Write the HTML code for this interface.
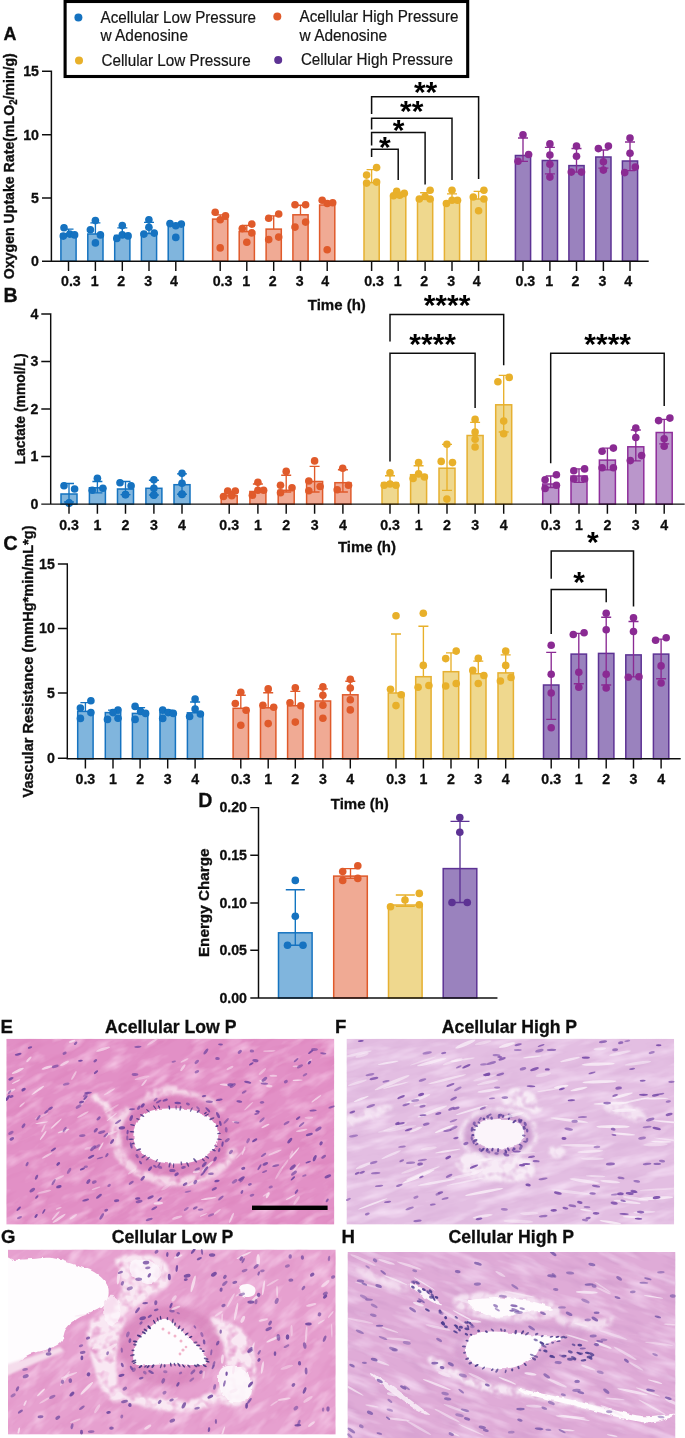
<!DOCTYPE html>
<html lang="en">
<head>
<meta charset="utf-8">
<title>Figure</title>
<style>
html,body{margin:0;padding:0;background:#fff;}
body{width:685px;height:1438px;overflow:hidden;}
svg{display:block;font-family:"Liberation Sans",sans-serif;}
</style>
</head>
<body>
<svg width="685" height="1438" viewBox="0 0 685 1438">
<rect width="685" height="1438" fill="#fff"/>
<defs><filter id="soft" x="0" y="0" width="685" height="1438" filterUnits="userSpaceOnUse"><feGaussianBlur stdDeviation="0.38"/></filter></defs>
<g filter="url(#soft)">
<rect x="65.1" y="1.5" width="402.6" height="75.0" fill="#fff" stroke="#000" stroke-width="3.1"/>
<circle cx="78.4" cy="17.4" r="4" fill="#1272c0"/>
<circle cx="79" cy="60.4" r="4" fill="#e8b02a"/>
<circle cx="277.3" cy="16.4" r="4" fill="#e05a2b"/>
<circle cx="278.2" cy="59.9" r="4" fill="#5d3394"/>
<text x="100.5" y="22.6" font-size="16.1" fill="#151515" stroke="#151515" stroke-width="0.2" textLength="155.5" lengthAdjust="spacingAndGlyphs">Acellular Low Pressure</text>
<text x="100.5" y="40.8" font-size="16.1" fill="#151515" stroke="#151515" stroke-width="0.2" textLength="87.5" lengthAdjust="spacingAndGlyphs">w Adenosine</text>
<text x="101.4" y="65.5" font-size="16.1" fill="#151515" stroke="#151515" stroke-width="0.2" textLength="149.3" lengthAdjust="spacingAndGlyphs">Cellular Low Pressure</text>
<text x="299.6" y="22.4" font-size="16.1" fill="#151515" stroke="#151515" stroke-width="0.2" textLength="159" lengthAdjust="spacingAndGlyphs">Acellular High Pressure</text>
<text x="299.6" y="40.6" font-size="16.1" fill="#151515" stroke="#151515" stroke-width="0.2" textLength="87.5" lengthAdjust="spacingAndGlyphs">w Adenosine</text>
<text x="300.9" y="65.3" font-size="16.1" fill="#151515" stroke="#151515" stroke-width="0.2" textLength="152" lengthAdjust="spacingAndGlyphs">Cellular High Pressure</text>
<text x="3.4" y="40.1" font-size="17.9" font-weight="bold" text-anchor="start" fill="#111" stroke="#111" stroke-width="0.3" >A</text>
<text x="3.4" y="302.0" font-size="19.6" font-weight="bold" text-anchor="start" fill="#111" stroke="#111" stroke-width="0.3" >B</text>
<text x="3.2" y="549.8" font-size="20" font-weight="bold" text-anchor="start" fill="#111" stroke="#111" stroke-width="0.3" >C</text>
<text x="198.2" y="807.2" font-size="19.6" font-weight="bold" text-anchor="start" fill="#111" stroke="#111" stroke-width="0.3" >D</text>
<rect x="60.9" y="234.0" width="15.2" height="27.2" fill="#80b5dd" stroke="#1473c0" stroke-width="1.5"/>
<path d="M68.5 229.1V234.0M63.5 229.1H73.5" stroke="#1272c0" stroke-width="1.35" fill="none"/>
<circle cx="64.0" cy="227.8" r="3.8" fill="#1272c0"/>
<circle cx="63.3" cy="236.1" r="3.8" fill="#1272c0"/>
<circle cx="69.8" cy="234.1" r="3.8" fill="#1272c0"/>
<circle cx="74.6" cy="234.9" r="3.8" fill="#1272c0"/>
<rect x="87.8" y="234.0" width="15.2" height="27.2" fill="#80b5dd" stroke="#1473c0" stroke-width="1.5"/>
<path d="M95.4 222.8V234.0M90.4 222.8H100.4" stroke="#1272c0" stroke-width="1.35" fill="none"/>
<circle cx="95.4" cy="220.6" r="3.8" fill="#1272c0"/>
<circle cx="90.4" cy="229.8" r="3.8" fill="#1272c0"/>
<circle cx="100.4" cy="234.9" r="3.8" fill="#1272c0"/>
<circle cx="95.4" cy="242.9" r="3.8" fill="#1272c0"/>
<rect x="114.7" y="235.5" width="15.2" height="25.7" fill="#80b5dd" stroke="#1473c0" stroke-width="1.5"/>
<path d="M122.3 227.8V235.5M117.3 227.8H127.3" stroke="#1272c0" stroke-width="1.35" fill="none"/>
<circle cx="122.3" cy="225.6" r="3.8" fill="#1272c0"/>
<circle cx="116.8" cy="238.4" r="3.8" fill="#1272c0"/>
<circle cx="122.3" cy="234.9" r="3.8" fill="#1272c0"/>
<circle cx="128.1" cy="235.9" r="3.8" fill="#1272c0"/>
<rect x="141.4" y="233.5" width="15.2" height="27.7" fill="#80b5dd" stroke="#1473c0" stroke-width="1.5"/>
<path d="M149.0 222.3V233.5M144.0 222.3H154.0" stroke="#1272c0" stroke-width="1.35" fill="none"/>
<circle cx="148.9" cy="219.8" r="3.8" fill="#1272c0"/>
<circle cx="148.9" cy="227.3" r="3.8" fill="#1272c0"/>
<circle cx="143.9" cy="234.1" r="3.8" fill="#1272c0"/>
<circle cx="154.2" cy="233.1" r="3.8" fill="#1272c0"/>
<rect x="168.2" y="225.0" width="15.2" height="36.2" fill="#80b5dd" stroke="#1473c0" stroke-width="1.5"/>
<path d="M175.8 224.1V225.0M170.8 224.1H180.8" stroke="#1272c0" stroke-width="1.35" fill="none"/>
<circle cx="170.0" cy="223.6" r="3.8" fill="#1272c0"/>
<circle cx="181.3" cy="224.1" r="3.8" fill="#1272c0"/>
<circle cx="175.8" cy="237.4" r="3.8" fill="#1272c0"/>
<circle cx="175.8" cy="225.8" r="3.8" fill="#1272c0"/>
<rect x="212.6" y="219.1" width="15.2" height="42.1" fill="#f0aa94" stroke="#e05a2b" stroke-width="1.5"/>
<path d="M220.2 214.8V219.1M215.2 214.8H225.2" stroke="#e05a2b" stroke-width="1.35" fill="none"/>
<circle cx="215.2" cy="212.3" r="3.8" fill="#e05a2b"/>
<circle cx="225.5" cy="215.8" r="3.8" fill="#e05a2b"/>
<circle cx="220.2" cy="219.8" r="3.8" fill="#e05a2b"/>
<circle cx="220.2" cy="247.9" r="3.8" fill="#e05a2b"/>
<rect x="239.2" y="231.6" width="15.2" height="29.6" fill="#f0aa94" stroke="#e05a2b" stroke-width="1.5"/>
<path d="M246.8 225.3V231.6M241.8 225.3H251.8" stroke="#e05a2b" stroke-width="1.35" fill="none"/>
<circle cx="251.8" cy="224.1" r="3.8" fill="#e05a2b"/>
<circle cx="242.3" cy="228.6" r="3.8" fill="#e05a2b"/>
<circle cx="251.8" cy="232.9" r="3.8" fill="#e05a2b"/>
<circle cx="246.8" cy="242.2" r="3.8" fill="#e05a2b"/>
<rect x="266.1" y="229.1" width="15.2" height="32.1" fill="#f0aa94" stroke="#e05a2b" stroke-width="1.5"/>
<path d="M273.7 215.8V229.1M268.7 215.8H278.7" stroke="#e05a2b" stroke-width="1.35" fill="none"/>
<circle cx="278.7" cy="214.0" r="3.8" fill="#e05a2b"/>
<circle cx="268.7" cy="218.3" r="3.8" fill="#e05a2b"/>
<circle cx="278.7" cy="237.1" r="3.8" fill="#e05a2b"/>
<circle cx="268.7" cy="239.6" r="3.8" fill="#e05a2b"/>
<rect x="292.9" y="214.8" width="15.2" height="46.4" fill="#f0aa94" stroke="#e05a2b" stroke-width="1.5"/>
<path d="M300.5 205.2V214.8M295.5 205.2H305.5" stroke="#e05a2b" stroke-width="1.35" fill="none"/>
<circle cx="295.0" cy="204.7" r="3.8" fill="#e05a2b"/>
<circle cx="305.6" cy="204.7" r="3.8" fill="#e05a2b"/>
<circle cx="305.6" cy="222.1" r="3.8" fill="#e05a2b"/>
<circle cx="295.0" cy="227.1" r="3.8" fill="#e05a2b"/>
<rect x="319.6" y="205.0" width="15.2" height="56.2" fill="#f0aa94" stroke="#e05a2b" stroke-width="1.5"/>
<path d="M327.2 201.5V205.0M322.2 201.5H332.2" stroke="#e05a2b" stroke-width="1.35" fill="none"/>
<circle cx="322.2" cy="200.2" r="3.8" fill="#e05a2b"/>
<circle cx="327.2" cy="203.5" r="3.8" fill="#e05a2b"/>
<circle cx="332.7" cy="202.7" r="3.8" fill="#e05a2b"/>
<circle cx="327.2" cy="249.7" r="3.8" fill="#e05a2b"/>
<rect x="364.0" y="182.6" width="15.2" height="78.6" fill="#efd88e" stroke="#e6b030" stroke-width="1.5"/>
<path d="M371.6 169.6V182.6M366.6 169.6H376.6" stroke="#e8b02a" stroke-width="1.35" fill="none"/>
<circle cx="376.6" cy="167.6" r="3.8" fill="#e8b02a"/>
<circle cx="366.6" cy="175.1" r="3.8" fill="#e8b02a"/>
<circle cx="366.6" cy="183.1" r="3.8" fill="#e8b02a"/>
<circle cx="376.6" cy="182.1" r="3.8" fill="#e8b02a"/>
<rect x="390.6" y="196.5" width="15.2" height="64.7" fill="#efd88e" stroke="#e6b030" stroke-width="1.5"/>
<path d="M398.2 192.7V196.5M393.2 192.7H403.2" stroke="#e8b02a" stroke-width="1.35" fill="none"/>
<circle cx="396.7" cy="191.4" r="3.8" fill="#e8b02a"/>
<circle cx="393.5" cy="195.7" r="3.8" fill="#e8b02a"/>
<circle cx="399.7" cy="195.2" r="3.8" fill="#e8b02a"/>
<circle cx="404.3" cy="193.2" r="3.8" fill="#e8b02a"/>
<rect x="417.5" y="199.0" width="15.2" height="62.2" fill="#efd88e" stroke="#e6b030" stroke-width="1.5"/>
<path d="M425.1 192.7V199.0M420.1 192.7H430.1" stroke="#e8b02a" stroke-width="1.35" fill="none"/>
<circle cx="430.1" cy="190.2" r="3.8" fill="#e8b02a"/>
<circle cx="425.1" cy="196.5" r="3.8" fill="#e8b02a"/>
<circle cx="419.3" cy="199.0" r="3.8" fill="#e8b02a"/>
<circle cx="430.1" cy="199.0" r="3.8" fill="#e8b02a"/>
<rect x="444.4" y="201.5" width="15.2" height="59.7" fill="#efd88e" stroke="#e6b030" stroke-width="1.5"/>
<path d="M452.0 193.9V201.5M447.0 193.9H457.0" stroke="#e8b02a" stroke-width="1.35" fill="none"/>
<circle cx="452.0" cy="190.2" r="3.8" fill="#e8b02a"/>
<circle cx="446.4" cy="203.5" r="3.8" fill="#e8b02a"/>
<circle cx="452.0" cy="200.2" r="3.8" fill="#e8b02a"/>
<circle cx="457.5" cy="200.2" r="3.8" fill="#e8b02a"/>
<rect x="471.0" y="199.0" width="15.2" height="62.2" fill="#efd88e" stroke="#e6b030" stroke-width="1.5"/>
<path d="M478.6 191.4V199.0M473.6 191.4H483.6" stroke="#e8b02a" stroke-width="1.35" fill="none"/>
<circle cx="483.9" cy="190.2" r="3.8" fill="#e8b02a"/>
<circle cx="473.3" cy="197.0" r="3.8" fill="#e8b02a"/>
<circle cx="483.9" cy="199.0" r="3.8" fill="#e8b02a"/>
<circle cx="478.6" cy="210.8" r="3.8" fill="#e8b02a"/>
<rect x="515.4" y="155.5" width="15.2" height="105.7" fill="#9a82be" stroke="#5d3394" stroke-width="1.5"/>
<path d="M523.0 138.0V161.3M518.0 138.0H528.0M518.0 161.3H528.0" stroke="#8a2b93" stroke-width="1.35" fill="none"/>
<circle cx="523.0" cy="134.8" r="3.8" fill="#8a2b93"/>
<circle cx="528.6" cy="154.5" r="3.8" fill="#8a2b93"/>
<circle cx="518.0" cy="161.3" r="3.8" fill="#8a2b93"/>
<rect x="542.3" y="160.5" width="15.2" height="100.7" fill="#9a82be" stroke="#5d3394" stroke-width="1.5"/>
<path d="M549.9 147.4V173.9M544.9 147.4H554.9M544.9 173.9H554.9" stroke="#8a2b93" stroke-width="1.35" fill="none"/>
<circle cx="549.9" cy="143.9" r="3.8" fill="#8a2b93"/>
<circle cx="549.9" cy="155.0" r="3.8" fill="#8a2b93"/>
<circle cx="549.9" cy="164.3" r="3.8" fill="#8a2b93"/>
<circle cx="549.9" cy="177.1" r="3.8" fill="#8a2b93"/>
<rect x="568.9" y="165.6" width="15.2" height="95.6" fill="#9a82be" stroke="#5d3394" stroke-width="1.5"/>
<path d="M576.5 148.5V172.1M571.5 148.5H581.5M571.5 172.1H581.5" stroke="#8a2b93" stroke-width="1.35" fill="none"/>
<circle cx="576.5" cy="146.1" r="3.8" fill="#8a2b93"/>
<circle cx="576.5" cy="156.3" r="3.8" fill="#8a2b93"/>
<circle cx="571.3" cy="172.1" r="3.8" fill="#8a2b93"/>
<circle cx="581.5" cy="172.1" r="3.8" fill="#8a2b93"/>
<rect x="595.8" y="157.0" width="15.2" height="104.2" fill="#9a82be" stroke="#5d3394" stroke-width="1.5"/>
<path d="M603.4 150.0V168.1M598.4 150.0H608.4M598.4 168.1H608.4" stroke="#8a2b93" stroke-width="1.35" fill="none"/>
<circle cx="598.4" cy="148.6" r="3.8" fill="#8a2b93"/>
<circle cx="608.4" cy="146.1" r="3.8" fill="#8a2b93"/>
<circle cx="603.4" cy="161.8" r="3.8" fill="#8a2b93"/>
<circle cx="603.4" cy="170.1" r="3.8" fill="#8a2b93"/>
<rect x="622.4" y="161.0" width="15.2" height="100.2" fill="#9a82be" stroke="#5d3394" stroke-width="1.5"/>
<path d="M630.0 142.0V170.6M625.0 142.0H635.0M625.0 170.6H635.0" stroke="#8a2b93" stroke-width="1.35" fill="none"/>
<circle cx="630.0" cy="138.1" r="3.8" fill="#8a2b93"/>
<circle cx="630.0" cy="153.3" r="3.8" fill="#8a2b93"/>
<circle cx="635.3" cy="167.1" r="3.8" fill="#8a2b93"/>
<circle cx="624.7" cy="172.6" r="3.8" fill="#8a2b93"/>
<path d="M51.4 71.3V261.2H648.0M42.7 71.3H51.4M42.7 134.8H51.4M42.7 197.9H51.4M42.7 261.2H51.4M68.5 261.2V270.2M95.4 261.2V270.2M122.3 261.2V270.2M149.0 261.2V270.2M175.8 261.2V270.2M220.2 261.2V270.2M246.8 261.2V270.2M273.7 261.2V270.2M300.5 261.2V270.2M327.2 261.2V270.2M371.6 261.2V270.2M398.2 261.2V270.2M425.1 261.2V270.2M452.0 261.2V270.2M478.6 261.2V270.2M523.0 261.2V270.2M549.9 261.2V270.2M576.5 261.2V270.2M603.4 261.2V270.2M630.0 261.2V270.2" stroke="#111" stroke-width="1.45" fill="none" stroke-linecap="square"/>
<text x="39.0" y="76.1" font-size="14.2" font-weight="bold" text-anchor="end" fill="#111" stroke="#111" stroke-width="0.3" >15</text>
<text x="39.0" y="139.6" font-size="14.2" font-weight="bold" text-anchor="end" fill="#111" stroke="#111" stroke-width="0.3" >10</text>
<text x="39.0" y="202.7" font-size="14.2" font-weight="bold" text-anchor="end" fill="#111" stroke="#111" stroke-width="0.3" >5</text>
<text x="39.0" y="266.0" font-size="14.2" font-weight="bold" text-anchor="end" fill="#111" stroke="#111" stroke-width="0.3" >0</text>
<text x="70.9" y="286.2" font-size="14.2" font-weight="bold" text-anchor="middle" fill="#111" stroke="#111" stroke-width="0.3" >0.3</text>
<text x="94.8" y="286.2" font-size="14.2" font-weight="bold" text-anchor="middle" fill="#111" stroke="#111" stroke-width="0.3" >1</text>
<text x="121.3" y="286.2" font-size="14.2" font-weight="bold" text-anchor="middle" fill="#111" stroke="#111" stroke-width="0.3" >2</text>
<text x="148.1" y="286.2" font-size="14.2" font-weight="bold" text-anchor="middle" fill="#111" stroke="#111" stroke-width="0.3" >3</text>
<text x="173.9" y="286.2" font-size="14.2" font-weight="bold" text-anchor="middle" fill="#111" stroke="#111" stroke-width="0.3" >4</text>
<text x="222.6" y="286.2" font-size="14.2" font-weight="bold" text-anchor="middle" fill="#111" stroke="#111" stroke-width="0.3" >0.3</text>
<text x="246.2" y="286.2" font-size="14.2" font-weight="bold" text-anchor="middle" fill="#111" stroke="#111" stroke-width="0.3" >1</text>
<text x="272.7" y="286.2" font-size="14.2" font-weight="bold" text-anchor="middle" fill="#111" stroke="#111" stroke-width="0.3" >2</text>
<text x="299.6" y="286.2" font-size="14.2" font-weight="bold" text-anchor="middle" fill="#111" stroke="#111" stroke-width="0.3" >3</text>
<text x="325.3" y="286.2" font-size="14.2" font-weight="bold" text-anchor="middle" fill="#111" stroke="#111" stroke-width="0.3" >4</text>
<text x="374.0" y="286.2" font-size="14.2" font-weight="bold" text-anchor="middle" fill="#111" stroke="#111" stroke-width="0.3" >0.3</text>
<text x="397.6" y="286.2" font-size="14.2" font-weight="bold" text-anchor="middle" fill="#111" stroke="#111" stroke-width="0.3" >1</text>
<text x="424.1" y="286.2" font-size="14.2" font-weight="bold" text-anchor="middle" fill="#111" stroke="#111" stroke-width="0.3" >2</text>
<text x="451.1" y="286.2" font-size="14.2" font-weight="bold" text-anchor="middle" fill="#111" stroke="#111" stroke-width="0.3" >3</text>
<text x="476.7" y="286.2" font-size="14.2" font-weight="bold" text-anchor="middle" fill="#111" stroke="#111" stroke-width="0.3" >4</text>
<text x="525.4" y="286.2" font-size="14.2" font-weight="bold" text-anchor="middle" fill="#111" stroke="#111" stroke-width="0.3" >0.3</text>
<text x="549.3" y="286.2" font-size="14.2" font-weight="bold" text-anchor="middle" fill="#111" stroke="#111" stroke-width="0.3" >1</text>
<text x="575.5" y="286.2" font-size="14.2" font-weight="bold" text-anchor="middle" fill="#111" stroke="#111" stroke-width="0.3" >2</text>
<text x="602.5" y="286.2" font-size="14.2" font-weight="bold" text-anchor="middle" fill="#111" stroke="#111" stroke-width="0.3" >3</text>
<text x="628.1" y="286.2" font-size="14.2" font-weight="bold" text-anchor="middle" fill="#111" stroke="#111" stroke-width="0.3" >4</text>
<text transform="translate(13.5 166.2) rotate(-90)" font-size="14.8" font-weight="bold" text-anchor="middle" fill="#111" stroke="#111" stroke-width="0.35" textLength="226" lengthAdjust="spacingAndGlyphs">Oxygen Uptake Rate(mLO<tspan font-size="10" dy="3">2</tspan><tspan dy="-3">/min/g)</tspan></text>
<text x="336.8" y="309.6" font-size="15" font-weight="bold" text-anchor="middle" fill="#111" stroke="#111" stroke-width="0.3" >Time (h)</text>
<path d="M371.6 114.0V96.7H478.6V179.0" stroke="#111" stroke-width="1.5" fill="none"/>
<text x="425.6" y="101.9" font-size="30" font-weight="bold" text-anchor="middle" fill="#000" >**</text>
<path d="M371.6 129.5V118.2H452.0V180.0" stroke="#111" stroke-width="1.5" fill="none"/>
<text x="411.8" y="120.7" font-size="30" font-weight="bold" text-anchor="middle" fill="#000" >**</text>
<path d="M371.6 145.5V132.4H425.1V184.5" stroke="#111" stroke-width="1.5" fill="none"/>
<text x="398.7" y="140.3" font-size="30" font-weight="bold" text-anchor="middle" fill="#000" >*</text>
<path d="M371.6 157.0V149.3H398.2V180.0" stroke="#111" stroke-width="1.5" fill="none"/>
<text x="384.9" y="156.6" font-size="30" font-weight="bold" text-anchor="middle" fill="#000" >*</text>
<rect x="61.0" y="494.0" width="16.0" height="10.1" fill="#80b5dd" stroke="#1473c0" stroke-width="1.5"/>
<path d="M69.0 483.5V502.0M64.0 483.5H74.0M64.0 502.0H74.0" stroke="#1272c0" stroke-width="1.35" fill="none"/>
<circle cx="64.0" cy="485.7" r="3.8" fill="#1272c0"/>
<circle cx="74.6" cy="489.0" r="3.8" fill="#1272c0"/>
<circle cx="69.1" cy="502.8" r="3.8" fill="#1272c0"/>
<circle cx="69.1" cy="503.3" r="3.8" fill="#1272c0"/>
<rect x="89.4" y="487.8" width="16.0" height="16.3" fill="#80b5dd" stroke="#1473c0" stroke-width="1.5"/>
<path d="M97.4 481.5V492.8M92.4 481.5H102.4M92.4 492.8H102.4" stroke="#1272c0" stroke-width="1.35" fill="none"/>
<circle cx="97.4" cy="478.2" r="3.8" fill="#1272c0"/>
<circle cx="92.2" cy="490.3" r="3.8" fill="#1272c0"/>
<circle cx="102.9" cy="488.3" r="3.8" fill="#1272c0"/>
<rect x="117.5" y="489.0" width="16.0" height="15.1" fill="#80b5dd" stroke="#1473c0" stroke-width="1.5"/>
<path d="M125.5 481.5V494.6M120.5 481.5H130.5M120.5 494.6H130.5" stroke="#1272c0" stroke-width="1.35" fill="none"/>
<circle cx="120.0" cy="482.7" r="3.8" fill="#1272c0"/>
<circle cx="131.1" cy="485.7" r="3.8" fill="#1272c0"/>
<circle cx="125.5" cy="494.5" r="3.8" fill="#1272c0"/>
<circle cx="125.5" cy="494.8" r="3.8" fill="#1272c0"/>
<rect x="145.9" y="488.3" width="16.0" height="15.8" fill="#80b5dd" stroke="#1473c0" stroke-width="1.5"/>
<path d="M153.9 480.2V495.0M148.9 480.2H158.9M148.9 495.0H158.9" stroke="#1272c0" stroke-width="1.35" fill="none"/>
<circle cx="153.9" cy="479.7" r="3.8" fill="#1272c0"/>
<circle cx="153.9" cy="488.3" r="3.8" fill="#1272c0"/>
<circle cx="153.9" cy="495.3" r="3.8" fill="#1272c0"/>
<circle cx="153.9" cy="494.8" r="3.8" fill="#1272c0"/>
<rect x="174.0" y="484.7" width="16.0" height="19.4" fill="#80b5dd" stroke="#1473c0" stroke-width="1.5"/>
<path d="M182.0 473.9V494.2M177.0 473.9H187.0M177.0 494.2H187.0" stroke="#1272c0" stroke-width="1.35" fill="none"/>
<circle cx="182.0" cy="473.2" r="3.8" fill="#1272c0"/>
<circle cx="182.0" cy="483.2" r="3.8" fill="#1272c0"/>
<circle cx="182.0" cy="494.5" r="3.8" fill="#1272c0"/>
<circle cx="182.0" cy="494.0" r="3.8" fill="#1272c0"/>
<rect x="221.2" y="495.8" width="16.0" height="8.3" fill="#f0aa94" stroke="#e05a2b" stroke-width="1.5"/>
<path d="M229.2 491.5V495.8M224.2 491.5H234.2" stroke="#e05a2b" stroke-width="1.35" fill="none"/>
<circle cx="227.7" cy="491.0" r="3.8" fill="#e05a2b"/>
<circle cx="235.3" cy="491.0" r="3.8" fill="#e05a2b"/>
<circle cx="223.5" cy="496.5" r="3.8" fill="#e05a2b"/>
<circle cx="231.8" cy="495.8" r="3.8" fill="#e05a2b"/>
<rect x="249.9" y="491.5" width="16.0" height="12.6" fill="#f0aa94" stroke="#e05a2b" stroke-width="1.5"/>
<path d="M257.9 484.0V491.5M252.9 484.0H262.9" stroke="#e05a2b" stroke-width="1.35" fill="none"/>
<circle cx="257.9" cy="482.2" r="3.8" fill="#e05a2b"/>
<circle cx="257.9" cy="490.3" r="3.8" fill="#e05a2b"/>
<circle cx="263.6" cy="490.3" r="3.8" fill="#e05a2b"/>
<circle cx="252.4" cy="495.3" r="3.8" fill="#e05a2b"/>
<rect x="278.2" y="490.3" width="16.0" height="13.8" fill="#f0aa94" stroke="#e05a2b" stroke-width="1.5"/>
<path d="M286.2 475.2V492.0M281.2 475.2H291.2M281.2 492.0H291.2" stroke="#e05a2b" stroke-width="1.35" fill="none"/>
<circle cx="286.2" cy="471.4" r="3.8" fill="#e05a2b"/>
<circle cx="280.5" cy="485.2" r="3.8" fill="#e05a2b"/>
<circle cx="292.0" cy="487.8" r="3.8" fill="#e05a2b"/>
<circle cx="280.5" cy="492.8" r="3.8" fill="#e05a2b"/>
<rect x="306.6" y="481.5" width="16.0" height="22.6" fill="#f0aa94" stroke="#e05a2b" stroke-width="1.5"/>
<path d="M314.6 466.4V492.0M309.6 466.4H319.6M309.6 492.0H319.6" stroke="#e05a2b" stroke-width="1.35" fill="none"/>
<circle cx="314.6" cy="460.9" r="3.8" fill="#e05a2b"/>
<circle cx="308.8" cy="481.0" r="3.8" fill="#e05a2b"/>
<circle cx="320.1" cy="486.5" r="3.8" fill="#e05a2b"/>
<circle cx="308.8" cy="490.8" r="3.8" fill="#e05a2b"/>
<rect x="334.9" y="482.7" width="16.0" height="21.4" fill="#f0aa94" stroke="#e05a2b" stroke-width="1.5"/>
<path d="M342.9 469.7V492.0M337.9 469.7H347.9M337.9 492.0H347.9" stroke="#e05a2b" stroke-width="1.35" fill="none"/>
<circle cx="342.7" cy="468.2" r="3.8" fill="#e05a2b"/>
<circle cx="337.2" cy="489.8" r="3.8" fill="#e05a2b"/>
<circle cx="348.5" cy="485.2" r="3.8" fill="#e05a2b"/>
<rect x="382.0" y="482.7" width="16.0" height="21.4" fill="#efd88e" stroke="#e6b030" stroke-width="1.5"/>
<path d="M390.0 475.7V482.7M385.0 475.7H395.0" stroke="#e8b02a" stroke-width="1.35" fill="none"/>
<circle cx="390.0" cy="472.7" r="3.8" fill="#e8b02a"/>
<circle cx="384.2" cy="485.2" r="3.8" fill="#e8b02a"/>
<circle cx="390.0" cy="484.0" r="3.8" fill="#e8b02a"/>
<circle cx="396.0" cy="485.2" r="3.8" fill="#e8b02a"/>
<rect x="410.6" y="474.7" width="16.0" height="29.4" fill="#efd88e" stroke="#e6b030" stroke-width="1.5"/>
<path d="M418.6 465.7V474.7M413.6 465.7H423.6" stroke="#e8b02a" stroke-width="1.35" fill="none"/>
<circle cx="418.6" cy="462.6" r="3.8" fill="#e8b02a"/>
<circle cx="418.6" cy="473.9" r="3.8" fill="#e8b02a"/>
<circle cx="413.1" cy="478.5" r="3.8" fill="#e8b02a"/>
<circle cx="424.4" cy="477.0" r="3.8" fill="#e8b02a"/>
<rect x="439.0" y="468.2" width="16.0" height="35.9" fill="#efd88e" stroke="#e6b030" stroke-width="1.5"/>
<path d="M447.0 444.3V490.3M442.0 444.3H452.0M442.0 490.3H452.0" stroke="#e8b02a" stroke-width="1.35" fill="none"/>
<circle cx="446.9" cy="444.3" r="3.8" fill="#e8b02a"/>
<circle cx="441.2" cy="461.4" r="3.8" fill="#e8b02a"/>
<circle cx="452.5" cy="462.6" r="3.8" fill="#e8b02a"/>
<circle cx="446.9" cy="499.1" r="3.8" fill="#e8b02a"/>
<rect x="467.1" y="435.5" width="16.0" height="68.6" fill="#efd88e" stroke="#e6b030" stroke-width="1.5"/>
<path d="M475.1 422.3V435.5M470.1 422.3H480.1" stroke="#e8b02a" stroke-width="1.35" fill="none"/>
<circle cx="475.1" cy="419.4" r="3.8" fill="#e8b02a"/>
<circle cx="475.1" cy="432.0" r="3.8" fill="#e8b02a"/>
<circle cx="475.1" cy="439.3" r="3.8" fill="#e8b02a"/>
<circle cx="475.1" cy="447.0" r="3.8" fill="#e8b02a"/>
<rect x="495.7" y="404.8" width="16.0" height="99.3" fill="#efd88e" stroke="#e6b030" stroke-width="1.5"/>
<path d="M503.7 375.4V432.0M498.7 375.4H508.7M498.7 432.0H508.7" stroke="#e8b02a" stroke-width="1.35" fill="none"/>
<circle cx="509.2" cy="377.4" r="3.8" fill="#e8b02a"/>
<circle cx="497.9" cy="381.7" r="3.8" fill="#e8b02a"/>
<circle cx="503.7" cy="421.1" r="3.8" fill="#e8b02a"/>
<circle cx="503.7" cy="433.8" r="3.8" fill="#e8b02a"/>
<rect x="542.7" y="484.0" width="16.0" height="20.1" fill="#ba96cb" stroke="#8f2e9b" stroke-width="1.5"/>
<path d="M550.7 476.0V487.5M545.7 476.0H555.7M545.7 487.5H555.7" stroke="#8a2b93" stroke-width="1.35" fill="none"/>
<circle cx="556.4" cy="474.7" r="3.8" fill="#8a2b93"/>
<circle cx="545.1" cy="479.7" r="3.8" fill="#8a2b93"/>
<circle cx="556.4" cy="485.2" r="3.8" fill="#8a2b93"/>
<circle cx="545.1" cy="488.5" r="3.8" fill="#8a2b93"/>
<rect x="571.0" y="476.0" width="16.0" height="28.1" fill="#ba96cb" stroke="#8f2e9b" stroke-width="1.5"/>
<path d="M579.0 468.9V482.3M574.0 468.9H584.0M574.0 482.3H584.0" stroke="#8a2b93" stroke-width="1.35" fill="none"/>
<circle cx="584.6" cy="468.9" r="3.8" fill="#8a2b93"/>
<circle cx="573.8" cy="470.7" r="3.8" fill="#8a2b93"/>
<circle cx="573.8" cy="479.0" r="3.8" fill="#8a2b93"/>
<circle cx="584.6" cy="479.0" r="3.8" fill="#8a2b93"/>
<rect x="599.4" y="460.1" width="16.0" height="44.0" fill="#ba96cb" stroke="#8f2e9b" stroke-width="1.5"/>
<path d="M607.4 448.1V469.9M602.4 448.1H612.4M602.4 469.9H612.4" stroke="#8a2b93" stroke-width="1.35" fill="none"/>
<circle cx="613.4" cy="448.1" r="3.8" fill="#8a2b93"/>
<circle cx="602.1" cy="451.3" r="3.8" fill="#8a2b93"/>
<circle cx="602.1" cy="467.7" r="3.8" fill="#8a2b93"/>
<circle cx="613.4" cy="467.7" r="3.8" fill="#8a2b93"/>
<rect x="627.8" y="446.8" width="16.0" height="57.3" fill="#ba96cb" stroke="#8f2e9b" stroke-width="1.5"/>
<path d="M635.8 430.0V460.8M630.8 430.0H640.8M630.8 460.8H640.8" stroke="#8a2b93" stroke-width="1.35" fill="none"/>
<circle cx="635.8" cy="428.1" r="3.8" fill="#8a2b93"/>
<circle cx="635.8" cy="437.5" r="3.8" fill="#8a2b93"/>
<circle cx="641.6" cy="455.6" r="3.8" fill="#8a2b93"/>
<circle cx="630.3" cy="460.6" r="3.8" fill="#8a2b93"/>
<rect x="656.2" y="432.5" width="16.0" height="71.6" fill="#ba96cb" stroke="#8f2e9b" stroke-width="1.5"/>
<path d="M664.2 419.4V443.8M659.2 419.4H669.2M659.2 443.8H669.2" stroke="#8a2b93" stroke-width="1.35" fill="none"/>
<circle cx="658.6" cy="420.6" r="3.8" fill="#8a2b93"/>
<circle cx="669.9" cy="418.1" r="3.8" fill="#8a2b93"/>
<circle cx="664.2" cy="438.8" r="3.8" fill="#8a2b93"/>
<circle cx="664.2" cy="446.3" r="3.8" fill="#8a2b93"/>
<path d="M50.7 313.9V504.1H684.0M42.0 313.9H50.7M42.0 361.5H50.7M42.0 409.0H50.7M42.0 456.5H50.7M42.0 504.1H50.7M69.0 504.1V513.1M97.4 504.1V513.1M125.5 504.1V513.1M153.9 504.1V513.1M182.0 504.1V513.1M229.2 504.1V513.1M257.9 504.1V513.1M286.2 504.1V513.1M314.6 504.1V513.1M342.9 504.1V513.1M390.0 504.1V513.1M418.6 504.1V513.1M447.0 504.1V513.1M475.1 504.1V513.1M503.7 504.1V513.1M550.7 504.1V513.1M579.0 504.1V513.1M607.4 504.1V513.1M635.8 504.1V513.1M664.2 504.1V513.1" stroke="#111" stroke-width="1.45" fill="none" stroke-linecap="square"/>
<text x="38.3" y="318.7" font-size="14.2" font-weight="bold" text-anchor="end" fill="#111" stroke="#111" stroke-width="0.3" >4</text>
<text x="38.3" y="366.3" font-size="14.2" font-weight="bold" text-anchor="end" fill="#111" stroke="#111" stroke-width="0.3" >3</text>
<text x="38.3" y="413.8" font-size="14.2" font-weight="bold" text-anchor="end" fill="#111" stroke="#111" stroke-width="0.3" >2</text>
<text x="38.3" y="461.3" font-size="14.2" font-weight="bold" text-anchor="end" fill="#111" stroke="#111" stroke-width="0.3" >1</text>
<text x="38.3" y="508.9" font-size="14.2" font-weight="bold" text-anchor="end" fill="#111" stroke="#111" stroke-width="0.3" >0</text>
<text x="69.0" y="529.5" font-size="14.2" font-weight="bold" text-anchor="middle" fill="#111" stroke="#111" stroke-width="0.3" >0.3</text>
<text x="97.4" y="529.5" font-size="14.2" font-weight="bold" text-anchor="middle" fill="#111" stroke="#111" stroke-width="0.3" >1</text>
<text x="125.5" y="529.5" font-size="14.2" font-weight="bold" text-anchor="middle" fill="#111" stroke="#111" stroke-width="0.3" >2</text>
<text x="153.9" y="529.5" font-size="14.2" font-weight="bold" text-anchor="middle" fill="#111" stroke="#111" stroke-width="0.3" >3</text>
<text x="182.0" y="529.5" font-size="14.2" font-weight="bold" text-anchor="middle" fill="#111" stroke="#111" stroke-width="0.3" >4</text>
<text x="229.2" y="529.5" font-size="14.2" font-weight="bold" text-anchor="middle" fill="#111" stroke="#111" stroke-width="0.3" >0.3</text>
<text x="257.9" y="529.5" font-size="14.2" font-weight="bold" text-anchor="middle" fill="#111" stroke="#111" stroke-width="0.3" >1</text>
<text x="286.2" y="529.5" font-size="14.2" font-weight="bold" text-anchor="middle" fill="#111" stroke="#111" stroke-width="0.3" >2</text>
<text x="314.6" y="529.5" font-size="14.2" font-weight="bold" text-anchor="middle" fill="#111" stroke="#111" stroke-width="0.3" >3</text>
<text x="342.9" y="529.5" font-size="14.2" font-weight="bold" text-anchor="middle" fill="#111" stroke="#111" stroke-width="0.3" >4</text>
<text x="390.0" y="529.5" font-size="14.2" font-weight="bold" text-anchor="middle" fill="#111" stroke="#111" stroke-width="0.3" >0.3</text>
<text x="418.6" y="529.5" font-size="14.2" font-weight="bold" text-anchor="middle" fill="#111" stroke="#111" stroke-width="0.3" >1</text>
<text x="447.0" y="529.5" font-size="14.2" font-weight="bold" text-anchor="middle" fill="#111" stroke="#111" stroke-width="0.3" >2</text>
<text x="475.1" y="529.5" font-size="14.2" font-weight="bold" text-anchor="middle" fill="#111" stroke="#111" stroke-width="0.3" >3</text>
<text x="503.7" y="529.5" font-size="14.2" font-weight="bold" text-anchor="middle" fill="#111" stroke="#111" stroke-width="0.3" >4</text>
<text x="550.7" y="529.5" font-size="14.2" font-weight="bold" text-anchor="middle" fill="#111" stroke="#111" stroke-width="0.3" >0.3</text>
<text x="579.0" y="529.5" font-size="14.2" font-weight="bold" text-anchor="middle" fill="#111" stroke="#111" stroke-width="0.3" >1</text>
<text x="607.4" y="529.5" font-size="14.2" font-weight="bold" text-anchor="middle" fill="#111" stroke="#111" stroke-width="0.3" >2</text>
<text x="635.8" y="529.5" font-size="14.2" font-weight="bold" text-anchor="middle" fill="#111" stroke="#111" stroke-width="0.3" >3</text>
<text x="664.2" y="529.5" font-size="14.2" font-weight="bold" text-anchor="middle" fill="#111" stroke="#111" stroke-width="0.3" >4</text>
<text transform="translate(24.6 409.0) rotate(-90)" font-size="14.8" font-weight="bold" text-anchor="middle" fill="#111" stroke="#111" stroke-width="0.35" textLength="111" lengthAdjust="spacingAndGlyphs">Lactate (mmol/L)</text>
<text x="367.0" y="552.3" font-size="15" font-weight="bold" text-anchor="middle" fill="#111" stroke="#111" stroke-width="0.3" >Time (h)</text>
<path d="M390.0 341.5V314.4H503.7V365.3" stroke="#111" stroke-width="1.5" fill="none"/>
<text x="447.0" y="315.4" font-size="30" font-weight="bold" text-anchor="middle" fill="#000" >****</text>
<path d="M390.0 461.4V353.3H475.1V408.0" stroke="#111" stroke-width="1.5" fill="none"/>
<text x="432.7" y="353.7" font-size="30" font-weight="bold" text-anchor="middle" fill="#000" >****</text>
<path d="M550.7 463.2V353.3H664.2V406.0" stroke="#111" stroke-width="1.5" fill="none"/>
<text x="607.7" y="353.7" font-size="30" font-weight="bold" text-anchor="middle" fill="#000" >****</text>
<rect x="77.7" y="711.4" width="15.4" height="47.4" fill="#80b5dd" stroke="#1473c0" stroke-width="1.5"/>
<path d="M85.4 702.6V711.4M80.4 702.6H90.4" stroke="#1272c0" stroke-width="1.35" fill="none"/>
<circle cx="90.9" cy="700.8" r="3.8" fill="#1272c0"/>
<circle cx="80.4" cy="708.1" r="3.8" fill="#1272c0"/>
<circle cx="90.9" cy="712.6" r="3.8" fill="#1272c0"/>
<circle cx="80.4" cy="718.4" r="3.8" fill="#1272c0"/>
<rect x="105.3" y="712.6" width="15.4" height="46.2" fill="#80b5dd" stroke="#1473c0" stroke-width="1.5"/>
<path d="M113.0 710.1V712.6M108.0 710.1H118.0" stroke="#1272c0" stroke-width="1.35" fill="none"/>
<circle cx="118.0" cy="710.1" r="3.8" fill="#1272c0"/>
<circle cx="113.0" cy="712.6" r="3.8" fill="#1272c0"/>
<circle cx="107.5" cy="719.4" r="3.8" fill="#1272c0"/>
<circle cx="118.0" cy="718.2" r="3.8" fill="#1272c0"/>
<rect x="132.4" y="713.4" width="15.4" height="45.4" fill="#80b5dd" stroke="#1473c0" stroke-width="1.5"/>
<path d="M140.1 707.6V713.4M135.1 707.6H145.1" stroke="#1272c0" stroke-width="1.35" fill="none"/>
<circle cx="135.1" cy="706.4" r="3.8" fill="#1272c0"/>
<circle cx="140.6" cy="711.4" r="3.8" fill="#1272c0"/>
<circle cx="145.6" cy="713.4" r="3.8" fill="#1272c0"/>
<circle cx="135.1" cy="719.4" r="3.8" fill="#1272c0"/>
<rect x="160.0" y="712.6" width="15.4" height="46.2" fill="#80b5dd" stroke="#1473c0" stroke-width="1.5"/>
<path d="M167.7 710.1V712.6M162.7 710.1H172.7" stroke="#1272c0" stroke-width="1.35" fill="none"/>
<circle cx="162.7" cy="710.1" r="3.8" fill="#1272c0"/>
<circle cx="168.2" cy="712.6" r="3.8" fill="#1272c0"/>
<circle cx="162.7" cy="718.4" r="3.8" fill="#1272c0"/>
<circle cx="173.3" cy="713.4" r="3.8" fill="#1272c0"/>
<rect x="187.4" y="712.8" width="15.4" height="46.0" fill="#80b5dd" stroke="#1473c0" stroke-width="1.5"/>
<path d="M195.1 702.0V712.8M190.1 702.0H200.1" stroke="#1272c0" stroke-width="1.35" fill="none"/>
<circle cx="195.1" cy="699.0" r="3.8" fill="#1272c0"/>
<circle cx="195.1" cy="709.0" r="3.8" fill="#1272c0"/>
<circle cx="189.6" cy="716.5" r="3.8" fill="#1272c0"/>
<circle cx="200.4" cy="714.0" r="3.8" fill="#1272c0"/>
<rect x="233.1" y="708.3" width="15.4" height="50.5" fill="#f0aa94" stroke="#e05a2b" stroke-width="1.5"/>
<path d="M240.8 695.2V708.3M235.8 695.2H245.8" stroke="#e05a2b" stroke-width="1.35" fill="none"/>
<circle cx="240.8" cy="692.2" r="3.8" fill="#e05a2b"/>
<circle cx="235.3" cy="703.5" r="3.8" fill="#e05a2b"/>
<circle cx="246.1" cy="710.3" r="3.8" fill="#e05a2b"/>
<circle cx="240.8" cy="725.3" r="3.8" fill="#e05a2b"/>
<rect x="260.5" y="707.8" width="15.4" height="51.0" fill="#f0aa94" stroke="#e05a2b" stroke-width="1.5"/>
<path d="M268.2 692.7V707.8M263.2 692.7H273.2" stroke="#e05a2b" stroke-width="1.35" fill="none"/>
<circle cx="268.2" cy="688.9" r="3.8" fill="#e05a2b"/>
<circle cx="262.9" cy="705.2" r="3.8" fill="#e05a2b"/>
<circle cx="273.7" cy="707.2" r="3.8" fill="#e05a2b"/>
<circle cx="268.2" cy="723.6" r="3.8" fill="#e05a2b"/>
<rect x="287.6" y="705.7" width="15.4" height="53.1" fill="#f0aa94" stroke="#e05a2b" stroke-width="1.5"/>
<path d="M295.3 691.4V705.7M290.3 691.4H300.3" stroke="#e05a2b" stroke-width="1.35" fill="none"/>
<circle cx="295.3" cy="687.7" r="3.8" fill="#e05a2b"/>
<circle cx="290.0" cy="702.7" r="3.8" fill="#e05a2b"/>
<circle cx="300.8" cy="705.7" r="3.8" fill="#e05a2b"/>
<circle cx="295.3" cy="722.1" r="3.8" fill="#e05a2b"/>
<rect x="315.2" y="701.0" width="15.4" height="57.8" fill="#f0aa94" stroke="#e05a2b" stroke-width="1.5"/>
<path d="M322.9 688.9V701.0M317.9 688.9H327.9" stroke="#e05a2b" stroke-width="1.35" fill="none"/>
<circle cx="322.9" cy="686.9" r="3.8" fill="#e05a2b"/>
<circle cx="322.9" cy="695.2" r="3.8" fill="#e05a2b"/>
<circle cx="322.9" cy="705.2" r="3.8" fill="#e05a2b"/>
<circle cx="322.9" cy="718.3" r="3.8" fill="#e05a2b"/>
<rect x="342.6" y="694.8" width="15.4" height="64.0" fill="#f0aa94" stroke="#e05a2b" stroke-width="1.5"/>
<path d="M350.3 681.2V694.8M345.3 681.2H355.3" stroke="#e05a2b" stroke-width="1.35" fill="none"/>
<circle cx="350.3" cy="679.2" r="3.8" fill="#e05a2b"/>
<circle cx="350.3" cy="688.0" r="3.8" fill="#e05a2b"/>
<circle cx="350.3" cy="699.8" r="3.8" fill="#e05a2b"/>
<circle cx="350.3" cy="709.9" r="3.8" fill="#e05a2b"/>
<rect x="388.3" y="693.0" width="15.4" height="65.8" fill="#efd88e" stroke="#e6b030" stroke-width="1.5"/>
<path d="M396.0 634.0V693.0M391.0 634.0H401.0" stroke="#e8b02a" stroke-width="1.35" fill="none"/>
<circle cx="396.0" cy="615.7" r="3.8" fill="#e8b02a"/>
<circle cx="390.5" cy="689.3" r="3.8" fill="#e8b02a"/>
<circle cx="401.2" cy="694.8" r="3.8" fill="#e8b02a"/>
<circle cx="396.0" cy="705.6" r="3.8" fill="#e8b02a"/>
<rect x="415.7" y="676.7" width="15.4" height="82.1" fill="#efd88e" stroke="#e6b030" stroke-width="1.5"/>
<path d="M423.4 626.2V676.7M418.4 626.2H428.4" stroke="#e8b02a" stroke-width="1.35" fill="none"/>
<circle cx="423.3" cy="613.2" r="3.8" fill="#e8b02a"/>
<circle cx="423.3" cy="665.4" r="3.8" fill="#e8b02a"/>
<circle cx="418.1" cy="687.3" r="3.8" fill="#e8b02a"/>
<circle cx="428.9" cy="685.5" r="3.8" fill="#e8b02a"/>
<rect x="443.3" y="671.7" width="15.4" height="87.1" fill="#efd88e" stroke="#e6b030" stroke-width="1.5"/>
<path d="M451.0 652.9V671.7M446.0 652.9H456.0" stroke="#e8b02a" stroke-width="1.35" fill="none"/>
<circle cx="456.2" cy="651.1" r="3.8" fill="#e8b02a"/>
<circle cx="445.7" cy="658.6" r="3.8" fill="#e8b02a"/>
<circle cx="456.2" cy="683.5" r="3.8" fill="#e8b02a"/>
<circle cx="445.7" cy="686.0" r="3.8" fill="#e8b02a"/>
<rect x="470.6" y="673.7" width="15.4" height="85.1" fill="#efd88e" stroke="#e6b030" stroke-width="1.5"/>
<path d="M478.3 661.1V673.7M473.3 661.1H483.3" stroke="#e8b02a" stroke-width="1.35" fill="none"/>
<circle cx="478.3" cy="658.4" r="3.8" fill="#e8b02a"/>
<circle cx="472.8" cy="670.4" r="3.8" fill="#e8b02a"/>
<circle cx="483.9" cy="675.5" r="3.8" fill="#e8b02a"/>
<circle cx="478.3" cy="683.5" r="3.8" fill="#e8b02a"/>
<rect x="498.0" y="672.9" width="15.4" height="85.9" fill="#efd88e" stroke="#e6b030" stroke-width="1.5"/>
<path d="M505.7 654.9V672.9M500.7 654.9H510.7" stroke="#e8b02a" stroke-width="1.35" fill="none"/>
<circle cx="505.7" cy="651.1" r="3.8" fill="#e8b02a"/>
<circle cx="505.7" cy="665.4" r="3.8" fill="#e8b02a"/>
<circle cx="511.0" cy="677.5" r="3.8" fill="#e8b02a"/>
<circle cx="500.4" cy="681.0" r="3.8" fill="#e8b02a"/>
<rect x="543.5" y="685.0" width="15.4" height="73.8" fill="#9a82be" stroke="#5d3394" stroke-width="1.5"/>
<path d="M551.2 652.4V719.4M546.2 652.4H556.2M546.2 719.4H556.2" stroke="#8a2b93" stroke-width="1.35" fill="none"/>
<circle cx="551.2" cy="645.3" r="3.8" fill="#8a2b93"/>
<circle cx="551.2" cy="674.2" r="3.8" fill="#8a2b93"/>
<circle cx="551.2" cy="693.0" r="3.8" fill="#8a2b93"/>
<circle cx="551.2" cy="727.7" r="3.8" fill="#8a2b93"/>
<rect x="571.1" y="654.1" width="15.4" height="104.7" fill="#9a82be" stroke="#5d3394" stroke-width="1.5"/>
<path d="M578.8 633.3V683.7M573.8 633.3H583.8M573.8 683.7H583.8" stroke="#8a2b93" stroke-width="1.35" fill="none"/>
<circle cx="573.3" cy="634.5" r="3.8" fill="#8a2b93"/>
<circle cx="584.1" cy="632.8" r="3.8" fill="#8a2b93"/>
<circle cx="578.8" cy="672.2" r="3.8" fill="#8a2b93"/>
<circle cx="578.8" cy="687.3" r="3.8" fill="#8a2b93"/>
<rect x="598.5" y="653.4" width="15.4" height="105.4" fill="#9a82be" stroke="#5d3394" stroke-width="1.5"/>
<path d="M606.2 617.2V685.0M601.2 617.2H611.2M601.2 685.0H611.2" stroke="#8a2b93" stroke-width="1.35" fill="none"/>
<circle cx="606.2" cy="613.2" r="3.8" fill="#8a2b93"/>
<circle cx="606.2" cy="629.8" r="3.8" fill="#8a2b93"/>
<circle cx="606.2" cy="674.2" r="3.8" fill="#8a2b93"/>
<circle cx="606.2" cy="688.0" r="3.8" fill="#8a2b93"/>
<rect x="625.8" y="654.9" width="15.4" height="103.9" fill="#9a82be" stroke="#5d3394" stroke-width="1.5"/>
<path d="M633.5 621.5V676.8M628.5 621.5H638.5M628.5 676.8H638.5" stroke="#8a2b93" stroke-width="1.35" fill="none"/>
<circle cx="633.5" cy="617.7" r="3.8" fill="#8a2b93"/>
<circle cx="633.5" cy="631.5" r="3.8" fill="#8a2b93"/>
<circle cx="628.3" cy="677.2" r="3.8" fill="#8a2b93"/>
<circle cx="639.0" cy="676.7" r="3.8" fill="#8a2b93"/>
<rect x="653.4" y="654.1" width="15.4" height="104.7" fill="#9a82be" stroke="#5d3394" stroke-width="1.5"/>
<path d="M661.1 639.1V678.7M656.1 639.1H666.1M656.1 678.7H666.1" stroke="#8a2b93" stroke-width="1.35" fill="none"/>
<circle cx="655.6" cy="640.3" r="3.8" fill="#8a2b93"/>
<circle cx="666.2" cy="637.8" r="3.8" fill="#8a2b93"/>
<circle cx="661.1" cy="665.9" r="3.8" fill="#8a2b93"/>
<circle cx="661.1" cy="683.0" r="3.8" fill="#8a2b93"/>
<path d="M67.3 563.9V758.8H680.0M58.6 563.9H67.3M58.6 628.4H67.3M58.6 693.0H67.3M58.6 758.3H67.3M85.4 758.8V767.8M113.0 758.8V767.8M140.1 758.8V767.8M167.7 758.8V767.8M195.1 758.8V767.8M240.8 758.8V767.8M268.2 758.8V767.8M295.3 758.8V767.8M322.9 758.8V767.8M350.3 758.8V767.8M396.0 758.8V767.8M423.4 758.8V767.8M451.0 758.8V767.8M478.3 758.8V767.8M505.7 758.8V767.8M551.2 758.8V767.8M578.8 758.8V767.8M606.2 758.8V767.8M633.5 758.8V767.8M661.1 758.8V767.8" stroke="#111" stroke-width="1.45" fill="none" stroke-linecap="square"/>
<text x="54.9" y="568.7" font-size="14.2" font-weight="bold" text-anchor="end" fill="#111" stroke="#111" stroke-width="0.3" >15</text>
<text x="54.9" y="633.2" font-size="14.2" font-weight="bold" text-anchor="end" fill="#111" stroke="#111" stroke-width="0.3" >10</text>
<text x="54.9" y="697.8" font-size="14.2" font-weight="bold" text-anchor="end" fill="#111" stroke="#111" stroke-width="0.3" >5</text>
<text x="54.9" y="763.1" font-size="14.2" font-weight="bold" text-anchor="end" fill="#111" stroke="#111" stroke-width="0.3" >0</text>
<text x="85.4" y="784.0" font-size="14.2" font-weight="bold" text-anchor="middle" fill="#111" stroke="#111" stroke-width="0.3" >0.3</text>
<text x="113.0" y="784.0" font-size="14.2" font-weight="bold" text-anchor="middle" fill="#111" stroke="#111" stroke-width="0.3" >1</text>
<text x="140.1" y="784.0" font-size="14.2" font-weight="bold" text-anchor="middle" fill="#111" stroke="#111" stroke-width="0.3" >2</text>
<text x="167.7" y="784.0" font-size="14.2" font-weight="bold" text-anchor="middle" fill="#111" stroke="#111" stroke-width="0.3" >3</text>
<text x="195.1" y="784.0" font-size="14.2" font-weight="bold" text-anchor="middle" fill="#111" stroke="#111" stroke-width="0.3" >4</text>
<text x="240.8" y="784.0" font-size="14.2" font-weight="bold" text-anchor="middle" fill="#111" stroke="#111" stroke-width="0.3" >0.3</text>
<text x="268.2" y="784.0" font-size="14.2" font-weight="bold" text-anchor="middle" fill="#111" stroke="#111" stroke-width="0.3" >1</text>
<text x="295.3" y="784.0" font-size="14.2" font-weight="bold" text-anchor="middle" fill="#111" stroke="#111" stroke-width="0.3" >2</text>
<text x="322.9" y="784.0" font-size="14.2" font-weight="bold" text-anchor="middle" fill="#111" stroke="#111" stroke-width="0.3" >3</text>
<text x="350.3" y="784.0" font-size="14.2" font-weight="bold" text-anchor="middle" fill="#111" stroke="#111" stroke-width="0.3" >4</text>
<text x="396.0" y="784.0" font-size="14.2" font-weight="bold" text-anchor="middle" fill="#111" stroke="#111" stroke-width="0.3" >0.3</text>
<text x="423.4" y="784.0" font-size="14.2" font-weight="bold" text-anchor="middle" fill="#111" stroke="#111" stroke-width="0.3" >1</text>
<text x="451.0" y="784.0" font-size="14.2" font-weight="bold" text-anchor="middle" fill="#111" stroke="#111" stroke-width="0.3" >2</text>
<text x="478.3" y="784.0" font-size="14.2" font-weight="bold" text-anchor="middle" fill="#111" stroke="#111" stroke-width="0.3" >3</text>
<text x="505.7" y="784.0" font-size="14.2" font-weight="bold" text-anchor="middle" fill="#111" stroke="#111" stroke-width="0.3" >4</text>
<text x="551.2" y="784.0" font-size="14.2" font-weight="bold" text-anchor="middle" fill="#111" stroke="#111" stroke-width="0.3" >0.3</text>
<text x="578.8" y="784.0" font-size="14.2" font-weight="bold" text-anchor="middle" fill="#111" stroke="#111" stroke-width="0.3" >1</text>
<text x="606.2" y="784.0" font-size="14.2" font-weight="bold" text-anchor="middle" fill="#111" stroke="#111" stroke-width="0.3" >2</text>
<text x="633.5" y="784.0" font-size="14.2" font-weight="bold" text-anchor="middle" fill="#111" stroke="#111" stroke-width="0.3" >3</text>
<text x="661.1" y="784.0" font-size="14.2" font-weight="bold" text-anchor="middle" fill="#111" stroke="#111" stroke-width="0.3" >4</text>
<text transform="translate(32.8 661.5) rotate(-90)" font-size="14.8" font-weight="bold" text-anchor="middle" fill="#111" stroke="#111" stroke-width="0.35" textLength="272" lengthAdjust="spacingAndGlyphs">Vascular Resistance (mmHg*min/mL*g)</text>
<text x="359.8" y="808.5" font-size="15" font-weight="bold" text-anchor="middle" fill="#111" stroke="#111" stroke-width="0.3" >Time (h)</text>
<path d="M551.2 578.8V551.0H633.5V606.4" stroke="#111" stroke-width="1.5" fill="none"/>
<text x="592.9" y="552.2" font-size="30" font-weight="bold" text-anchor="middle" fill="#000" >*</text>
<path d="M551.2 634.0V589.6H606.2V602.2" stroke="#111" stroke-width="1.5" fill="none"/>
<text x="579.0" y="591.7" font-size="30" font-weight="bold" text-anchor="middle" fill="#000" >*</text>
<rect x="278.5" y="932.8" width="33.6" height="65.1" fill="#80b5dd" stroke="#1473c0" stroke-width="1.5"/>
<path d="M295.3 889.7V945.2M285.8 889.7H304.8M285.8 945.2H304.8" stroke="#1272c0" stroke-width="1.35" fill="none"/>
<circle cx="295.3" cy="880.4" r="3.8" fill="#1272c0"/>
<circle cx="295.3" cy="916.3" r="3.8" fill="#1272c0"/>
<circle cx="287.5" cy="945.2" r="3.8" fill="#1272c0"/>
<circle cx="303.0" cy="945.2" r="3.8" fill="#1272c0"/>
<rect x="333.7" y="876.1" width="33.6" height="121.8" fill="#f0aa94" stroke="#e05a2b" stroke-width="1.5"/>
<path d="M350.5 868.6V878.3M341.0 868.6H360.0M341.0 878.3H360.0" stroke="#e05a2b" stroke-width="1.35" fill="none"/>
<circle cx="357.8" cy="865.8" r="3.8" fill="#e05a2b"/>
<circle cx="342.7" cy="871.6" r="3.8" fill="#e05a2b"/>
<circle cx="357.8" cy="878.4" r="3.8" fill="#e05a2b"/>
<circle cx="342.7" cy="880.4" r="3.8" fill="#e05a2b"/>
<rect x="388.5" y="905.0" width="33.6" height="92.9" fill="#efd88e" stroke="#e6b030" stroke-width="1.5"/>
<path d="M405.3 895.0V906.3M395.8 895.0H414.8M395.8 906.3H414.8" stroke="#e8b02a" stroke-width="1.35" fill="none"/>
<circle cx="419.3" cy="893.4" r="3.8" fill="#e8b02a"/>
<circle cx="405.0" cy="900.0" r="3.8" fill="#e8b02a"/>
<circle cx="390.5" cy="906.8" r="3.8" fill="#e8b02a"/>
<circle cx="419.3" cy="904.7" r="3.8" fill="#e8b02a"/>
<rect x="443.2" y="868.6" width="33.6" height="129.3" fill="#9a82be" stroke="#5d3394" stroke-width="1.5"/>
<path d="M460.0 821.4V902.5M450.5 821.4H469.5M450.5 902.5H469.5" stroke="#5d3394" stroke-width="1.35" fill="none"/>
<circle cx="459.8" cy="817.6" r="3.8" fill="#5d3394"/>
<circle cx="459.8" cy="832.2" r="3.8" fill="#5d3394"/>
<circle cx="452.0" cy="902.5" r="3.8" fill="#5d3394"/>
<circle cx="467.3" cy="902.5" r="3.8" fill="#5d3394"/>
<path d="M258.5 807.6V997.9H496.7M251.0 807.6H258.5M251.0 855.3H258.5M251.0 903.0H258.5M251.0 950.2H258.5M251.0 997.9H258.5" stroke="#111" stroke-width="1.45" fill="none" stroke-linecap="square"/>
<text x="247.0" y="812.4" font-size="14.2" font-weight="bold" text-anchor="end" fill="#111" stroke="#111" stroke-width="0.3" >0.20</text>
<text x="247.0" y="860.1" font-size="14.2" font-weight="bold" text-anchor="end" fill="#111" stroke="#111" stroke-width="0.3" >0.15</text>
<text x="247.0" y="907.8" font-size="14.2" font-weight="bold" text-anchor="end" fill="#111" stroke="#111" stroke-width="0.3" >0.10</text>
<text x="247.0" y="955.0" font-size="14.2" font-weight="bold" text-anchor="end" fill="#111" stroke="#111" stroke-width="0.3" >0.05</text>
<text x="247.0" y="1002.7" font-size="14.2" font-weight="bold" text-anchor="end" fill="#111" stroke="#111" stroke-width="0.3" >0.00</text>
<text transform="translate(209.2 902.8) rotate(-90)" font-size="14.8" font-weight="bold" text-anchor="middle" fill="#111" stroke="#111" stroke-width="0.35" textLength="108.5" lengthAdjust="spacingAndGlyphs">Energy Charge</text>
<defs>
<filter id="b05" x="-20%" y="-20%" width="140%" height="140%"><feGaussianBlur stdDeviation="0.75"/></filter>
<filter id="b1" x="-20%" y="-20%" width="140%" height="140%"><feGaussianBlur stdDeviation="1"/></filter>
<filter id="b2" x="-30%" y="-30%" width="160%" height="160%"><feGaussianBlur stdDeviation="2"/></filter>
<filter id="b3" x="-30%" y="-30%" width="160%" height="160%"><feGaussianBlur stdDeviation="3.2"/></filter>
<filter id="pale" x="-10%" y="-10%" width="120%" height="120%" color-interpolation-filters="sRGB"><feTurbulence type="fractalNoise" baseFrequency="0.11" numOctaves="2" seed="4" result="n"/><feDisplacementMap in="SourceGraphic" in2="n" scale="6" xChannelSelector="R" yChannelSelector="G" result="d"/><feGaussianBlur in="d" stdDeviation="1.6" result="b"/><feColorMatrix in="n" type="matrix" values="0 0 0 0 1  0 0 0 0 1  0 0 0 0 1  0 2.6 0 0 -0.45" result="m"/><feComposite in="b" in2="m" operator="in"/></filter>
<filter id="rough2" x="-20%" y="-20%" width="140%" height="140%"><feTurbulence type="fractalNoise" baseFrequency="0.14" numOctaves="2" seed="9" result="n"/><feDisplacementMap in="SourceGraphic" in2="n" scale="3.5" xChannelSelector="R" yChannelSelector="G"/><feGaussianBlur stdDeviation="0.7"/></filter>
<filter id="txE" x="0" y="0" width="100%" height="100%" color-interpolation-filters="sRGB"><feTurbulence type="fractalNoise" baseFrequency="0.035 0.1" numOctaves="3" seed="3"/><feColorMatrix type="matrix" values="0 0 0 0 1  0 0 0 0 0.88  0 0 0 0 0.96  1.3 0 0 0 -0.62"/></filter>
<filter id="txEd" x="0" y="0" width="100%" height="100%" color-interpolation-filters="sRGB"><feTurbulence type="fractalNoise" baseFrequency="0.03 0.11" numOctaves="3" seed="11"/><feColorMatrix type="matrix" values="0 0 0 0 0.84  0 0 0 0 0.46  0 0 0 0 0.7  0.9 0 0 0 -0.42"/></filter>
<filter id="txF" x="0" y="0" width="100%" height="100%" color-interpolation-filters="sRGB"><feTurbulence type="fractalNoise" baseFrequency="0.025 0.1" numOctaves="3" seed="5"/><feColorMatrix type="matrix" values="0 0 0 0 0.99  0 0 0 0 0.93  0 0 0 0 0.99  1.5 0 0 0 -0.7"/></filter>
<filter id="txFd" x="0" y="0" width="100%" height="100%" color-interpolation-filters="sRGB"><feTurbulence type="fractalNoise" baseFrequency="0.03 0.12" numOctaves="3" seed="17"/><feColorMatrix type="matrix" values="0 0 0 0 0.82  0 0 0 0 0.64  0 0 0 0 0.82  0.9 0 0 0 -0.42"/></filter>
<filter id="txG" x="0" y="0" width="100%" height="100%" color-interpolation-filters="sRGB"><feTurbulence type="fractalNoise" baseFrequency="0.035 0.09" numOctaves="3" seed="8"/><feColorMatrix type="matrix" values="0 0 0 0 1  0 0 0 0 0.9  0 0 0 0 0.97  1.3 0 0 0 -0.62"/></filter>
<filter id="txGd" x="0" y="0" width="100%" height="100%" color-interpolation-filters="sRGB"><feTurbulence type="fractalNoise" baseFrequency="0.03 0.1" numOctaves="3" seed="21"/><feColorMatrix type="matrix" values="0 0 0 0 0.85  0 0 0 0 0.5  0 0 0 0 0.73  0.9 0 0 0 -0.42"/></filter>
<filter id="txH" x="0" y="0" width="100%" height="100%" color-interpolation-filters="sRGB"><feTurbulence type="fractalNoise" baseFrequency="0.025 0.1" numOctaves="3" seed="13"/><feColorMatrix type="matrix" values="0 0 0 0 0.99  0 0 0 0 0.92  0 0 0 0 0.99  1.5 0 0 0 -0.7"/></filter>
<filter id="txHd" x="0" y="0" width="100%" height="100%" color-interpolation-filters="sRGB"><feTurbulence type="fractalNoise" baseFrequency="0.03 0.12" numOctaves="3" seed="23"/><feColorMatrix type="matrix" values="0 0 0 0 0.78  0 0 0 0 0.56  0 0 0 0 0.77  0.9 0 0 0 -0.42"/></filter>
</defs>
<clipPath id="cpE"><rect x="6.3" y="1038.8" width="328.0" height="185.8"/></clipPath>
<g clip-path="url(#cpE)">
<rect x="6.3" y="1038.8" width="328.0" height="185.8" fill="#e290c6"/>
<g transform="rotate(-28 170.3 1131.7)">
<rect x="-22.2" y="939.2" width="385.0" height="385.0" filter="url(#txEd)"/>
<rect x="-22.2" y="939.2" width="385.0" height="385.0" filter="url(#txE)"/>
</g>
<g fill="none" stroke="#f7e0ed" stroke-linecap="round" filter="url(#pale)">
<path d="M233.3 1152.4C231.4 1154.8 226.6 1162.8 221.6 1166.9C216.6 1171.1 210.1 1174.7 203.4 1177.2C196.7 1179.7 188.8 1181.3 181.3 1181.8C173.8 1182.3 165.7 1181.7 158.5 1180.1C151.3 1178.5 144.1 1175.7 138.2 1172.3C132.3 1168.9 126.9 1164.3 123.2 1159.5C119.4 1154.7 116.7 1149.0 115.6 1143.5C114.6 1138.0 114.9 1132.0 116.6 1126.6C118.4 1121.2 124.5 1113.8 126.0 1111.2" stroke-width="9" opacity="0.85"/>
<path d="M137.4 1103.3C140.1 1102.1 147.8 1097.9 153.5 1096.2C159.3 1094.5 165.6 1093.4 171.8 1093.1C178.0 1092.8 184.5 1093.2 190.5 1094.3C196.5 1095.4 202.6 1097.3 207.8 1099.7C213.0 1102.1 219.6 1107.2 222.0 1108.7" stroke-width="5" opacity="0.7"/>
<path d="M96 1098 L106 1106 L112 1118" stroke-width="7"/>
<path d="M150 1094 L168 1089 L186 1091" stroke-width="6" opacity="0.8"/>
</g>
<path d="M223.5 1136.0C223.5 1140.8 221.8 1146.0 218.7 1150.3C215.7 1154.6 210.9 1158.8 205.4 1161.8C200.0 1164.8 192.9 1167.1 186.2 1168.2C179.4 1169.2 171.6 1169.2 164.8 1168.2C158.1 1167.1 151.0 1164.8 145.6 1161.8C140.1 1158.8 135.3 1154.6 132.3 1150.3C129.2 1146.0 127.5 1140.8 127.5 1136.0C127.5 1131.2 129.2 1126.0 132.3 1121.7C135.3 1117.4 140.1 1113.2 145.6 1110.2C151.0 1107.2 158.1 1104.9 164.8 1103.8C171.6 1102.8 179.4 1102.8 186.2 1103.8C192.9 1104.9 200.0 1107.2 205.4 1110.2C210.9 1113.2 215.7 1117.4 218.7 1121.7C221.8 1126.0 223.5 1131.2 223.5 1136.0Z" fill="none" stroke="#cf74b0" stroke-width="10" opacity="0.55" filter="url(#b2)"/>
<path d="M133.5 1138.0C133.2 1134.3 133.8 1129.6 135.0 1126.0C136.2 1122.4 138.2 1119.1 141.0 1116.5C143.8 1113.9 147.8 1111.8 152.0 1110.5C156.2 1109.2 161.0 1108.8 166.0 1108.5C171.0 1108.2 176.7 1108.0 182.0 1108.5C187.3 1109.0 193.3 1109.8 198.0 1111.5C202.7 1113.2 206.8 1115.8 210.0 1118.5C213.2 1121.2 215.7 1124.6 217.0 1128.0C218.3 1131.4 218.5 1135.5 218.0 1139.0C217.5 1142.5 216.2 1146.0 214.0 1149.0C211.8 1152.0 208.7 1154.8 205.0 1157.0C201.3 1159.2 196.8 1160.9 192.0 1162.0C187.2 1163.1 181.3 1163.5 176.0 1163.5C170.7 1163.5 165.0 1163.2 160.0 1162.0C155.0 1160.8 149.8 1158.3 146.0 1156.0C142.2 1153.7 139.1 1151.0 137.0 1148.0C134.9 1145.0 133.8 1141.7 133.5 1138.0Z" fill="#fefcfe" filter="url(#rough2)"/>
<g fill="#4e3688" filter="url(#b05)"><ellipse cx="131.1" cy="1139.2" rx="2.7" ry="0.8" transform="rotate(177 131.1 1139.2)" opacity="0.90"/><ellipse cx="131.9" cy="1131.8" rx="2.4" ry="0.7" transform="rotate(-176 131.9 1131.8)" opacity="0.99"/><ellipse cx="132.5" cy="1125.0" rx="2.5" ry="0.7" transform="rotate(-168 132.5 1125.0)" opacity="0.84"/><ellipse cx="137.8" cy="1119.1" rx="1.8" ry="0.8" transform="rotate(-157 137.8 1119.1)" opacity="0.79"/><ellipse cx="142.2" cy="1115.5" rx="2.4" ry="1.0" transform="rotate(-149 142.2 1115.5)" opacity="0.82"/><ellipse cx="147.9" cy="1110.7" rx="2.4" ry="0.6" transform="rotate(-138 147.9 1110.7)" opacity="0.84"/><ellipse cx="154.7" cy="1107.3" rx="2.4" ry="0.6" transform="rotate(-127 154.7 1107.3)" opacity="0.87"/><ellipse cx="159.0" cy="1106.9" rx="1.7" ry="0.7" transform="rotate(-119 159.0 1106.9)" opacity="0.91"/><ellipse cx="169.3" cy="1107.5" rx="2.2" ry="0.8" transform="rotate(-101 169.3 1107.5)" opacity="0.96"/><ellipse cx="176.1" cy="1107.6" rx="2.4" ry="0.6" transform="rotate(-91 176.1 1107.6)" opacity="0.73"/><ellipse cx="180.4" cy="1108.4" rx="2.7" ry="0.9" transform="rotate(-79 180.4 1108.4)" opacity="0.74"/><ellipse cx="191.3" cy="1109.6" rx="2.6" ry="0.7" transform="rotate(-61 191.3 1109.6)" opacity="0.75"/><ellipse cx="198.3" cy="1111.3" rx="2.1" ry="1.0" transform="rotate(-49 198.3 1111.3)" opacity="0.74"/><ellipse cx="205.4" cy="1113.1" rx="1.7" ry="0.8" transform="rotate(-37 205.4 1113.1)" opacity="0.91"/><ellipse cx="206.7" cy="1115.1" rx="2.6" ry="0.6" transform="rotate(-31 206.7 1115.1)" opacity="0.98"/><ellipse cx="211.9" cy="1118.7" rx="2.8" ry="1.0" transform="rotate(-23 211.9 1118.7)" opacity="0.80"/><ellipse cx="216.9" cy="1126.1" rx="1.6" ry="0.9" transform="rotate(-14 216.9 1126.1)" opacity="0.96"/><ellipse cx="219.1" cy="1133.5" rx="1.9" ry="0.7" transform="rotate(-4 219.1 1133.5)" opacity="0.90"/><ellipse cx="219.3" cy="1139.3" rx="2.7" ry="0.7" transform="rotate(6 219.3 1139.3)" opacity="0.90"/><ellipse cx="215.9" cy="1146.2" rx="1.9" ry="0.6" transform="rotate(17 215.9 1146.2)" opacity="0.74"/><ellipse cx="213.8" cy="1150.2" rx="2.1" ry="0.9" transform="rotate(21 213.8 1150.2)" opacity="0.90"/><ellipse cx="207.1" cy="1157.2" rx="2.3" ry="0.7" transform="rotate(34 207.1 1157.2)" opacity="0.86"/><ellipse cx="203.4" cy="1160.0" rx="1.9" ry="0.8" transform="rotate(41 203.4 1160.0)" opacity="0.84"/><ellipse cx="195.1" cy="1160.4" rx="2.8" ry="0.9" transform="rotate(51 195.1 1160.4)" opacity="0.83"/><ellipse cx="187.7" cy="1164.4" rx="2.7" ry="0.9" transform="rotate(65 187.7 1164.4)" opacity="0.84"/><ellipse cx="181.4" cy="1163.3" rx="2.1" ry="0.8" transform="rotate(81 181.4 1163.3)" opacity="0.78"/><ellipse cx="173.6" cy="1165.6" rx="2.6" ry="0.6" transform="rotate(91 173.6 1165.6)" opacity="0.91"/><ellipse cx="169.6" cy="1164.9" rx="2.8" ry="0.9" transform="rotate(102 169.6 1164.9)" opacity="0.80"/><ellipse cx="159.3" cy="1164.1" rx="2.1" ry="0.7" transform="rotate(118 159.3 1164.1)" opacity="0.77"/><ellipse cx="156.7" cy="1160.6" rx="1.9" ry="0.7" transform="rotate(127 156.7 1160.6)" opacity="0.75"/><ellipse cx="147.9" cy="1158.6" rx="2.7" ry="0.8" transform="rotate(141 147.9 1158.6)" opacity="0.71"/><ellipse cx="143.7" cy="1156.5" rx="2.7" ry="0.8" transform="rotate(147 143.7 1156.5)" opacity="0.77"/><ellipse cx="138.6" cy="1149.6" rx="2.7" ry="1.0" transform="rotate(159 138.6 1149.6)" opacity="0.87"/><ellipse cx="133.1" cy="1143.5" rx="1.6" ry="0.8" transform="rotate(167 133.1 1143.5)" opacity="0.91"/></g>
<g fill="#6f44a0" filter="url(#b05)"><ellipse cx="127.3" cy="1137.9" rx="2.6" ry="1.1" transform="rotate(270 127.3 1137.9)" opacity="0.62"/><ellipse cx="127.6" cy="1132.1" rx="2.4" ry="1.1" transform="rotate(-83 127.6 1132.1)" opacity="0.85"/><ellipse cx="131.2" cy="1118.0" rx="3.2" ry="1.5" transform="rotate(-71 131.2 1118.0)" opacity="0.86"/><ellipse cx="138.8" cy="1107.7" rx="2.4" ry="1.4" transform="rotate(-55 138.8 1107.7)" opacity="0.76"/><ellipse cx="142.7" cy="1105.4" rx="2.6" ry="1.5" transform="rotate(-47 142.7 1105.4)" opacity="0.91"/><ellipse cx="158.7" cy="1101.6" rx="3.1" ry="1.1" transform="rotate(-29 158.7 1101.6)" opacity="0.78"/><ellipse cx="165.2" cy="1100.1" rx="2.8" ry="1.3" transform="rotate(-20 165.2 1100.1)" opacity="0.83"/><ellipse cx="177.7" cy="1103.0" rx="3.3" ry="1.3" transform="rotate(5 177.7 1103.0)" opacity="0.94"/><ellipse cx="187.9" cy="1104.0" rx="2.1" ry="1.3" transform="rotate(24 187.9 1104.0)" opacity="0.73"/><ellipse cx="198.0" cy="1107.9" rx="2.1" ry="1.0" transform="rotate(40 198.0 1107.9)" opacity="0.60"/><ellipse cx="207.8" cy="1109.8" rx="3.3" ry="1.1" transform="rotate(48 207.8 1109.8)" opacity="0.84"/><ellipse cx="218.0" cy="1115.1" rx="3.4" ry="1.4" transform="rotate(65 218.0 1115.1)" opacity="0.84"/><ellipse cx="220.3" cy="1123.4" rx="2.7" ry="1.2" transform="rotate(74 220.3 1123.4)" opacity="0.92"/><ellipse cx="226.2" cy="1129.7" rx="2.7" ry="1.4" transform="rotate(86 226.2 1129.7)" opacity="0.60"/><ellipse cx="222.5" cy="1144.1" rx="2.9" ry="1.1" transform="rotate(99 222.5 1144.1)" opacity="0.93"/><ellipse cx="219.2" cy="1150.1" rx="2.1" ry="1.1" transform="rotate(108 219.2 1150.1)" opacity="0.87"/><ellipse cx="215.1" cy="1159.0" rx="2.6" ry="1.4" transform="rotate(119 215.1 1159.0)" opacity="0.89"/><ellipse cx="204.3" cy="1164.5" rx="3.2" ry="1.4" transform="rotate(132 204.3 1164.5)" opacity="0.85"/><ellipse cx="197.3" cy="1169.3" rx="3.1" ry="1.5" transform="rotate(149 197.3 1169.3)" opacity="0.62"/><ellipse cx="183.5" cy="1167.4" rx="2.4" ry="1.4" transform="rotate(167 183.5 1167.4)" opacity="0.79"/><ellipse cx="172.4" cy="1170.6" rx="3.2" ry="1.5" transform="rotate(183 172.4 1170.6)" opacity="0.79"/><ellipse cx="159.6" cy="1167.1" rx="2.8" ry="1.4" transform="rotate(202 159.6 1167.1)" opacity="0.64"/><ellipse cx="155.0" cy="1166.4" rx="2.2" ry="1.1" transform="rotate(213 155.0 1166.4)" opacity="0.75"/><ellipse cx="140.5" cy="1162.5" rx="2.1" ry="1.1" transform="rotate(232 140.5 1162.5)" opacity="0.83"/><ellipse cx="137.1" cy="1156.1" rx="2.3" ry="1.4" transform="rotate(239 137.1 1156.1)" opacity="0.66"/><ellipse cx="131.2" cy="1145.5" rx="3.2" ry="1.2" transform="rotate(256 131.2 1145.5)" opacity="0.87"/></g>
<g fill="#f8e2f0" filter="url(#b05)"><ellipse cx="296.2" cy="1167.7" rx="5.9" ry="0.9" transform="rotate(-51 296.2 1167.7)" opacity="0.53"/><ellipse cx="58.8" cy="1208.3" rx="3.1" ry="0.8" transform="rotate(-22 58.8 1208.3)" opacity="0.60"/><ellipse cx="296.6" cy="1200.4" rx="5.2" ry="1.3" transform="rotate(-55 296.6 1200.4)" opacity="0.49"/><ellipse cx="41.4" cy="1116.1" rx="7.4" ry="1.3" transform="rotate(-24 41.4 1116.1)" opacity="0.41"/><ellipse cx="64.5" cy="1063.4" rx="5.0" ry="1.3" transform="rotate(-29 64.5 1063.4)" opacity="0.68"/><ellipse cx="207.7" cy="1166.1" rx="7.5" ry="1.3" transform="rotate(-43 207.7 1166.1)" opacity="0.77"/><ellipse cx="262.4" cy="1071.5" rx="4.8" ry="1.2" transform="rotate(-42 262.4 1071.5)" opacity="0.49"/><ellipse cx="290.6" cy="1197.4" rx="5.4" ry="0.8" transform="rotate(-28 290.6 1197.4)" opacity="0.76"/><ellipse cx="63.6" cy="1131.0" rx="6.2" ry="0.9" transform="rotate(-19 63.6 1131.0)" opacity="0.80"/><ellipse cx="111.8" cy="1117.0" rx="6.5" ry="0.7" transform="rotate(-39 111.8 1117.0)" opacity="0.69"/><ellipse cx="166.3" cy="1187.0" rx="5.9" ry="1.4" transform="rotate(-33 166.3 1187.0)" opacity="0.43"/><ellipse cx="265.5" cy="1125.9" rx="4.4" ry="0.9" transform="rotate(-27 265.5 1125.9)" opacity="0.78"/><ellipse cx="73.3" cy="1216.7" rx="4.4" ry="1.2" transform="rotate(-34 73.3 1216.7)" opacity="0.66"/><ellipse cx="295.6" cy="1066.3" rx="3.1" ry="0.8" transform="rotate(-3 295.6 1066.3)" opacity="0.59"/><ellipse cx="109.4" cy="1091.8" rx="6.7" ry="1.0" transform="rotate(-31 109.4 1091.8)" opacity="0.63"/><ellipse cx="262.2" cy="1081.4" rx="3.1" ry="1.0" transform="rotate(15 262.2 1081.4)" opacity="0.77"/><ellipse cx="84.0" cy="1100.6" rx="7.9" ry="1.3" transform="rotate(-55 84.0 1100.6)" opacity="0.44"/><ellipse cx="182.9" cy="1067.8" rx="4.1" ry="1.2" transform="rotate(-54 182.9 1067.8)" opacity="0.64"/><ellipse cx="101.0" cy="1146.4" rx="4.7" ry="0.8" transform="rotate(-60 101.0 1146.4)" opacity="0.77"/><ellipse cx="132.1" cy="1171.3" rx="5.1" ry="1.1" transform="rotate(-35 132.1 1171.3)" opacity="0.52"/><ellipse cx="185.7" cy="1181.8" rx="4.0" ry="0.7" transform="rotate(-51 185.7 1181.8)" opacity="0.62"/><ellipse cx="43.2" cy="1135.5" rx="5.6" ry="0.9" transform="rotate(-55 43.2 1135.5)" opacity="0.74"/><ellipse cx="158.3" cy="1203.3" rx="4.7" ry="1.4" transform="rotate(-3 158.3 1203.3)" opacity="0.83"/><ellipse cx="58.6" cy="1178.0" rx="6.1" ry="1.2" transform="rotate(-24 58.6 1178.0)" opacity="0.53"/><ellipse cx="279.3" cy="1172.5" rx="7.8" ry="1.2" transform="rotate(-59 279.3 1172.5)" opacity="0.43"/><ellipse cx="17.8" cy="1070.9" rx="6.6" ry="1.4" transform="rotate(-25 17.8 1070.9)" opacity="0.80"/><ellipse cx="73.9" cy="1075.5" rx="5.0" ry="1.0" transform="rotate(-60 73.9 1075.5)" opacity="0.57"/><ellipse cx="274.9" cy="1152.5" rx="7.3" ry="1.2" transform="rotate(-22 274.9 1152.5)" opacity="0.63"/><ellipse cx="285.1" cy="1164.1" rx="5.8" ry="1.0" transform="rotate(-55 285.1 1164.1)" opacity="0.46"/><ellipse cx="41.7" cy="1122.7" rx="6.5" ry="0.7" transform="rotate(-9 41.7 1122.7)" opacity="0.81"/><ellipse cx="243.6" cy="1150.7" rx="4.6" ry="0.9" transform="rotate(-70 243.6 1150.7)" opacity="0.62"/><ellipse cx="47.3" cy="1155.5" rx="6.2" ry="1.0" transform="rotate(-28 47.3 1155.5)" opacity="0.65"/><ellipse cx="44.2" cy="1191.8" rx="7.3" ry="1.2" transform="rotate(-13 44.2 1191.8)" opacity="0.51"/><ellipse cx="103.1" cy="1049.2" rx="7.3" ry="1.4" transform="rotate(-18 103.1 1049.2)" opacity="0.67"/><ellipse cx="267.8" cy="1195.2" rx="3.3" ry="1.3" transform="rotate(-63 267.8 1195.2)" opacity="0.84"/><ellipse cx="240.8" cy="1153.7" rx="7.3" ry="0.9" transform="rotate(-46 240.8 1153.7)" opacity="0.42"/><ellipse cx="269.3" cy="1051.0" rx="6.3" ry="0.8" transform="rotate(-2 269.3 1051.0)" opacity="0.60"/><ellipse cx="96.1" cy="1188.2" rx="4.6" ry="0.8" transform="rotate(-18 96.1 1188.2)" opacity="0.55"/><ellipse cx="316.3" cy="1098.8" rx="6.1" ry="1.0" transform="rotate(-36 316.3 1098.8)" opacity="0.73"/><ellipse cx="273.3" cy="1075.8" rx="3.9" ry="1.0" transform="rotate(2 273.3 1075.8)" opacity="0.65"/><ellipse cx="184.5" cy="1060.4" rx="4.4" ry="0.9" transform="rotate(-27 184.5 1060.4)" opacity="0.59"/><ellipse cx="142.1" cy="1077.8" rx="7.7" ry="1.4" transform="rotate(-14 142.1 1077.8)" opacity="0.48"/><ellipse cx="82.9" cy="1114.6" rx="6.5" ry="1.1" transform="rotate(-29 82.9 1114.6)" opacity="0.62"/><ellipse cx="269.3" cy="1086.1" rx="3.2" ry="1.4" transform="rotate(1 269.3 1086.1)" opacity="0.72"/><ellipse cx="308.9" cy="1117.7" rx="4.3" ry="1.3" transform="rotate(-2 308.9 1117.7)" opacity="0.48"/><ellipse cx="10.2" cy="1091.3" rx="5.7" ry="1.3" transform="rotate(-25 10.2 1091.3)" opacity="0.71"/><ellipse cx="28.9" cy="1059.3" rx="3.7" ry="1.1" transform="rotate(-48 28.9 1059.3)" opacity="0.72"/><ellipse cx="66.5" cy="1131.0" rx="3.1" ry="0.9" transform="rotate(-50 66.5 1131.0)" opacity="0.52"/><ellipse cx="231.5" cy="1217.9" rx="5.5" ry="1.0" transform="rotate(-66 231.5 1217.9)" opacity="0.68"/><ellipse cx="55.7" cy="1215.6" rx="5.9" ry="1.0" transform="rotate(-48 55.7 1215.6)" opacity="0.65"/><ellipse cx="294.3" cy="1153.3" rx="7.8" ry="0.8" transform="rotate(-50 294.3 1153.3)" opacity="0.83"/><ellipse cx="226.9" cy="1084.8" rx="7.3" ry="1.1" transform="rotate(4 226.9 1084.8)" opacity="0.76"/><ellipse cx="37.9" cy="1090.3" rx="7.7" ry="1.0" transform="rotate(-36 37.9 1090.3)" opacity="0.85"/><ellipse cx="196.3" cy="1171.8" rx="3.7" ry="1.3" transform="rotate(-8 196.3 1171.8)" opacity="0.67"/><ellipse cx="47.1" cy="1067.6" rx="5.8" ry="1.3" transform="rotate(-17 47.1 1067.6)" opacity="0.79"/><ellipse cx="107.3" cy="1135.3" rx="3.2" ry="0.7" transform="rotate(-58 107.3 1135.3)" opacity="0.57"/><ellipse cx="208.6" cy="1198.5" rx="7.8" ry="0.9" transform="rotate(-10 208.6 1198.5)" opacity="0.78"/><ellipse cx="111.9" cy="1108.7" rx="8.0" ry="1.0" transform="rotate(-32 111.9 1108.7)" opacity="0.43"/><ellipse cx="230.0" cy="1068.0" rx="3.8" ry="1.1" transform="rotate(-28 230.0 1068.0)" opacity="0.58"/><ellipse cx="111.3" cy="1133.2" rx="6.1" ry="1.2" transform="rotate(-20 111.3 1133.2)" opacity="0.58"/><ellipse cx="309.2" cy="1061.3" rx="3.5" ry="1.0" transform="rotate(-41 309.2 1061.3)" opacity="0.55"/><ellipse cx="72.1" cy="1041.2" rx="3.3" ry="1.1" transform="rotate(-18 72.1 1041.2)" opacity="0.83"/><ellipse cx="89.5" cy="1148.1" rx="5.2" ry="1.3" transform="rotate(-12 89.5 1148.1)" opacity="0.42"/><ellipse cx="193.9" cy="1182.8" rx="7.1" ry="1.4" transform="rotate(-25 193.9 1182.8)" opacity="0.78"/><ellipse cx="291.3" cy="1154.3" rx="4.0" ry="1.1" transform="rotate(-67 291.3 1154.3)" opacity="0.45"/><ellipse cx="59.1" cy="1218.4" rx="7.9" ry="1.3" transform="rotate(-35 59.1 1218.4)" opacity="0.75"/><ellipse cx="144.1" cy="1082.8" rx="4.1" ry="1.0" transform="rotate(-51 144.1 1082.8)" opacity="0.67"/><ellipse cx="56.2" cy="1123.7" rx="7.4" ry="0.9" transform="rotate(-43 56.2 1123.7)" opacity="0.78"/><ellipse cx="217.3" cy="1211.8" rx="4.4" ry="1.0" transform="rotate(-38 217.3 1211.8)" opacity="0.52"/><ellipse cx="203.6" cy="1214.9" rx="4.0" ry="0.7" transform="rotate(-23 203.6 1214.9)" opacity="0.68"/><ellipse cx="152.9" cy="1041.5" rx="7.0" ry="1.1" transform="rotate(-33 152.9 1041.5)" opacity="0.55"/><ellipse cx="16.1" cy="1081.6" rx="4.7" ry="0.8" transform="rotate(-28 16.1 1081.6)" opacity="0.76"/><ellipse cx="301.7" cy="1130.3" rx="5.9" ry="1.1" transform="rotate(-12 301.7 1130.3)" opacity="0.63"/><ellipse cx="266.0" cy="1194.5" rx="3.8" ry="0.8" transform="rotate(-31 266.0 1194.5)" opacity="0.56"/><ellipse cx="22.1" cy="1104.7" rx="3.6" ry="0.8" transform="rotate(-43 22.1 1104.7)" opacity="0.69"/><ellipse cx="297.7" cy="1080.2" rx="5.1" ry="0.7" transform="rotate(-2 297.7 1080.2)" opacity="0.82"/><ellipse cx="43.4" cy="1128.3" rx="4.4" ry="0.9" transform="rotate(-64 43.4 1128.3)" opacity="0.57"/><ellipse cx="177.2" cy="1217.6" rx="5.3" ry="1.3" transform="rotate(-18 177.2 1217.6)" opacity="0.60"/><ellipse cx="235.3" cy="1121.8" rx="3.5" ry="0.8" transform="rotate(-0 235.3 1121.8)" opacity="0.71"/><ellipse cx="248.7" cy="1106.1" rx="6.1" ry="0.8" transform="rotate(-43 248.7 1106.1)" opacity="0.57"/></g>
<g fill="#6f44a0" filter="url(#b05)"><ellipse cx="270.7" cy="1187.0" rx="2.2" ry="1.4" transform="rotate(-21 270.7 1187.0)" opacity="0.56"/><ellipse cx="327.8" cy="1176.4" rx="3.5" ry="1.5" transform="rotate(-24 327.8 1176.4)" opacity="0.85"/><ellipse cx="310.8" cy="1051.8" rx="3.3" ry="1.0" transform="rotate(-40 310.8 1051.8)" opacity="0.87"/><ellipse cx="142.7" cy="1178.3" rx="3.0" ry="1.4" transform="rotate(-49 142.7 1178.3)" opacity="0.85"/><ellipse cx="66.2" cy="1084.1" rx="3.4" ry="1.3" transform="rotate(-14 66.2 1084.1)" opacity="0.56"/><ellipse cx="241.5" cy="1178.6" rx="3.8" ry="1.3" transform="rotate(-31 241.5 1178.6)" opacity="0.88"/><ellipse cx="88.0" cy="1092.8" rx="3.8" ry="1.0" transform="rotate(-6 88.0 1092.8)" opacity="0.80"/><ellipse cx="230.9" cy="1151.9" rx="2.6" ry="1.5" transform="rotate(-47 230.9 1151.9)" opacity="0.61"/><ellipse cx="36.5" cy="1177.2" rx="2.7" ry="1.3" transform="rotate(-64 36.5 1177.2)" opacity="0.82"/><ellipse cx="91.1" cy="1156.8" rx="3.5" ry="1.2" transform="rotate(-26 91.1 1156.8)" opacity="0.92"/><ellipse cx="154.3" cy="1208.2" rx="3.3" ry="1.1" transform="rotate(-31 154.3 1208.2)" opacity="0.80"/><ellipse cx="251.9" cy="1051.1" rx="2.2" ry="1.5" transform="rotate(1 251.9 1051.1)" opacity="0.61"/><ellipse cx="85.5" cy="1097.7" rx="3.1" ry="1.1" transform="rotate(-49 85.5 1097.7)" opacity="0.88"/><ellipse cx="131.2" cy="1182.8" rx="3.0" ry="1.3" transform="rotate(-36 131.2 1182.8)" opacity="0.69"/><ellipse cx="263.6" cy="1154.9" rx="3.2" ry="1.1" transform="rotate(-37 263.6 1154.9)" opacity="0.68"/><ellipse cx="292.7" cy="1167.2" rx="3.8" ry="1.6" transform="rotate(-42 292.7 1167.2)" opacity="0.83"/><ellipse cx="46.5" cy="1111.6" rx="3.0" ry="1.1" transform="rotate(-41 46.5 1111.6)" opacity="0.74"/><ellipse cx="296.1" cy="1060.2" rx="3.0" ry="0.9" transform="rotate(-40 296.1 1060.2)" opacity="0.70"/><ellipse cx="88.4" cy="1181.5" rx="2.9" ry="1.5" transform="rotate(-54 88.4 1181.5)" opacity="0.82"/><ellipse cx="135.0" cy="1074.5" rx="3.4" ry="1.4" transform="rotate(2 135.0 1074.5)" opacity="0.65"/><ellipse cx="85.7" cy="1200.1" rx="3.5" ry="1.1" transform="rotate(-15 85.7 1200.1)" opacity="0.84"/><ellipse cx="239.8" cy="1051.8" rx="2.5" ry="1.5" transform="rotate(-42 239.8 1051.8)" opacity="0.68"/><ellipse cx="23.5" cy="1125.8" rx="2.7" ry="1.4" transform="rotate(-55 23.5 1125.8)" opacity="0.75"/><ellipse cx="173.8" cy="1061.6" rx="2.3" ry="0.9" transform="rotate(-13 173.8 1061.6)" opacity="0.59"/><ellipse cx="150.6" cy="1197.3" rx="3.4" ry="1.3" transform="rotate(-25 150.6 1197.3)" opacity="0.84"/><ellipse cx="176.6" cy="1174.3" rx="2.5" ry="1.5" transform="rotate(-34 176.6 1174.3)" opacity="0.86"/><ellipse cx="265.3" cy="1163.9" rx="3.0" ry="1.4" transform="rotate(-22 265.3 1163.9)" opacity="0.83"/><ellipse cx="137.9" cy="1046.8" rx="3.6" ry="1.1" transform="rotate(-3 137.9 1046.8)" opacity="0.72"/><ellipse cx="43.8" cy="1211.4" rx="2.8" ry="0.9" transform="rotate(-60 43.8 1211.4)" opacity="0.89"/><ellipse cx="234.6" cy="1181.4" rx="3.2" ry="1.5" transform="rotate(-35 234.6 1181.4)" opacity="0.59"/><ellipse cx="95.3" cy="1060.8" rx="2.1" ry="1.3" transform="rotate(-37 95.3 1060.8)" opacity="0.79"/><ellipse cx="241.9" cy="1191.9" rx="2.1" ry="1.2" transform="rotate(-66 241.9 1191.9)" opacity="0.76"/><ellipse cx="239.3" cy="1101.5" rx="3.0" ry="1.2" transform="rotate(11 239.3 1101.5)" opacity="0.82"/><ellipse cx="304.3" cy="1175.6" rx="2.3" ry="1.0" transform="rotate(-17 304.3 1175.6)" opacity="0.56"/><ellipse cx="202.9" cy="1173.4" rx="3.1" ry="1.0" transform="rotate(-43 202.9 1173.4)" opacity="0.79"/><ellipse cx="327.2" cy="1200.4" rx="2.1" ry="1.1" transform="rotate(-53 327.2 1200.4)" opacity="0.76"/><ellipse cx="118.1" cy="1121.8" rx="3.6" ry="1.1" transform="rotate(-34 118.1 1121.8)" opacity="0.71"/><ellipse cx="112.1" cy="1141.5" rx="2.9" ry="1.3" transform="rotate(-55 112.1 1141.5)" opacity="0.87"/><ellipse cx="186.3" cy="1209.0" rx="2.9" ry="1.1" transform="rotate(-35 186.3 1209.0)" opacity="0.55"/><ellipse cx="243.2" cy="1168.4" rx="2.1" ry="1.5" transform="rotate(-12 243.2 1168.4)" opacity="0.86"/><ellipse cx="300.0" cy="1066.3" rx="3.3" ry="1.4" transform="rotate(-29 300.0 1066.3)" opacity="0.59"/><ellipse cx="19.5" cy="1217.6" rx="2.7" ry="1.2" transform="rotate(-22 19.5 1217.6)" opacity="0.62"/><ellipse cx="101.7" cy="1216.4" rx="3.7" ry="1.4" transform="rotate(-59 101.7 1216.4)" opacity="0.70"/><ellipse cx="254.7" cy="1140.3" rx="3.0" ry="1.2" transform="rotate(-32 254.7 1140.3)" opacity="0.93"/><ellipse cx="256.6" cy="1113.8" rx="2.5" ry="1.0" transform="rotate(-13 256.6 1113.8)" opacity="0.66"/><ellipse cx="285.9" cy="1081.7" rx="2.1" ry="1.6" transform="rotate(-29 285.9 1081.7)" opacity="0.65"/><ellipse cx="69.1" cy="1170.9" rx="3.4" ry="1.4" transform="rotate(-59 69.1 1170.9)" opacity="0.57"/><ellipse cx="264.4" cy="1079.4" rx="3.4" ry="1.6" transform="rotate(-39 264.4 1079.4)" opacity="0.69"/><ellipse cx="101.7" cy="1132.1" rx="3.8" ry="1.4" transform="rotate(-18 101.7 1132.1)" opacity="0.70"/><ellipse cx="159.7" cy="1199.3" rx="2.7" ry="1.0" transform="rotate(-39 159.7 1199.3)" opacity="0.94"/><ellipse cx="264.4" cy="1083.6" rx="3.7" ry="1.1" transform="rotate(2 264.4 1083.6)" opacity="0.68"/><ellipse cx="99.0" cy="1196.3" rx="3.5" ry="1.2" transform="rotate(-38 99.0 1196.3)" opacity="0.85"/><ellipse cx="318.4" cy="1129.0" rx="3.6" ry="1.6" transform="rotate(-34 318.4 1129.0)" opacity="0.71"/><ellipse cx="155.6" cy="1099.7" rx="2.5" ry="1.1" transform="rotate(-41 155.6 1099.7)" opacity="0.61"/><ellipse cx="7.7" cy="1098.0" rx="3.4" ry="1.2" transform="rotate(-58 7.7 1098.0)" opacity="0.94"/><ellipse cx="230.4" cy="1084.8" rx="3.1" ry="1.6" transform="rotate(-4 230.4 1084.8)" opacity="0.83"/><ellipse cx="96.0" cy="1072.2" rx="2.6" ry="1.1" transform="rotate(-40 96.0 1072.2)" opacity="0.87"/><ellipse cx="105.8" cy="1135.0" rx="3.1" ry="1.0" transform="rotate(-43 105.8 1135.0)" opacity="0.69"/><ellipse cx="97.1" cy="1146.6" rx="3.6" ry="1.4" transform="rotate(-31 97.1 1146.6)" opacity="0.55"/><ellipse cx="252.0" cy="1195.2" rx="2.4" ry="1.3" transform="rotate(-14 252.0 1195.2)" opacity="0.62"/><ellipse cx="210.9" cy="1173.8" rx="2.9" ry="1.3" transform="rotate(-3 210.9 1173.8)" opacity="0.67"/><ellipse cx="38.5" cy="1117.7" rx="3.2" ry="1.1" transform="rotate(-54 38.5 1117.7)" opacity="0.70"/><ellipse cx="11.4" cy="1096.5" rx="2.2" ry="1.3" transform="rotate(-14 11.4 1096.5)" opacity="0.85"/><ellipse cx="314.7" cy="1158.2" rx="3.4" ry="1.5" transform="rotate(-67 314.7 1158.2)" opacity="0.89"/><ellipse cx="264.6" cy="1171.6" rx="2.8" ry="0.9" transform="rotate(-25 264.6 1171.6)" opacity="0.64"/><ellipse cx="331.6" cy="1107.0" rx="3.4" ry="1.1" transform="rotate(-19 331.6 1107.0)" opacity="0.70"/><ellipse cx="64.7" cy="1129.4" rx="3.1" ry="1.2" transform="rotate(-56 64.7 1129.4)" opacity="0.63"/><ellipse cx="93.1" cy="1148.2" rx="3.8" ry="1.6" transform="rotate(-46 93.1 1148.2)" opacity="0.71"/><ellipse cx="232.8" cy="1085.5" rx="3.4" ry="1.6" transform="rotate(-35 232.8 1085.5)" opacity="0.65"/><ellipse cx="106.9" cy="1155.2" rx="2.4" ry="1.2" transform="rotate(-56 106.9 1155.2)" opacity="0.72"/><ellipse cx="95.8" cy="1130.3" rx="2.7" ry="1.4" transform="rotate(-48 95.8 1130.3)" opacity="0.79"/><ellipse cx="292.9" cy="1178.4" rx="2.9" ry="1.0" transform="rotate(-44 292.9 1178.4)" opacity="0.93"/><ellipse cx="64.6" cy="1053.2" rx="2.2" ry="1.4" transform="rotate(-28 64.6 1053.2)" opacity="0.67"/><ellipse cx="248.1" cy="1140.7" rx="2.9" ry="1.4" transform="rotate(-62 248.1 1140.7)" opacity="0.55"/><ellipse cx="50.5" cy="1108.4" rx="2.7" ry="1.2" transform="rotate(-30 50.5 1108.4)" opacity="0.82"/><ellipse cx="86.1" cy="1094.4" rx="3.7" ry="1.2" transform="rotate(-37 86.1 1094.4)" opacity="0.58"/><ellipse cx="82.3" cy="1135.6" rx="3.2" ry="1.3" transform="rotate(-6 82.3 1135.6)" opacity="0.64"/><ellipse cx="116.6" cy="1200.7" rx="2.7" ry="1.4" transform="rotate(-6 116.6 1200.7)" opacity="0.83"/><ellipse cx="244.2" cy="1092.0" rx="2.7" ry="1.2" transform="rotate(-31 244.2 1092.0)" opacity="0.64"/><ellipse cx="18.7" cy="1208.7" rx="2.9" ry="1.1" transform="rotate(-44 18.7 1208.7)" opacity="0.93"/><ellipse cx="220.9" cy="1197.9" rx="3.4" ry="1.2" transform="rotate(-41 220.9 1197.9)" opacity="0.65"/><ellipse cx="217.5" cy="1058.6" rx="2.3" ry="1.5" transform="rotate(2 217.5 1058.6)" opacity="0.73"/><ellipse cx="53.6" cy="1182.1" rx="3.5" ry="1.1" transform="rotate(-60 53.6 1182.1)" opacity="0.66"/><ellipse cx="18.2" cy="1054.3" rx="3.4" ry="1.2" transform="rotate(-13 18.2 1054.3)" opacity="0.88"/><ellipse cx="98.6" cy="1118.4" rx="2.6" ry="1.3" transform="rotate(-41 98.6 1118.4)" opacity="0.74"/><ellipse cx="241.6" cy="1180.1" rx="2.8" ry="1.3" transform="rotate(-47 241.6 1180.1)" opacity="0.61"/><ellipse cx="30.0" cy="1047.5" rx="2.3" ry="1.0" transform="rotate(-19 30.0 1047.5)" opacity="0.85"/><ellipse cx="226.2" cy="1120.9" rx="3.6" ry="1.1" transform="rotate(-47 226.2 1120.9)" opacity="0.60"/><ellipse cx="247.7" cy="1082.2" rx="3.6" ry="1.2" transform="rotate(13 247.7 1082.2)" opacity="0.86"/><ellipse cx="58.2" cy="1163.9" rx="2.3" ry="1.4" transform="rotate(-46 58.2 1163.9)" opacity="0.93"/><ellipse cx="185.1" cy="1184.1" rx="2.6" ry="1.4" transform="rotate(-32 185.1 1184.1)" opacity="0.82"/><ellipse cx="11.0" cy="1078.6" rx="2.9" ry="1.0" transform="rotate(-24 11.0 1078.6)" opacity="0.69"/><ellipse cx="309.4" cy="1062.6" rx="2.1" ry="1.3" transform="rotate(-45 309.4 1062.6)" opacity="0.93"/><ellipse cx="321.1" cy="1143.3" rx="2.2" ry="1.5" transform="rotate(-61 321.1 1143.3)" opacity="0.86"/><ellipse cx="211.1" cy="1214.9" rx="3.3" ry="1.2" transform="rotate(-22 211.1 1214.9)" opacity="0.55"/><ellipse cx="301.6" cy="1124.6" rx="3.5" ry="1.0" transform="rotate(-42 301.6 1124.6)" opacity="0.66"/><ellipse cx="275.8" cy="1165.6" rx="3.6" ry="1.1" transform="rotate(-14 275.8 1165.6)" opacity="0.70"/><ellipse cx="58.9" cy="1186.7" rx="2.8" ry="1.5" transform="rotate(-14 58.9 1186.7)" opacity="0.95"/><ellipse cx="227.2" cy="1140.2" rx="2.9" ry="1.5" transform="rotate(-33 227.2 1140.2)" opacity="0.66"/><ellipse cx="36.1" cy="1216.0" rx="2.3" ry="1.1" transform="rotate(-55 36.1 1216.0)" opacity="0.94"/><ellipse cx="188.0" cy="1191.6" rx="3.5" ry="0.9" transform="rotate(-12 188.0 1191.6)" opacity="0.59"/><ellipse cx="217.0" cy="1181.0" rx="2.7" ry="1.2" transform="rotate(-8 217.0 1181.0)" opacity="0.91"/><ellipse cx="262.0" cy="1102.4" rx="2.1" ry="1.4" transform="rotate(-2 262.0 1102.4)" opacity="0.66"/><ellipse cx="53.4" cy="1149.6" rx="3.1" ry="1.1" transform="rotate(-33 53.4 1149.6)" opacity="0.89"/><ellipse cx="220.5" cy="1044.4" rx="2.4" ry="1.0" transform="rotate(4 220.5 1044.4)" opacity="0.82"/><ellipse cx="196.8" cy="1061.9" rx="2.7" ry="1.5" transform="rotate(-42 196.8 1061.9)" opacity="0.62"/><ellipse cx="75.6" cy="1043.3" rx="2.1" ry="1.2" transform="rotate(-44 75.6 1043.3)" opacity="0.73"/><ellipse cx="78.6" cy="1106.6" rx="3.3" ry="1.5" transform="rotate(-32 78.6 1106.6)" opacity="0.60"/><ellipse cx="298.2" cy="1118.1" rx="2.6" ry="1.1" transform="rotate(-36 298.2 1118.1)" opacity="0.89"/><ellipse cx="10.7" cy="1078.9" rx="2.4" ry="1.5" transform="rotate(-33 10.7 1078.9)" opacity="0.59"/><ellipse cx="308.2" cy="1162.1" rx="2.9" ry="0.9" transform="rotate(-18 308.2 1162.1)" opacity="0.88"/><ellipse cx="251.3" cy="1063.9" rx="2.6" ry="1.0" transform="rotate(-31 251.3 1063.9)" opacity="0.90"/><ellipse cx="219.2" cy="1099.8" rx="3.4" ry="1.1" transform="rotate(-10 219.2 1099.8)" opacity="0.85"/><ellipse cx="249.9" cy="1184.4" rx="2.0" ry="1.2" transform="rotate(-21 249.9 1184.4)" opacity="0.72"/><ellipse cx="149.2" cy="1219.4" rx="3.6" ry="1.2" transform="rotate(-19 149.2 1219.4)" opacity="0.72"/><ellipse cx="99.9" cy="1158.0" rx="3.3" ry="0.9" transform="rotate(-16 99.9 1158.0)" opacity="0.68"/><ellipse cx="9.6" cy="1092.2" rx="2.4" ry="1.0" transform="rotate(-53 9.6 1092.2)" opacity="0.63"/><ellipse cx="314.5" cy="1049.5" rx="3.5" ry="1.5" transform="rotate(2 314.5 1049.5)" opacity="0.61"/><ellipse cx="109.1" cy="1185.4" rx="2.0" ry="1.3" transform="rotate(-39 109.1 1185.4)" opacity="0.60"/><ellipse cx="294.0" cy="1173.2" rx="3.5" ry="1.5" transform="rotate(-39 294.0 1173.2)" opacity="0.66"/><ellipse cx="195.3" cy="1182.0" rx="2.4" ry="1.6" transform="rotate(-52 195.3 1182.0)" opacity="0.73"/><ellipse cx="309.3" cy="1134.5" rx="3.6" ry="1.4" transform="rotate(-16 309.3 1134.5)" opacity="0.88"/><ellipse cx="289.8" cy="1140.6" rx="3.4" ry="1.5" transform="rotate(-51 289.8 1140.6)" opacity="0.89"/><ellipse cx="204.1" cy="1096.1" rx="2.2" ry="1.0" transform="rotate(-11 204.1 1096.1)" opacity="0.84"/><ellipse cx="94.3" cy="1182.1" rx="2.5" ry="1.6" transform="rotate(-21 94.3 1182.1)" opacity="0.64"/><ellipse cx="150.1" cy="1168.6" rx="2.8" ry="1.3" transform="rotate(-52 150.1 1168.6)" opacity="0.91"/><ellipse cx="305.0" cy="1074.8" rx="2.6" ry="1.1" transform="rotate(-30 305.0 1074.8)" opacity="0.57"/><ellipse cx="205.8" cy="1169.3" rx="3.6" ry="1.3" transform="rotate(-53 205.8 1169.3)" opacity="0.83"/><ellipse cx="137.7" cy="1198.5" rx="2.7" ry="1.3" transform="rotate(-7 137.7 1198.5)" opacity="0.91"/><ellipse cx="205.9" cy="1051.6" rx="3.5" ry="1.4" transform="rotate(-53 205.9 1051.6)" opacity="0.74"/><ellipse cx="27.1" cy="1164.1" rx="2.4" ry="1.2" transform="rotate(-62 27.1 1164.1)" opacity="0.71"/><ellipse cx="214.3" cy="1188.8" rx="2.9" ry="1.3" transform="rotate(-28 214.3 1188.8)" opacity="0.82"/><ellipse cx="81.6" cy="1102.1" rx="2.6" ry="1.3" transform="rotate(-14 81.6 1102.1)" opacity="0.89"/><ellipse cx="195.3" cy="1207.9" rx="2.6" ry="1.2" transform="rotate(-26 195.3 1207.9)" opacity="0.72"/><ellipse cx="200.6" cy="1209.6" rx="2.8" ry="1.1" transform="rotate(-4 200.6 1209.6)" opacity="0.58"/><ellipse cx="32.3" cy="1190.1" rx="3.2" ry="1.6" transform="rotate(-36 32.3 1190.1)" opacity="0.78"/><ellipse cx="286.6" cy="1123.1" rx="3.3" ry="1.2" transform="rotate(-33 286.6 1123.1)" opacity="0.62"/><ellipse cx="82.4" cy="1169.0" rx="2.7" ry="1.2" transform="rotate(-22 82.4 1169.0)" opacity="0.91"/><ellipse cx="23.6" cy="1089.6" rx="2.4" ry="1.5" transform="rotate(-33 23.6 1089.6)" opacity="0.94"/><ellipse cx="323.6" cy="1156.8" rx="2.8" ry="1.3" transform="rotate(-32 323.6 1156.8)" opacity="0.72"/><ellipse cx="255.4" cy="1060.6" rx="3.1" ry="1.6" transform="rotate(9 255.4 1060.6)" opacity="0.75"/><ellipse cx="257.6" cy="1111.4" rx="2.3" ry="1.1" transform="rotate(13 257.6 1111.4)" opacity="0.93"/><ellipse cx="55.3" cy="1066.4" rx="3.5" ry="1.4" transform="rotate(-17 55.3 1066.4)" opacity="0.65"/><ellipse cx="85.8" cy="1166.8" rx="2.2" ry="1.2" transform="rotate(-10 85.8 1166.8)" opacity="0.56"/><ellipse cx="323.2" cy="1053.4" rx="3.2" ry="1.0" transform="rotate(5 323.2 1053.4)" opacity="0.73"/><ellipse cx="262.0" cy="1119.9" rx="3.4" ry="1.2" transform="rotate(-43 262.0 1119.9)" opacity="0.58"/><ellipse cx="11.8" cy="1138.9" rx="2.5" ry="1.5" transform="rotate(-29 11.8 1138.9)" opacity="0.81"/><ellipse cx="209.3" cy="1101.7" rx="3.6" ry="1.3" transform="rotate(2 209.3 1101.7)" opacity="0.66"/><ellipse cx="259.5" cy="1167.2" rx="3.4" ry="1.0" transform="rotate(-59 259.5 1167.2)" opacity="0.79"/><ellipse cx="139.1" cy="1201.5" rx="3.5" ry="1.5" transform="rotate(-14 139.1 1201.5)" opacity="0.71"/><ellipse cx="196.9" cy="1071.7" rx="2.4" ry="1.4" transform="rotate(-23 196.9 1071.7)" opacity="0.60"/><ellipse cx="36.8" cy="1197.0" rx="2.2" ry="1.0" transform="rotate(-48 36.8 1197.0)" opacity="0.84"/><ellipse cx="313.1" cy="1110.5" rx="3.6" ry="1.0" transform="rotate(-3 313.1 1110.5)" opacity="0.78"/><ellipse cx="296.5" cy="1191.7" rx="2.7" ry="1.1" transform="rotate(-56 296.5 1191.7)" opacity="0.79"/><ellipse cx="106.2" cy="1210.2" rx="2.0" ry="1.3" transform="rotate(-21 106.2 1210.2)" opacity="0.80"/><ellipse cx="236.6" cy="1122.4" rx="2.8" ry="1.2" transform="rotate(7 236.6 1122.4)" opacity="0.56"/><ellipse cx="10.9" cy="1132.9" rx="3.0" ry="1.5" transform="rotate(-29 10.9 1132.9)" opacity="0.59"/><ellipse cx="132.1" cy="1109.2" rx="3.0" ry="1.0" transform="rotate(-2 132.1 1109.2)" opacity="0.82"/><ellipse cx="80.4" cy="1060.8" rx="2.4" ry="1.0" transform="rotate(-6 80.4 1060.8)" opacity="0.89"/><ellipse cx="121.9" cy="1127.9" rx="3.3" ry="1.6" transform="rotate(-8 121.9 1127.9)" opacity="0.92"/></g>
<rect x="252" y="1205.6" width="75.6" height="4.4" fill="#000"/>
</g>
<clipPath id="cpF"><rect x="346.5" y="1038.8" width="327.7" height="185.8"/></clipPath>
<g clip-path="url(#cpF)">
<rect x="346.5" y="1038.8" width="327.7" height="185.8" fill="#e3bee2"/>
<g transform="rotate(-12 510.4 1131.7)">
<rect x="318.0" y="939.3" width="384.7" height="384.7" filter="url(#txFd)"/>
<rect x="318.0" y="939.3" width="384.7" height="384.7" filter="url(#txF)"/>
</g>
<g fill="#f7ebf6" filter="url(#pale)">
<path d="M458.0 1158.0C460.3 1155.3 466.7 1153.7 472.0 1153.0C477.3 1152.3 483.3 1153.5 490.0 1154.0C496.7 1154.5 505.3 1155.0 512.0 1156.0C518.7 1157.0 526.0 1157.7 530.0 1160.0C534.0 1162.3 536.3 1166.8 536.0 1170.0C535.7 1173.2 532.0 1177.0 528.0 1179.0C524.0 1181.0 518.3 1181.7 512.0 1182.0C505.7 1182.3 497.0 1181.8 490.0 1181.0C483.0 1180.2 475.3 1179.0 470.0 1177.0C464.7 1175.0 460.0 1172.2 458.0 1169.0C456.0 1165.8 455.7 1160.7 458.0 1158.0Z"/>
<path d="M503.0 1096.0C504.8 1093.5 510.0 1089.8 514.0 1089.0C518.0 1088.2 523.2 1089.2 527.0 1091.0C530.8 1092.8 534.7 1096.7 537.0 1100.0C539.3 1103.3 541.5 1108.5 541.0 1111.0C540.5 1113.5 537.0 1115.3 534.0 1115.0C531.0 1114.7 526.8 1110.5 523.0 1109.0C519.2 1107.5 514.3 1106.8 511.0 1106.0C507.7 1105.2 504.3 1105.7 503.0 1104.0C501.7 1102.3 501.2 1098.5 503.0 1096.0Z"/>
<path d="M346.0 1118.0C348.7 1115.3 356.3 1114.0 362.0 1112.0C367.7 1110.0 375.0 1106.7 380.0 1106.0C385.0 1105.3 392.0 1106.3 392.0 1108.0C392.0 1109.7 385.0 1113.7 380.0 1116.0C375.0 1118.3 367.7 1120.0 362.0 1122.0C356.3 1124.0 348.7 1128.7 346.0 1128.0C343.3 1127.3 343.3 1120.7 346.0 1118.0Z" opacity="0.8"/>
<path d="M604.0 1104.0C606.3 1102.3 614.7 1101.3 620.0 1102.0C625.3 1102.7 631.7 1105.3 636.0 1108.0C640.3 1110.7 646.3 1115.8 646.0 1118.0C645.7 1120.2 638.3 1121.5 634.0 1121.0C629.7 1120.5 624.7 1116.5 620.0 1115.0C615.3 1113.5 608.7 1113.8 606.0 1112.0C603.3 1110.2 601.7 1105.7 604.0 1104.0Z" opacity="0.8"/>
<path d="M548.0 1150.0C548.7 1148.0 553.3 1146.0 556.0 1146.0C558.7 1146.0 563.0 1148.0 564.0 1150.0C565.0 1152.0 564.0 1156.7 562.0 1158.0C560.0 1159.3 554.3 1159.3 552.0 1158.0C549.7 1156.7 547.3 1152.0 548.0 1150.0Z" opacity="0.9"/>
</g>
<path d="M535.5 1134.0C535.5 1137.5 534.2 1141.3 531.8 1144.4C529.5 1147.5 525.8 1150.6 521.6 1152.8C517.4 1154.9 512.0 1156.6 506.7 1157.4C501.5 1158.2 495.5 1158.2 490.3 1157.4C485.0 1156.6 479.6 1154.9 475.4 1152.8C471.2 1150.6 467.5 1147.5 465.2 1144.4C462.8 1141.3 461.5 1137.5 461.5 1134.0C461.5 1130.5 462.8 1126.7 465.2 1123.6C467.5 1120.5 471.2 1117.4 475.4 1115.2C479.6 1113.1 485.0 1111.4 490.3 1110.6C495.5 1109.8 501.5 1109.8 506.7 1110.6C512.0 1111.4 517.4 1113.1 521.6 1115.2C525.8 1117.4 529.5 1120.5 531.8 1123.6C534.2 1126.7 535.5 1130.5 535.5 1134.0Z" fill="none" stroke="#f7ebf6" stroke-width="5" opacity="0.8" filter="url(#pale)"/>
<path d="M528.5 1134.0C528.5 1136.7 527.4 1139.6 525.5 1142.0C523.6 1144.4 520.6 1146.8 517.2 1148.5C513.8 1150.1 509.4 1151.4 505.2 1152.0C500.9 1152.6 496.1 1152.6 491.8 1152.0C487.6 1151.4 483.2 1150.1 479.8 1148.5C476.4 1146.8 473.4 1144.4 471.5 1142.0C469.6 1139.6 468.5 1136.7 468.5 1134.0C468.5 1131.3 469.6 1128.4 471.5 1126.0C473.4 1123.6 476.4 1121.2 479.8 1119.5C483.2 1117.9 487.6 1116.6 491.8 1116.0C496.1 1115.4 500.9 1115.4 505.2 1116.0C509.4 1116.6 513.8 1117.9 517.2 1119.5C520.6 1121.2 523.6 1123.6 525.5 1126.0C527.4 1128.4 528.5 1131.3 528.5 1134.0Z" fill="none" stroke="#c08cc4" stroke-width="7" opacity="0.65" filter="url(#b2)"/>
<path d="M474.5 1136.0C474.2 1133.6 474.4 1130.3 475.5 1128.0C476.6 1125.7 478.6 1123.4 481.0 1122.0C483.4 1120.6 486.7 1120.0 490.0 1119.5C493.3 1119.0 497.3 1118.8 501.0 1119.0C504.7 1119.2 508.8 1119.6 512.0 1120.5C515.2 1121.4 518.5 1122.7 520.5 1124.5C522.5 1126.3 523.7 1129.0 524.0 1131.5C524.3 1134.0 523.7 1137.2 522.5 1139.5C521.3 1141.8 519.5 1143.6 517.0 1145.0C514.5 1146.4 511.2 1147.4 507.5 1148.0C503.8 1148.6 498.9 1148.7 495.0 1148.5C491.1 1148.3 486.9 1148.0 484.0 1147.0C481.1 1146.0 479.1 1144.3 477.5 1142.5C475.9 1140.7 474.8 1138.4 474.5 1136.0Z" fill="#fbf4fa" filter="url(#rough2)"/>
<g fill="#5d4399" filter="url(#b05)"><ellipse cx="472.8" cy="1135.1" rx="1.6" ry="1.2" transform="rotate(176 472.8 1135.1)" opacity="0.99"/><ellipse cx="474.0" cy="1129.7" rx="1.9" ry="1.0" transform="rotate(-174 474.0 1129.7)" opacity="0.85"/><ellipse cx="476.0" cy="1125.7" rx="2.2" ry="1.0" transform="rotate(-161 476.0 1125.7)" opacity="0.74"/><ellipse cx="478.8" cy="1122.5" rx="1.4" ry="1.0" transform="rotate(-150 478.8 1122.5)" opacity="0.78"/><ellipse cx="483.9" cy="1118.9" rx="1.4" ry="1.3" transform="rotate(-138 483.9 1118.9)" opacity="0.96"/><ellipse cx="487.6" cy="1116.9" rx="1.6" ry="1.3" transform="rotate(-121 487.6 1116.9)" opacity="0.74"/><ellipse cx="491.6" cy="1118.2" rx="1.6" ry="1.3" transform="rotate(-111 491.6 1118.2)" opacity="0.79"/><ellipse cx="499.0" cy="1116.2" rx="2.2" ry="1.3" transform="rotate(-86 499.0 1116.2)" opacity="0.77"/><ellipse cx="503.2" cy="1116.4" rx="1.7" ry="1.1" transform="rotate(-70 503.2 1116.4)" opacity="0.87"/><ellipse cx="509.0" cy="1118.4" rx="1.7" ry="1.0" transform="rotate(-54 509.0 1118.4)" opacity="0.99"/><ellipse cx="514.4" cy="1121.5" rx="2.3" ry="1.1" transform="rotate(-38 514.4 1121.5)" opacity="0.99"/><ellipse cx="520.5" cy="1120.9" rx="2.2" ry="1.2" transform="rotate(-30 520.5 1120.9)" opacity="0.99"/><ellipse cx="524.0" cy="1127.0" rx="1.5" ry="1.0" transform="rotate(-18 524.0 1127.0)" opacity="0.87"/><ellipse cx="524.3" cy="1128.6" rx="1.7" ry="1.2" transform="rotate(-8 524.3 1128.6)" opacity="0.84"/><ellipse cx="523.8" cy="1135.6" rx="1.9" ry="1.0" transform="rotate(7 523.8 1135.6)" opacity="0.70"/><ellipse cx="524.8" cy="1141.7" rx="1.8" ry="0.9" transform="rotate(14 524.8 1141.7)" opacity="0.76"/><ellipse cx="520.2" cy="1144.8" rx="1.8" ry="0.9" transform="rotate(30 520.2 1144.8)" opacity="0.86"/><ellipse cx="514.2" cy="1148.7" rx="1.6" ry="1.2" transform="rotate(42 514.2 1148.7)" opacity="0.84"/><ellipse cx="508.3" cy="1149.4" rx="2.0" ry="1.0" transform="rotate(56 508.3 1149.4)" opacity="0.87"/><ellipse cx="505.8" cy="1151.4" rx="2.0" ry="1.1" transform="rotate(66 505.8 1151.4)" opacity="0.96"/><ellipse cx="498.1" cy="1150.2" rx="2.2" ry="1.1" transform="rotate(92 498.1 1150.2)" opacity="0.85"/><ellipse cx="492.4" cy="1149.6" rx="1.9" ry="1.1" transform="rotate(107 492.4 1149.6)" opacity="0.93"/><ellipse cx="487.3" cy="1149.6" rx="1.6" ry="1.3" transform="rotate(125 487.3 1149.6)" opacity="0.89"/><ellipse cx="482.8" cy="1149.6" rx="2.3" ry="1.2" transform="rotate(137 482.8 1149.6)" opacity="0.96"/><ellipse cx="476.7" cy="1144.3" rx="1.8" ry="0.9" transform="rotate(153 476.7 1144.3)" opacity="0.88"/><ellipse cx="475.3" cy="1140.5" rx="2.3" ry="1.2" transform="rotate(163 475.3 1140.5)" opacity="0.87"/></g>
<g fill="#6a4aa2" filter="url(#b05)"><ellipse cx="471.8" cy="1138.3" rx="2.4" ry="1.1" transform="rotate(262 471.8 1138.3)" opacity="0.67"/><ellipse cx="472.0" cy="1129.3" rx="2.5" ry="1.3" transform="rotate(-81 472.0 1129.3)" opacity="0.88"/><ellipse cx="474.2" cy="1123.4" rx="1.9" ry="1.5" transform="rotate(-64 474.2 1123.4)" opacity="0.74"/><ellipse cx="480.2" cy="1119.0" rx="2.2" ry="1.1" transform="rotate(-49 480.2 1119.0)" opacity="0.63"/><ellipse cx="489.4" cy="1115.1" rx="2.5" ry="1.1" transform="rotate(-28 489.4 1115.1)" opacity="0.70"/><ellipse cx="500.7" cy="1115.1" rx="2.1" ry="1.4" transform="rotate(7 500.7 1115.1)" opacity="0.83"/><ellipse cx="510.1" cy="1115.5" rx="2.7" ry="1.4" transform="rotate(31 510.1 1115.5)" opacity="0.70"/><ellipse cx="519.9" cy="1120.9" rx="2.5" ry="1.5" transform="rotate(56 519.9 1120.9)" opacity="0.79"/><ellipse cx="525.2" cy="1123.9" rx="2.3" ry="1.4" transform="rotate(67 525.2 1123.9)" opacity="0.81"/><ellipse cx="527.2" cy="1130.5" rx="2.0" ry="1.2" transform="rotate(83 527.2 1130.5)" opacity="0.87"/><ellipse cx="527.0" cy="1140.1" rx="2.4" ry="1.3" transform="rotate(100 527.0 1140.1)" opacity="0.67"/><ellipse cx="520.9" cy="1147.5" rx="2.8" ry="1.4" transform="rotate(120 520.9 1147.5)" opacity="0.68"/><ellipse cx="513.4" cy="1149.7" rx="1.8" ry="1.1" transform="rotate(140 513.4 1149.7)" opacity="0.80"/><ellipse cx="505.1" cy="1153.6" rx="1.9" ry="1.4" transform="rotate(157 505.1 1153.6)" opacity="0.77"/><ellipse cx="496.5" cy="1153.5" rx="2.2" ry="1.3" transform="rotate(189 496.5 1153.5)" opacity="0.67"/><ellipse cx="488.0" cy="1151.6" rx="2.7" ry="1.4" transform="rotate(207 488.0 1151.6)" opacity="0.62"/><ellipse cx="480.5" cy="1150.1" rx="2.3" ry="1.4" transform="rotate(228 480.5 1150.1)" opacity="0.67"/><ellipse cx="473.5" cy="1142.2" rx="2.0" ry="1.1" transform="rotate(249 473.5 1142.2)" opacity="0.82"/></g>
<g fill="#faf1f9" filter="url(#b05)"><ellipse cx="627.1" cy="1201.9" rx="13.7" ry="1.4" transform="rotate(7 627.1 1201.9)" opacity="0.70"/><ellipse cx="444.7" cy="1128.8" rx="10.6" ry="1.2" transform="rotate(-22 444.7 1128.8)" opacity="0.83"/><ellipse cx="415.7" cy="1129.6" rx="6.9" ry="1.3" transform="rotate(-23 415.7 1129.6)" opacity="0.67"/><ellipse cx="518.3" cy="1221.4" rx="14.8" ry="1.7" transform="rotate(2 518.3 1221.4)" opacity="0.46"/><ellipse cx="598.2" cy="1064.1" rx="16.6" ry="1.6" transform="rotate(-2 598.2 1064.1)" opacity="0.79"/><ellipse cx="362.0" cy="1055.2" rx="6.9" ry="1.7" transform="rotate(-17 362.0 1055.2)" opacity="0.48"/><ellipse cx="423.1" cy="1173.1" rx="18.1" ry="1.2" transform="rotate(-22 423.1 1173.1)" opacity="0.64"/><ellipse cx="620.0" cy="1053.2" rx="11.3" ry="1.5" transform="rotate(-12 620.0 1053.2)" opacity="0.53"/><ellipse cx="484.8" cy="1077.9" rx="11.9" ry="1.4" transform="rotate(-15 484.8 1077.9)" opacity="0.40"/><ellipse cx="529.3" cy="1213.3" rx="9.3" ry="1.6" transform="rotate(-2 529.3 1213.3)" opacity="0.47"/><ellipse cx="513.7" cy="1115.1" rx="10.6" ry="1.6" transform="rotate(-13 513.7 1115.1)" opacity="0.68"/><ellipse cx="428.7" cy="1148.4" rx="8.2" ry="1.5" transform="rotate(-8 428.7 1148.4)" opacity="0.46"/><ellipse cx="431.8" cy="1062.1" rx="15.2" ry="1.5" transform="rotate(-15 431.8 1062.1)" opacity="0.67"/><ellipse cx="543.3" cy="1074.7" rx="7.9" ry="1.8" transform="rotate(-12 543.3 1074.7)" opacity="0.44"/><ellipse cx="623.9" cy="1110.3" rx="12.1" ry="1.7" transform="rotate(-2 623.9 1110.3)" opacity="0.73"/><ellipse cx="599.8" cy="1048.8" rx="6.4" ry="1.4" transform="rotate(-5 599.8 1048.8)" opacity="0.58"/><ellipse cx="395.3" cy="1126.9" rx="12.6" ry="1.4" transform="rotate(-19 395.3 1126.9)" opacity="0.45"/><ellipse cx="644.3" cy="1212.2" rx="11.1" ry="1.3" transform="rotate(-2 644.3 1212.2)" opacity="0.54"/><ellipse cx="655.6" cy="1198.1" rx="17.6" ry="1.6" transform="rotate(-3 655.6 1198.1)" opacity="0.79"/><ellipse cx="483.2" cy="1042.7" rx="8.6" ry="1.5" transform="rotate(-13 483.2 1042.7)" opacity="0.45"/><ellipse cx="532.3" cy="1056.9" rx="9.3" ry="0.9" transform="rotate(-7 532.3 1056.9)" opacity="0.78"/><ellipse cx="592.5" cy="1158.7" rx="11.6" ry="1.4" transform="rotate(-0 592.5 1158.7)" opacity="0.50"/><ellipse cx="570.0" cy="1059.5" rx="10.2" ry="1.3" transform="rotate(-13 570.0 1059.5)" opacity="0.67"/><ellipse cx="578.8" cy="1145.4" rx="18.2" ry="1.3" transform="rotate(1 578.8 1145.4)" opacity="0.62"/><ellipse cx="418.6" cy="1176.5" rx="17.2" ry="1.5" transform="rotate(-23 418.6 1176.5)" opacity="0.85"/><ellipse cx="623.9" cy="1134.1" rx="11.4" ry="1.1" transform="rotate(5 623.9 1134.1)" opacity="0.82"/><ellipse cx="477.1" cy="1171.8" rx="7.3" ry="1.6" transform="rotate(-24 477.1 1171.8)" opacity="0.69"/><ellipse cx="590.3" cy="1151.5" rx="12.9" ry="1.3" transform="rotate(-3 590.3 1151.5)" opacity="0.66"/><ellipse cx="668.0" cy="1121.9" rx="15.2" ry="0.9" transform="rotate(5 668.0 1121.9)" opacity="0.84"/><ellipse cx="482.7" cy="1216.2" rx="10.2" ry="1.4" transform="rotate(-10 482.7 1216.2)" opacity="0.69"/><ellipse cx="579.0" cy="1089.0" rx="8.9" ry="1.2" transform="rotate(-13 579.0 1089.0)" opacity="0.83"/><ellipse cx="484.5" cy="1159.8" rx="8.2" ry="1.2" transform="rotate(-8 484.5 1159.8)" opacity="0.83"/><ellipse cx="465.9" cy="1181.6" rx="19.7" ry="0.9" transform="rotate(-12 465.9 1181.6)" opacity="0.56"/><ellipse cx="633.2" cy="1100.9" rx="16.8" ry="1.0" transform="rotate(-13 633.2 1100.9)" opacity="0.70"/><ellipse cx="610.1" cy="1181.6" rx="10.0" ry="1.4" transform="rotate(5 610.1 1181.6)" opacity="0.67"/><ellipse cx="436.6" cy="1182.2" rx="19.0" ry="1.3" transform="rotate(-10 436.6 1182.2)" opacity="0.72"/><ellipse cx="661.3" cy="1141.8" rx="10.3" ry="0.9" transform="rotate(1 661.3 1141.8)" opacity="0.79"/><ellipse cx="672.3" cy="1140.1" rx="18.6" ry="0.8" transform="rotate(7 672.3 1140.1)" opacity="0.57"/><ellipse cx="523.3" cy="1152.9" rx="12.4" ry="1.1" transform="rotate(-3 523.3 1152.9)" opacity="0.43"/><ellipse cx="584.7" cy="1181.1" rx="15.4" ry="1.6" transform="rotate(9 584.7 1181.1)" opacity="0.70"/><ellipse cx="417.9" cy="1099.0" rx="13.2" ry="1.6" transform="rotate(-21 417.9 1099.0)" opacity="0.65"/><ellipse cx="357.7" cy="1054.0" rx="14.6" ry="1.4" transform="rotate(-13 357.7 1054.0)" opacity="0.52"/><ellipse cx="412.8" cy="1169.3" rx="12.1" ry="1.5" transform="rotate(-20 412.8 1169.3)" opacity="0.44"/><ellipse cx="599.4" cy="1081.8" rx="17.0" ry="1.5" transform="rotate(-2 599.4 1081.8)" opacity="0.81"/><ellipse cx="657.2" cy="1189.5" rx="17.4" ry="0.9" transform="rotate(-3 657.2 1189.5)" opacity="0.49"/><ellipse cx="623.2" cy="1109.7" rx="9.2" ry="0.9" transform="rotate(-4 623.2 1109.7)" opacity="0.42"/><ellipse cx="635.6" cy="1198.7" rx="13.1" ry="1.6" transform="rotate(9 635.6 1198.7)" opacity="0.57"/><ellipse cx="395.8" cy="1085.2" rx="13.3" ry="0.9" transform="rotate(-15 395.8 1085.2)" opacity="0.62"/><ellipse cx="465.4" cy="1044.0" rx="11.0" ry="1.8" transform="rotate(-23 465.4 1044.0)" opacity="0.74"/><ellipse cx="447.9" cy="1151.0" rx="12.8" ry="0.9" transform="rotate(-9 447.9 1151.0)" opacity="0.77"/><ellipse cx="570.5" cy="1192.0" rx="19.5" ry="1.6" transform="rotate(7 570.5 1192.0)" opacity="0.51"/><ellipse cx="357.4" cy="1082.7" rx="10.0" ry="1.3" transform="rotate(-17 357.4 1082.7)" opacity="0.52"/><ellipse cx="561.2" cy="1086.6" rx="7.4" ry="1.4" transform="rotate(-9 561.2 1086.6)" opacity="0.83"/><ellipse cx="611.1" cy="1103.4" rx="17.6" ry="1.2" transform="rotate(-2 611.1 1103.4)" opacity="0.80"/><ellipse cx="388.3" cy="1062.8" rx="10.6" ry="1.0" transform="rotate(-10 388.3 1062.8)" opacity="0.73"/><ellipse cx="452.7" cy="1061.5" rx="10.6" ry="1.4" transform="rotate(-19 452.7 1061.5)" opacity="0.47"/><ellipse cx="655.5" cy="1144.5" rx="12.3" ry="1.7" transform="rotate(-2 655.5 1144.5)" opacity="0.42"/><ellipse cx="447.1" cy="1079.2" rx="19.5" ry="1.3" transform="rotate(-14 447.1 1079.2)" opacity="0.64"/><ellipse cx="363.9" cy="1165.6" rx="8.8" ry="1.4" transform="rotate(-22 363.9 1165.6)" opacity="0.65"/><ellipse cx="392.1" cy="1082.6" rx="18.9" ry="1.8" transform="rotate(-23 392.1 1082.6)" opacity="0.60"/><ellipse cx="586.2" cy="1210.2" rx="6.2" ry="1.0" transform="rotate(9 586.2 1210.2)" opacity="0.75"/><ellipse cx="622.6" cy="1095.6" rx="10.6" ry="1.4" transform="rotate(-15 622.6 1095.6)" opacity="0.81"/><ellipse cx="361.3" cy="1098.9" rx="8.0" ry="1.1" transform="rotate(-21 361.3 1098.9)" opacity="0.75"/><ellipse cx="456.6" cy="1060.6" rx="6.3" ry="1.1" transform="rotate(-9 456.6 1060.6)" opacity="0.83"/><ellipse cx="487.6" cy="1082.4" rx="10.9" ry="1.4" transform="rotate(-13 487.6 1082.4)" opacity="0.53"/><ellipse cx="464.7" cy="1175.5" rx="14.9" ry="1.5" transform="rotate(-12 464.7 1175.5)" opacity="0.54"/><ellipse cx="423.0" cy="1061.0" rx="13.9" ry="0.9" transform="rotate(-19 423.0 1061.0)" opacity="0.42"/><ellipse cx="471.9" cy="1110.0" rx="16.8" ry="1.0" transform="rotate(-17 471.9 1110.0)" opacity="0.72"/><ellipse cx="488.9" cy="1090.6" rx="11.7" ry="1.3" transform="rotate(-8 488.9 1090.6)" opacity="0.72"/><ellipse cx="391.2" cy="1154.7" rx="10.7" ry="1.2" transform="rotate(-24 391.2 1154.7)" opacity="0.58"/><ellipse cx="372.8" cy="1203.9" rx="15.7" ry="0.9" transform="rotate(-21 372.8 1203.9)" opacity="0.77"/><ellipse cx="550.7" cy="1089.6" rx="13.7" ry="0.8" transform="rotate(-9 550.7 1089.6)" opacity="0.61"/><ellipse cx="420.2" cy="1104.9" rx="6.8" ry="1.2" transform="rotate(-9 420.2 1104.9)" opacity="0.44"/><ellipse cx="613.0" cy="1126.7" rx="16.6" ry="1.6" transform="rotate(0 613.0 1126.7)" opacity="0.82"/><ellipse cx="638.0" cy="1063.2" rx="13.4" ry="1.5" transform="rotate(-8 638.0 1063.2)" opacity="0.53"/><ellipse cx="397.0" cy="1128.9" rx="19.7" ry="1.5" transform="rotate(-10 397.0 1128.9)" opacity="0.41"/><ellipse cx="569.1" cy="1120.1" rx="18.9" ry="1.3" transform="rotate(7 569.1 1120.1)" opacity="0.77"/><ellipse cx="610.3" cy="1222.2" rx="11.0" ry="1.2" transform="rotate(9 610.3 1222.2)" opacity="0.80"/><ellipse cx="654.9" cy="1098.5" rx="13.8" ry="0.9" transform="rotate(-1 654.9 1098.5)" opacity="0.77"/><ellipse cx="595.7" cy="1176.2" rx="9.9" ry="1.0" transform="rotate(3 595.7 1176.2)" opacity="0.56"/><ellipse cx="432.3" cy="1111.5" rx="15.8" ry="1.7" transform="rotate(-21 432.3 1111.5)" opacity="0.66"/><ellipse cx="507.0" cy="1045.1" rx="8.5" ry="1.6" transform="rotate(-16 507.0 1045.1)" opacity="0.78"/><ellipse cx="484.2" cy="1191.9" rx="19.5" ry="1.5" transform="rotate(-11 484.2 1191.9)" opacity="0.79"/><ellipse cx="467.5" cy="1058.9" rx="7.4" ry="0.8" transform="rotate(-9 467.5 1058.9)" opacity="0.59"/><ellipse cx="632.3" cy="1216.9" rx="9.4" ry="1.0" transform="rotate(1 632.3 1216.9)" opacity="0.76"/></g>
<g fill="#7a4eaa" filter="url(#b05)"><ellipse cx="487.4" cy="1074.3" rx="3.1" ry="1.4" transform="rotate(-17 487.4 1074.3)" opacity="0.93"/><ellipse cx="662.0" cy="1161.1" rx="3.1" ry="1.3" transform="rotate(7 662.0 1161.1)" opacity="0.65"/><ellipse cx="399.3" cy="1185.4" rx="3.5" ry="1.1" transform="rotate(-19 399.3 1185.4)" opacity="0.70"/><ellipse cx="401.7" cy="1160.7" rx="2.5" ry="1.1" transform="rotate(-22 401.7 1160.7)" opacity="0.71"/><ellipse cx="445.1" cy="1198.5" rx="3.6" ry="1.0" transform="rotate(-14 445.1 1198.5)" opacity="0.67"/><ellipse cx="632.1" cy="1068.9" rx="3.0" ry="1.0" transform="rotate(-6 632.1 1068.9)" opacity="0.76"/><ellipse cx="492.1" cy="1098.4" rx="3.2" ry="0.9" transform="rotate(-5 492.1 1098.4)" opacity="0.67"/><ellipse cx="655.5" cy="1095.3" rx="3.6" ry="1.2" transform="rotate(-11 655.5 1095.3)" opacity="0.88"/><ellipse cx="497.1" cy="1087.6" rx="3.1" ry="1.1" transform="rotate(0 497.1 1087.6)" opacity="0.57"/><ellipse cx="496.5" cy="1055.2" rx="4.0" ry="1.1" transform="rotate(3 496.5 1055.2)" opacity="0.60"/><ellipse cx="352.3" cy="1112.1" rx="3.0" ry="1.1" transform="rotate(-18 352.3 1112.1)" opacity="0.87"/><ellipse cx="592.0" cy="1072.9" rx="3.7" ry="0.9" transform="rotate(-17 592.0 1072.9)" opacity="0.78"/><ellipse cx="506.8" cy="1155.3" rx="2.6" ry="1.2" transform="rotate(2 506.8 1155.3)" opacity="0.79"/><ellipse cx="401.1" cy="1097.1" rx="4.1" ry="1.1" transform="rotate(-24 401.1 1097.1)" opacity="0.89"/><ellipse cx="406.2" cy="1104.6" rx="3.8" ry="1.1" transform="rotate(-16 406.2 1104.6)" opacity="0.72"/><ellipse cx="474.0" cy="1166.6" rx="4.5" ry="1.1" transform="rotate(-24 474.0 1166.6)" opacity="0.92"/><ellipse cx="448.2" cy="1157.5" rx="3.1" ry="1.4" transform="rotate(-23 448.2 1157.5)" opacity="0.95"/><ellipse cx="517.8" cy="1050.0" rx="3.9" ry="1.0" transform="rotate(-1 517.8 1050.0)" opacity="0.57"/><ellipse cx="627.3" cy="1040.9" rx="3.0" ry="1.0" transform="rotate(-11 627.3 1040.9)" opacity="0.56"/><ellipse cx="656.7" cy="1128.5" rx="4.3" ry="1.4" transform="rotate(14 656.7 1128.5)" opacity="0.92"/><ellipse cx="457.8" cy="1088.9" rx="4.2" ry="1.2" transform="rotate(-27 457.8 1088.9)" opacity="0.56"/><ellipse cx="373.9" cy="1078.5" rx="4.5" ry="1.4" transform="rotate(-12 373.9 1078.5)" opacity="0.80"/><ellipse cx="531.5" cy="1156.8" rx="3.5" ry="1.1" transform="rotate(-10 531.5 1156.8)" opacity="0.81"/><ellipse cx="596.1" cy="1213.3" rx="3.3" ry="1.4" transform="rotate(1 596.1 1213.3)" opacity="0.87"/><ellipse cx="565.4" cy="1208.2" rx="3.0" ry="1.2" transform="rotate(10 565.4 1208.2)" opacity="0.83"/><ellipse cx="465.9" cy="1143.5" rx="2.7" ry="1.5" transform="rotate(-17 465.9 1143.5)" opacity="0.76"/><ellipse cx="348.2" cy="1199.4" rx="2.9" ry="1.1" transform="rotate(-22 348.2 1199.4)" opacity="0.58"/><ellipse cx="642.1" cy="1138.1" rx="3.9" ry="1.4" transform="rotate(-9 642.1 1138.1)" opacity="0.62"/><ellipse cx="443.7" cy="1053.0" rx="2.6" ry="1.1" transform="rotate(-10 443.7 1053.0)" opacity="0.74"/><ellipse cx="516.8" cy="1151.5" rx="3.9" ry="1.0" transform="rotate(-0 516.8 1151.5)" opacity="0.82"/><ellipse cx="650.2" cy="1119.5" rx="4.4" ry="1.5" transform="rotate(-18 650.2 1119.5)" opacity="0.69"/><ellipse cx="596.9" cy="1147.0" rx="3.4" ry="1.3" transform="rotate(-4 596.9 1147.0)" opacity="0.55"/><ellipse cx="415.2" cy="1100.5" rx="4.1" ry="1.3" transform="rotate(-6 415.2 1100.5)" opacity="0.58"/><ellipse cx="456.2" cy="1108.3" rx="3.5" ry="1.3" transform="rotate(-17 456.2 1108.3)" opacity="0.76"/><ellipse cx="564.0" cy="1138.4" rx="2.5" ry="1.5" transform="rotate(3 564.0 1138.4)" opacity="0.93"/><ellipse cx="455.9" cy="1138.1" rx="2.7" ry="1.1" transform="rotate(-11 455.9 1138.1)" opacity="0.84"/><ellipse cx="362.2" cy="1172.3" rx="2.9" ry="1.2" transform="rotate(-19 362.2 1172.3)" opacity="0.79"/><ellipse cx="504.3" cy="1209.4" rx="3.5" ry="1.3" transform="rotate(6 504.3 1209.4)" opacity="0.57"/><ellipse cx="634.5" cy="1191.9" rx="3.2" ry="1.1" transform="rotate(7 634.5 1191.9)" opacity="0.83"/><ellipse cx="426.2" cy="1124.2" rx="3.4" ry="1.4" transform="rotate(-15 426.2 1124.2)" opacity="0.73"/><ellipse cx="387.6" cy="1201.9" rx="3.5" ry="1.0" transform="rotate(-8 387.6 1201.9)" opacity="0.74"/><ellipse cx="408.6" cy="1129.7" rx="3.9" ry="1.0" transform="rotate(-19 408.6 1129.7)" opacity="0.91"/><ellipse cx="386.0" cy="1081.3" rx="3.6" ry="1.0" transform="rotate(-13 386.0 1081.3)" opacity="0.65"/><ellipse cx="373.7" cy="1162.5" rx="3.9" ry="1.2" transform="rotate(-15 373.7 1162.5)" opacity="0.64"/><ellipse cx="421.4" cy="1176.9" rx="2.4" ry="1.0" transform="rotate(-24 421.4 1176.9)" opacity="0.83"/><ellipse cx="451.5" cy="1108.7" rx="3.5" ry="1.3" transform="rotate(-25 451.5 1108.7)" opacity="0.76"/><ellipse cx="437.9" cy="1194.0" rx="2.6" ry="1.3" transform="rotate(-24 437.9 1194.0)" opacity="0.56"/><ellipse cx="518.2" cy="1044.7" rx="3.7" ry="1.2" transform="rotate(-13 518.2 1044.7)" opacity="0.77"/><ellipse cx="585.0" cy="1220.1" rx="3.1" ry="1.2" transform="rotate(7 585.0 1220.1)" opacity="0.63"/><ellipse cx="353.6" cy="1136.0" rx="4.5" ry="1.2" transform="rotate(-9 353.6 1136.0)" opacity="0.58"/><ellipse cx="618.6" cy="1088.1" rx="3.3" ry="1.5" transform="rotate(-6 618.6 1088.1)" opacity="0.80"/><ellipse cx="528.1" cy="1184.9" rx="2.7" ry="1.4" transform="rotate(11 528.1 1184.9)" opacity="0.94"/><ellipse cx="547.3" cy="1069.4" rx="2.5" ry="1.2" transform="rotate(0 547.3 1069.4)" opacity="0.94"/><ellipse cx="574.6" cy="1121.3" rx="3.2" ry="1.5" transform="rotate(-2 574.6 1121.3)" opacity="0.63"/><ellipse cx="409.7" cy="1208.4" rx="4.4" ry="1.1" transform="rotate(-20 409.7 1208.4)" opacity="0.63"/><ellipse cx="610.4" cy="1164.0" rx="4.6" ry="1.5" transform="rotate(-4 610.4 1164.0)" opacity="0.78"/><ellipse cx="427.2" cy="1052.9" rx="4.7" ry="1.4" transform="rotate(-10 427.2 1052.9)" opacity="0.57"/><ellipse cx="623.1" cy="1200.8" rx="2.8" ry="1.1" transform="rotate(13 623.1 1200.8)" opacity="0.75"/><ellipse cx="360.8" cy="1041.0" rx="3.0" ry="0.9" transform="rotate(-6 360.8 1041.0)" opacity="0.93"/><ellipse cx="621.0" cy="1177.9" rx="3.5" ry="1.2" transform="rotate(8 621.0 1177.9)" opacity="0.70"/><ellipse cx="671.5" cy="1081.8" rx="3.2" ry="1.1" transform="rotate(-2 671.5 1081.8)" opacity="0.69"/><ellipse cx="482.9" cy="1108.2" rx="3.2" ry="1.2" transform="rotate(-22 482.9 1108.2)" opacity="0.67"/><ellipse cx="647.1" cy="1127.0" rx="4.5" ry="1.1" transform="rotate(-5 647.1 1127.0)" opacity="0.60"/><ellipse cx="588.1" cy="1218.2" rx="2.7" ry="1.3" transform="rotate(-7 588.1 1218.2)" opacity="0.79"/><ellipse cx="603.0" cy="1041.7" rx="4.1" ry="1.3" transform="rotate(-7 603.0 1041.7)" opacity="0.76"/><ellipse cx="620.7" cy="1042.7" rx="2.7" ry="1.4" transform="rotate(-10 620.7 1042.7)" opacity="0.77"/><ellipse cx="531.0" cy="1086.2" rx="4.3" ry="1.0" transform="rotate(4 531.0 1086.2)" opacity="0.89"/><ellipse cx="526.3" cy="1164.0" rx="4.0" ry="1.0" transform="rotate(0 526.3 1164.0)" opacity="0.90"/><ellipse cx="422.5" cy="1106.3" rx="3.2" ry="1.3" transform="rotate(-13 422.5 1106.3)" opacity="0.70"/><ellipse cx="658.7" cy="1045.3" rx="2.8" ry="1.0" transform="rotate(1 658.7 1045.3)" opacity="0.95"/><ellipse cx="422.4" cy="1160.0" rx="4.6" ry="1.1" transform="rotate(-9 422.4 1160.0)" opacity="0.63"/><ellipse cx="450.4" cy="1085.0" rx="4.3" ry="1.1" transform="rotate(-20 450.4 1085.0)" opacity="0.81"/><ellipse cx="620.5" cy="1193.8" rx="3.2" ry="1.5" transform="rotate(-0 620.5 1193.8)" opacity="0.91"/><ellipse cx="438.3" cy="1113.5" rx="3.2" ry="1.3" transform="rotate(-14 438.3 1113.5)" opacity="0.81"/><ellipse cx="379.1" cy="1185.9" rx="4.1" ry="1.0" transform="rotate(-7 379.1 1185.9)" opacity="0.68"/><ellipse cx="615.3" cy="1194.5" rx="4.4" ry="0.9" transform="rotate(-6 615.3 1194.5)" opacity="0.57"/><ellipse cx="453.6" cy="1098.6" rx="3.7" ry="1.2" transform="rotate(-26 453.6 1098.6)" opacity="0.77"/><ellipse cx="582.5" cy="1117.1" rx="4.5" ry="1.0" transform="rotate(-2 582.5 1117.1)" opacity="0.64"/><ellipse cx="357.2" cy="1173.2" rx="2.6" ry="1.1" transform="rotate(-23 357.2 1173.2)" opacity="0.85"/><ellipse cx="499.7" cy="1057.0" rx="2.5" ry="0.9" transform="rotate(-1 499.7 1057.0)" opacity="0.79"/><ellipse cx="596.0" cy="1186.2" rx="4.1" ry="1.1" transform="rotate(10 596.0 1186.2)" opacity="0.77"/><ellipse cx="585.8" cy="1057.7" rx="4.0" ry="1.1" transform="rotate(-0 585.8 1057.7)" opacity="0.92"/><ellipse cx="629.7" cy="1193.5" rx="4.0" ry="1.4" transform="rotate(7 629.7 1193.5)" opacity="0.91"/><ellipse cx="466.4" cy="1066.3" rx="4.5" ry="1.1" transform="rotate(-24 466.4 1066.3)" opacity="0.89"/><ellipse cx="668.3" cy="1101.5" rx="2.7" ry="1.2" transform="rotate(-11 668.3 1101.5)" opacity="0.63"/><ellipse cx="615.1" cy="1049.8" rx="3.0" ry="1.5" transform="rotate(-5 615.1 1049.8)" opacity="0.67"/><ellipse cx="504.8" cy="1097.6" rx="3.3" ry="1.3" transform="rotate(-3 504.8 1097.6)" opacity="0.66"/><ellipse cx="410.6" cy="1162.8" rx="4.6" ry="1.2" transform="rotate(-5 410.6 1162.8)" opacity="0.60"/><ellipse cx="553.7" cy="1210.4" rx="3.2" ry="1.3" transform="rotate(-3 553.7 1210.4)" opacity="0.93"/><ellipse cx="647.1" cy="1163.9" rx="4.3" ry="1.1" transform="rotate(-7 647.1 1163.9)" opacity="0.72"/><ellipse cx="523.0" cy="1068.8" rx="3.3" ry="1.5" transform="rotate(-15 523.0 1068.8)" opacity="0.66"/><ellipse cx="615.1" cy="1095.4" rx="3.0" ry="1.1" transform="rotate(-18 615.1 1095.4)" opacity="0.75"/><ellipse cx="536.1" cy="1161.2" rx="3.5" ry="1.1" transform="rotate(4 536.1 1161.2)" opacity="0.78"/><ellipse cx="423.0" cy="1115.2" rx="3.5" ry="0.9" transform="rotate(-5 423.0 1115.2)" opacity="0.81"/><ellipse cx="421.1" cy="1094.5" rx="3.1" ry="1.5" transform="rotate(-14 421.1 1094.5)" opacity="0.94"/><ellipse cx="651.7" cy="1052.6" rx="3.2" ry="1.3" transform="rotate(-14 651.7 1052.6)" opacity="0.61"/><ellipse cx="669.1" cy="1114.4" rx="3.6" ry="1.4" transform="rotate(-15 669.1 1114.4)" opacity="0.84"/><ellipse cx="571.4" cy="1100.2" rx="3.7" ry="1.0" transform="rotate(-3 571.4 1100.2)" opacity="0.92"/><ellipse cx="447.5" cy="1130.6" rx="4.4" ry="1.2" transform="rotate(-10 447.5 1130.6)" opacity="0.69"/><ellipse cx="486.7" cy="1074.8" rx="3.7" ry="1.3" transform="rotate(-5 486.7 1074.8)" opacity="0.89"/><ellipse cx="568.7" cy="1129.1" rx="4.3" ry="1.4" transform="rotate(10 568.7 1129.1)" opacity="0.65"/><ellipse cx="557.9" cy="1193.1" rx="4.0" ry="1.4" transform="rotate(14 557.9 1193.1)" opacity="0.90"/><ellipse cx="534.5" cy="1069.1" rx="4.5" ry="1.4" transform="rotate(-18 534.5 1069.1)" opacity="0.89"/><ellipse cx="607.1" cy="1103.1" rx="3.9" ry="1.3" transform="rotate(0 607.1 1103.1)" opacity="0.72"/><ellipse cx="417.5" cy="1220.9" rx="4.2" ry="1.2" transform="rotate(-5 417.5 1220.9)" opacity="0.72"/><ellipse cx="400.7" cy="1123.5" rx="4.2" ry="1.1" transform="rotate(-10 400.7 1123.5)" opacity="0.85"/><ellipse cx="633.6" cy="1191.4" rx="3.2" ry="1.5" transform="rotate(11 633.6 1191.4)" opacity="0.78"/><ellipse cx="402.0" cy="1146.7" rx="3.8" ry="1.0" transform="rotate(-8 402.0 1146.7)" opacity="0.62"/><ellipse cx="543.2" cy="1216.1" rx="4.4" ry="1.2" transform="rotate(-6 543.2 1216.1)" opacity="0.69"/><ellipse cx="458.8" cy="1066.8" rx="3.1" ry="1.0" transform="rotate(-24 458.8 1066.8)" opacity="0.64"/><ellipse cx="656.6" cy="1197.6" rx="3.9" ry="1.5" transform="rotate(-8 656.6 1197.6)" opacity="0.92"/><ellipse cx="561.9" cy="1088.9" rx="3.1" ry="1.1" transform="rotate(-17 561.9 1088.9)" opacity="0.92"/><ellipse cx="614.2" cy="1203.2" rx="3.6" ry="1.5" transform="rotate(10 614.2 1203.2)" opacity="0.85"/><ellipse cx="624.1" cy="1214.0" rx="4.7" ry="1.0" transform="rotate(4 624.1 1214.0)" opacity="0.86"/><ellipse cx="543.1" cy="1178.8" rx="4.6" ry="1.1" transform="rotate(-10 543.1 1178.8)" opacity="0.69"/><ellipse cx="636.7" cy="1181.3" rx="3.4" ry="1.2" transform="rotate(10 636.7 1181.3)" opacity="0.65"/><ellipse cx="432.8" cy="1204.6" rx="3.0" ry="1.0" transform="rotate(-9 432.8 1204.6)" opacity="0.72"/><ellipse cx="613.2" cy="1129.2" rx="2.4" ry="1.4" transform="rotate(11 613.2 1129.2)" opacity="0.79"/><ellipse cx="500.3" cy="1074.3" rx="4.0" ry="1.2" transform="rotate(-16 500.3 1074.3)" opacity="0.74"/><ellipse cx="638.5" cy="1218.7" rx="3.7" ry="1.0" transform="rotate(4 638.5 1218.7)" opacity="0.93"/><ellipse cx="522.0" cy="1165.3" rx="3.1" ry="1.2" transform="rotate(-1 522.0 1165.3)" opacity="0.94"/><ellipse cx="539.4" cy="1050.7" rx="4.3" ry="1.5" transform="rotate(-13 539.4 1050.7)" opacity="0.62"/><ellipse cx="502.1" cy="1058.8" rx="3.8" ry="1.4" transform="rotate(-19 502.1 1058.8)" opacity="0.80"/><ellipse cx="541.1" cy="1045.5" rx="3.6" ry="0.9" transform="rotate(-20 541.1 1045.5)" opacity="0.81"/><ellipse cx="551.5" cy="1049.9" rx="4.7" ry="1.2" transform="rotate(-2 551.5 1049.9)" opacity="0.73"/><ellipse cx="440.4" cy="1192.7" rx="2.9" ry="1.3" transform="rotate(-14 440.4 1192.7)" opacity="0.82"/><ellipse cx="375.7" cy="1173.1" rx="4.7" ry="1.1" transform="rotate(-4 375.7 1173.1)" opacity="0.67"/><ellipse cx="422.5" cy="1080.0" rx="3.9" ry="1.3" transform="rotate(-17 422.5 1080.0)" opacity="0.65"/><ellipse cx="420.1" cy="1164.1" rx="2.9" ry="1.5" transform="rotate(-6 420.1 1164.1)" opacity="0.82"/><ellipse cx="579.8" cy="1202.4" rx="2.8" ry="1.4" transform="rotate(13 579.8 1202.4)" opacity="0.88"/><ellipse cx="483.7" cy="1064.4" rx="3.6" ry="1.1" transform="rotate(-5 483.7 1064.4)" opacity="0.58"/><ellipse cx="367.3" cy="1214.0" rx="2.5" ry="1.2" transform="rotate(-18 367.3 1214.0)" opacity="0.67"/><ellipse cx="592.6" cy="1193.5" rx="3.2" ry="1.2" transform="rotate(4 592.6 1193.5)" opacity="0.73"/><ellipse cx="453.6" cy="1128.2" rx="4.4" ry="1.3" transform="rotate(-27 453.6 1128.2)" opacity="0.61"/><ellipse cx="572.3" cy="1205.8" rx="3.9" ry="1.3" transform="rotate(9 572.3 1205.8)" opacity="0.73"/><ellipse cx="643.5" cy="1094.8" rx="4.4" ry="1.1" transform="rotate(0 643.5 1094.8)" opacity="0.92"/><ellipse cx="491.4" cy="1063.1" rx="4.8" ry="1.3" transform="rotate(-17 491.4 1063.1)" opacity="0.68"/><ellipse cx="370.8" cy="1106.0" rx="4.5" ry="1.3" transform="rotate(-19 370.8 1106.0)" opacity="0.68"/><ellipse cx="642.7" cy="1080.7" rx="3.0" ry="1.0" transform="rotate(-3 642.7 1080.7)" opacity="0.83"/><ellipse cx="449.1" cy="1175.9" rx="3.6" ry="1.2" transform="rotate(-27 449.1 1175.9)" opacity="0.72"/><ellipse cx="613.9" cy="1135.0" rx="2.5" ry="1.0" transform="rotate(10 613.9 1135.0)" opacity="0.73"/><ellipse cx="370.0" cy="1074.6" rx="4.5" ry="1.2" transform="rotate(-12 370.0 1074.6)" opacity="0.61"/><ellipse cx="453.5" cy="1120.7" rx="4.0" ry="1.1" transform="rotate(-20 453.5 1120.7)" opacity="0.61"/><ellipse cx="397.4" cy="1123.5" rx="2.4" ry="1.3" transform="rotate(-26 397.4 1123.5)" opacity="0.90"/><ellipse cx="659.9" cy="1094.2" rx="4.5" ry="0.9" transform="rotate(-13 659.9 1094.2)" opacity="0.73"/><ellipse cx="479.0" cy="1218.9" rx="3.4" ry="1.2" transform="rotate(-9 479.0 1218.9)" opacity="0.88"/><ellipse cx="415.9" cy="1197.2" rx="2.7" ry="1.4" transform="rotate(-20 415.9 1197.2)" opacity="0.57"/><ellipse cx="657.2" cy="1163.9" rx="3.7" ry="1.1" transform="rotate(-0 657.2 1163.9)" opacity="0.78"/><ellipse cx="587.0" cy="1207.1" rx="3.4" ry="1.1" transform="rotate(7 587.0 1207.1)" opacity="0.61"/><ellipse cx="640.6" cy="1212.1" rx="3.7" ry="1.3" transform="rotate(4 640.6 1212.1)" opacity="0.81"/></g>
</g>
<clipPath id="cpG"><rect x="8.0" y="1249.6" width="327.7" height="185.0"/></clipPath>
<g clip-path="url(#cpG)">
<rect x="8.0" y="1249.6" width="327.7" height="185.0" fill="#e6a0cf"/>
<g transform="rotate(-40 171.8 1342.1)">
<rect x="-20.3" y="1149.9" width="384.3" height="384.3" filter="url(#txGd)"/>
<rect x="-20.3" y="1149.9" width="384.3" height="384.3" filter="url(#txG)"/>
</g>
<g fill="#f9e8f3" filter="url(#pale)">
<path d="M116.0 1260.0C117.7 1257.5 124.3 1255.7 130.0 1255.0C135.7 1254.3 144.3 1254.8 150.0 1256.0C155.7 1257.2 160.7 1259.0 164.0 1262.0C167.3 1265.0 170.0 1269.7 170.0 1274.0C170.0 1278.3 167.3 1284.2 164.0 1288.0C160.7 1291.8 154.3 1294.0 150.0 1297.0C145.7 1300.0 141.7 1303.5 138.0 1306.0C134.3 1308.5 131.0 1310.0 128.0 1312.0C125.0 1314.0 122.7 1318.0 120.0 1318.0C117.3 1318.0 112.3 1315.3 112.0 1312.0C111.7 1308.7 116.3 1302.7 118.0 1298.0C119.7 1293.3 121.7 1288.7 122.0 1284.0C122.3 1279.3 121.0 1274.0 120.0 1270.0C119.0 1266.0 114.3 1262.5 116.0 1260.0Z"/>
<path d="M90.0 1322.0C92.7 1317.3 98.7 1317.7 104.0 1316.0C109.3 1314.3 118.7 1310.3 122.0 1312.0C125.3 1313.7 124.7 1320.7 124.0 1326.0C123.3 1331.3 119.3 1337.7 118.0 1344.0C116.7 1350.3 116.0 1357.3 116.0 1364.0C116.0 1370.7 116.7 1378.3 118.0 1384.0C119.3 1389.7 124.7 1395.0 124.0 1398.0C123.3 1401.0 117.7 1403.3 114.0 1402.0C110.3 1400.7 105.3 1395.7 102.0 1390.0C98.7 1384.3 96.3 1375.7 94.0 1368.0C91.7 1360.3 88.7 1351.7 88.0 1344.0C87.3 1336.3 87.3 1326.7 90.0 1322.0Z"/>
<path d="M124.0 1392.0C128.0 1391.0 141.3 1394.7 150.0 1396.0C158.7 1397.3 167.7 1399.7 176.0 1400.0C184.3 1400.3 193.7 1399.3 200.0 1398.0C206.3 1396.7 211.3 1391.3 214.0 1392.0C216.7 1392.7 218.3 1399.0 216.0 1402.0C213.7 1405.0 207.0 1408.3 200.0 1410.0C193.0 1411.7 182.7 1412.3 174.0 1412.0C165.3 1411.7 156.0 1409.7 148.0 1408.0C140.0 1406.3 130.0 1404.7 126.0 1402.0C122.0 1399.3 120.0 1393.0 124.0 1392.0Z"/>
<path d="M212.0 1318.0C214.3 1316.7 223.0 1320.0 228.0 1322.0C233.0 1324.0 238.0 1326.3 242.0 1330.0C246.0 1333.7 249.7 1338.7 252.0 1344.0C254.3 1349.3 255.5 1355.7 256.0 1362.0C256.5 1368.3 256.0 1376.0 255.0 1382.0C254.0 1388.0 252.8 1394.0 250.0 1398.0C247.2 1402.0 242.3 1405.0 238.0 1406.0C233.7 1407.0 227.7 1406.0 224.0 1404.0C220.3 1402.0 216.3 1398.0 216.0 1394.0C215.7 1390.0 220.3 1385.3 222.0 1380.0C223.7 1374.7 226.0 1368.0 226.0 1362.0C226.0 1356.0 224.0 1349.3 222.0 1344.0C220.0 1338.7 215.7 1334.3 214.0 1330.0C212.3 1325.7 209.7 1319.3 212.0 1318.0Z"/>
</g>
<g fill="#fdf8fc" filter="url(#rough2)">
<path d="M222.0 1368.0C224.7 1366.0 230.0 1365.3 234.0 1366.0C238.0 1366.7 243.0 1369.0 246.0 1372.0C249.0 1375.0 251.3 1380.0 252.0 1384.0C252.7 1388.0 252.0 1393.0 250.0 1396.0C248.0 1399.0 243.7 1401.3 240.0 1402.0C236.3 1402.7 231.3 1402.0 228.0 1400.0C224.7 1398.0 221.7 1393.7 220.0 1390.0C218.3 1386.3 217.7 1381.7 218.0 1378.0C218.3 1374.3 219.3 1370.0 222.0 1368.0Z" opacity="0.9"/>
<path d="M240.0 1286.0C241.3 1284.5 245.5 1283.7 248.0 1284.0C250.5 1284.3 254.0 1286.2 255.0 1288.0C256.0 1289.8 255.5 1293.5 254.0 1295.0C252.5 1296.5 248.3 1297.3 246.0 1297.0C243.7 1296.7 241.0 1294.8 240.0 1293.0C239.0 1291.2 238.7 1287.5 240.0 1286.0Z"/>
<path d="M132.0 1262.0C134.7 1260.0 141.7 1259.3 146.0 1260.0C150.3 1260.7 155.7 1263.3 158.0 1266.0C160.3 1268.7 161.3 1273.0 160.0 1276.0C158.7 1279.0 153.7 1283.3 150.0 1284.0C146.3 1284.7 141.3 1282.0 138.0 1280.0C134.7 1278.0 131.0 1275.0 130.0 1272.0C129.0 1269.0 129.3 1264.0 132.0 1262.0Z" opacity="0.8"/>
<path d="M110.0 1296.0C112.3 1295.3 116.3 1296.7 118.0 1300.0C119.7 1303.3 121.0 1311.7 120.0 1316.0C119.0 1320.3 114.7 1325.7 112.0 1326.0C109.3 1326.3 105.3 1321.7 104.0 1318.0C102.7 1314.3 103.0 1307.7 104.0 1304.0C105.0 1300.3 107.7 1296.7 110.0 1296.0Z" opacity="0.7"/>
</g>
<path d="M-6.0 1260.5C-2.7 1242.8 7.7 1260.2 14.0 1260.0C20.3 1259.8 25.7 1259.3 32.0 1259.0C38.3 1258.7 45.0 1257.1 52.0 1258.0C59.0 1258.9 67.0 1262.2 74.0 1264.5C81.0 1266.8 88.7 1268.9 94.0 1272.0C99.3 1275.1 103.6 1279.2 106.0 1283.0C108.4 1286.8 109.0 1291.3 108.5 1295.0C108.0 1298.7 105.9 1302.2 103.0 1305.0C100.1 1307.8 95.3 1309.7 91.0 1312.0C86.7 1314.3 81.2 1316.2 77.0 1319.0C72.8 1321.8 68.7 1325.2 66.0 1329.0C63.3 1332.8 64.0 1338.7 61.0 1342.0C58.0 1345.3 53.2 1347.0 48.0 1349.0C42.8 1351.0 39.0 1351.2 30.0 1354.0C21.0 1356.8 0.0 1381.6 -6.0 1366.0C-12.0 1350.4 -9.3 1278.2 -6.0 1260.5Z" fill="#fefcfe" filter="url(#rough2)"/>
<path d="M2 1366 L30 1357 L60 1347 L64 1351 L36 1363 L2 1378Z" fill="#f5ddec" filter="url(#b1)"/>
<path d="M214.0 1346.0C214.0 1350.8 212.4 1356.0 209.6 1360.3C206.9 1364.6 202.4 1368.8 197.4 1371.8C192.5 1374.8 186.0 1377.1 179.8 1378.2C173.6 1379.2 166.4 1379.2 160.2 1378.2C154.0 1377.1 147.5 1374.8 142.6 1371.8C137.6 1368.8 133.1 1364.6 130.4 1360.3C127.6 1356.0 126.0 1350.8 126.0 1346.0C126.0 1341.2 127.6 1336.0 130.4 1331.7C133.1 1327.4 137.6 1323.2 142.6 1320.2C147.5 1317.2 154.0 1314.9 160.2 1313.8C166.4 1312.8 173.6 1312.8 179.8 1313.8C186.0 1314.9 192.5 1317.2 197.4 1320.2C202.4 1323.2 206.9 1327.4 209.6 1331.7C212.4 1336.0 214.0 1341.2 214.0 1346.0Z" fill="none" stroke="#d27ab4" stroke-width="14" opacity="0.55" filter="url(#b2)"/>
<path d="M133.5 1360.0C133.0 1357.2 133.2 1351.5 134.0 1348.0C134.8 1344.5 136.0 1341.8 138.0 1339.0C140.0 1336.2 143.3 1333.5 146.0 1331.0C148.7 1328.5 151.5 1325.9 154.0 1324.0C156.5 1322.1 158.7 1320.2 161.0 1319.5C163.3 1318.8 165.5 1318.4 168.0 1319.5C170.5 1320.6 173.0 1323.4 176.0 1326.0C179.0 1328.6 182.7 1332.0 186.0 1335.0C189.3 1338.0 193.0 1341.0 196.0 1344.0C199.0 1347.0 202.2 1350.2 204.0 1353.0C205.8 1355.8 207.2 1358.9 207.0 1361.0C206.8 1363.1 205.8 1364.8 203.0 1365.5C200.2 1366.2 194.8 1365.2 190.0 1365.0C185.2 1364.8 179.0 1364.1 174.0 1364.0C169.0 1363.9 164.7 1364.2 160.0 1364.5C155.3 1364.8 149.8 1365.4 146.0 1365.5C142.2 1365.6 139.1 1365.9 137.0 1365.0C134.9 1364.1 134.0 1362.8 133.5 1360.0Z" fill="#fefcfe" filter="url(#rough2)"/>
<g fill="#f0a8c2" opacity="0.85" filter="url(#b05)"><circle cx="163" cy="1329" r="1.5"/><circle cx="169" cy="1333" r="1.4"/><circle cx="175" cy="1336" r="1.5"/><circle cx="181" cy="1341" r="1.5"/><circle cx="183" cy="1350" r="1.6"/><circle cx="180" cy="1354" r="1.4"/><circle cx="186" cy="1347" r="1.3"/></g>
<g fill="#3f2f7c" filter="url(#b05)"><ellipse cx="133.9" cy="1361.1" rx="2.6" ry="1.1" transform="rotate(157 133.9 1361.1)" opacity="0.78"/><ellipse cx="132.4" cy="1355.2" rx="2.4" ry="1.0" transform="rotate(167 132.4 1355.2)" opacity="0.78"/><ellipse cx="133.0" cy="1350.4" rx="1.6" ry="0.9" transform="rotate(175 133.0 1350.4)" opacity="0.85"/><ellipse cx="134.9" cy="1344.6" rx="1.8" ry="1.1" transform="rotate(-175 134.9 1344.6)" opacity="0.77"/><ellipse cx="135.1" cy="1341.5" rx="2.4" ry="1.0" transform="rotate(-170 135.1 1341.5)" opacity="0.95"/><ellipse cx="139.3" cy="1336.0" rx="2.6" ry="1.1" transform="rotate(-159 139.3 1336.0)" opacity="0.92"/><ellipse cx="143.9" cy="1332.7" rx="2.3" ry="1.0" transform="rotate(-148 143.9 1332.7)" opacity="0.91"/><ellipse cx="145.5" cy="1330.1" rx="2.2" ry="1.1" transform="rotate(-143 145.5 1330.1)" opacity="0.85"/><ellipse cx="149.2" cy="1327.3" rx="2.4" ry="1.1" transform="rotate(-132 149.2 1327.3)" opacity="0.97"/><ellipse cx="154.3" cy="1321.9" rx="2.5" ry="0.7" transform="rotate(-118 154.3 1321.9)" opacity="0.98"/><ellipse cx="157.7" cy="1319.4" rx="2.3" ry="0.7" transform="rotate(-109 157.7 1319.4)" opacity="0.83"/><ellipse cx="160.6" cy="1317.9" rx="2.2" ry="0.7" transform="rotate(-102 160.6 1317.9)" opacity="0.96"/><ellipse cx="167.4" cy="1318.6" rx="1.6" ry="0.8" transform="rotate(-89 167.4 1318.6)" opacity="0.85"/><ellipse cx="172.7" cy="1321.0" rx="2.6" ry="0.8" transform="rotate(-79 172.7 1321.0)" opacity="0.76"/><ellipse cx="175.0" cy="1324.2" rx="1.7" ry="0.9" transform="rotate(-70 175.0 1324.2)" opacity="0.80"/><ellipse cx="179.0" cy="1327.3" rx="2.2" ry="0.9" transform="rotate(-59 179.0 1327.3)" opacity="0.86"/><ellipse cx="182.6" cy="1329.8" rx="2.0" ry="0.9" transform="rotate(-47 182.6 1329.8)" opacity="0.75"/><ellipse cx="186.7" cy="1334.0" rx="2.2" ry="0.8" transform="rotate(-34 186.7 1334.0)" opacity="0.95"/><ellipse cx="190.7" cy="1336.9" rx="1.8" ry="0.8" transform="rotate(-24 190.7 1336.9)" opacity="0.98"/><ellipse cx="195.6" cy="1342.5" rx="2.0" ry="1.0" transform="rotate(-11 195.6 1342.5)" opacity="0.71"/><ellipse cx="198.2" cy="1345.3" rx="2.2" ry="0.9" transform="rotate(-3 198.2 1345.3)" opacity="0.87"/><ellipse cx="200.7" cy="1348.9" rx="1.5" ry="0.7" transform="rotate(2 200.7 1348.9)" opacity="0.89"/><ellipse cx="203.3" cy="1351.1" rx="1.5" ry="0.9" transform="rotate(7 203.3 1351.1)" opacity="0.99"/><ellipse cx="206.1" cy="1358.7" rx="2.5" ry="1.0" transform="rotate(15 206.1 1358.7)" opacity="0.75"/><ellipse cx="207.5" cy="1361.4" rx="2.3" ry="0.8" transform="rotate(19 207.5 1361.4)" opacity="0.99"/><ellipse cx="204.6" cy="1365.7" rx="2.4" ry="0.9" transform="rotate(27 204.6 1365.7)" opacity="0.93"/><ellipse cx="198.2" cy="1365.2" rx="1.8" ry="1.1" transform="rotate(31 198.2 1365.2)" opacity="0.80"/><ellipse cx="195.7" cy="1365.9" rx="2.0" ry="1.0" transform="rotate(33 195.7 1365.9)" opacity="0.84"/><ellipse cx="188.9" cy="1366.1" rx="2.0" ry="0.9" transform="rotate(40 188.9 1366.1)" opacity="0.74"/><ellipse cx="183.6" cy="1365.9" rx="2.1" ry="0.7" transform="rotate(47 183.6 1365.9)" opacity="0.99"/><ellipse cx="178.9" cy="1364.8" rx="2.5" ry="0.9" transform="rotate(56 178.9 1364.8)" opacity="0.87"/><ellipse cx="174.7" cy="1364.5" rx="1.8" ry="0.8" transform="rotate(66 174.7 1364.5)" opacity="0.82"/><ellipse cx="170.8" cy="1364.6" rx="2.2" ry="0.8" transform="rotate(81 170.8 1364.6)" opacity="0.89"/><ellipse cx="164.6" cy="1365.9" rx="1.6" ry="1.0" transform="rotate(97 164.6 1365.9)" opacity="0.80"/><ellipse cx="161.0" cy="1365.9" rx="2.6" ry="0.8" transform="rotate(110 161.0 1365.9)" opacity="0.73"/><ellipse cx="152.9" cy="1366.1" rx="2.1" ry="1.1" transform="rotate(127 152.9 1366.1)" opacity="0.88"/><ellipse cx="148.1" cy="1366.6" rx="2.0" ry="1.0" transform="rotate(135 148.1 1366.6)" opacity="0.89"/><ellipse cx="145.5" cy="1366.4" rx="1.7" ry="0.8" transform="rotate(139 145.5 1366.4)" opacity="0.79"/><ellipse cx="140.4" cy="1366.6" rx="2.2" ry="1.0" transform="rotate(146 140.4 1366.6)" opacity="0.98"/><ellipse cx="134.7" cy="1362.9" rx="1.9" ry="0.8" transform="rotate(153 134.7 1362.9)" opacity="0.88"/></g>
<g fill="#70499f" filter="url(#b05)"><ellipse cx="122.3" cy="1365.0" rx="2.4" ry="1.3" transform="rotate(248 122.3 1365.0)" opacity="0.85"/><ellipse cx="121.8" cy="1350.2" rx="2.8" ry="1.1" transform="rotate(266 121.8 1350.2)" opacity="0.63"/><ellipse cx="129.9" cy="1340.7" rx="2.4" ry="1.4" transform="rotate(-79 129.9 1340.7)" opacity="0.86"/><ellipse cx="127.8" cy="1334.4" rx="3.1" ry="1.6" transform="rotate(-70 127.8 1334.4)" opacity="0.59"/><ellipse cx="141.0" cy="1323.0" rx="2.0" ry="1.3" transform="rotate(-50 141.0 1323.0)" opacity="0.74"/><ellipse cx="149.8" cy="1316.3" rx="2.4" ry="1.2" transform="rotate(-31 149.8 1316.3)" opacity="0.89"/><ellipse cx="156.2" cy="1309.8" rx="2.4" ry="1.2" transform="rotate(-15 156.2 1309.8)" opacity="0.86"/><ellipse cx="172.0" cy="1311.0" rx="2.8" ry="1.5" transform="rotate(4 172.0 1311.0)" opacity="0.67"/><ellipse cx="178.2" cy="1313.1" rx="1.8" ry="1.0" transform="rotate(20 178.2 1313.1)" opacity="0.55"/><ellipse cx="194.9" cy="1327.0" rx="1.9" ry="1.0" transform="rotate(54 194.9 1327.0)" opacity="0.67"/><ellipse cx="201.9" cy="1334.5" rx="2.6" ry="1.4" transform="rotate(70 201.9 1334.5)" opacity="0.58"/><ellipse cx="204.1" cy="1341.9" rx="2.7" ry="1.3" transform="rotate(83 204.1 1341.9)" opacity="0.85"/><ellipse cx="211.3" cy="1352.3" rx="3.1" ry="1.0" transform="rotate(98 211.3 1352.3)" opacity="0.66"/><ellipse cx="213.9" cy="1363.9" rx="3.1" ry="1.2" transform="rotate(107 213.9 1363.9)" opacity="0.65"/><ellipse cx="213.1" cy="1367.0" rx="2.5" ry="1.1" transform="rotate(117 213.1 1367.0)" opacity="0.78"/><ellipse cx="200.9" cy="1372.1" rx="2.0" ry="1.6" transform="rotate(126 200.9 1372.1)" opacity="0.85"/><ellipse cx="192.9" cy="1371.9" rx="3.1" ry="1.4" transform="rotate(134 192.9 1371.9)" opacity="0.70"/><ellipse cx="180.5" cy="1373.0" rx="1.8" ry="1.2" transform="rotate(151 180.5 1373.0)" opacity="0.64"/><ellipse cx="165.3" cy="1371.8" rx="2.2" ry="1.5" transform="rotate(186 165.3 1371.8)" opacity="0.52"/><ellipse cx="151.1" cy="1372.1" rx="3.2" ry="1.3" transform="rotate(208 151.1 1372.1)" opacity="0.86"/><ellipse cx="144.8" cy="1372.7" rx="2.1" ry="1.5" transform="rotate(223 144.8 1372.7)" opacity="0.56"/><ellipse cx="131.5" cy="1368.0" rx="2.6" ry="1.2" transform="rotate(238 131.5 1368.0)" opacity="0.87"/></g>
<g fill="#f9e6f2" filter="url(#b05)"><ellipse cx="311.2" cy="1304.9" rx="5.3" ry="1.3" transform="rotate(-12 311.2 1304.9)" opacity="0.65"/><ellipse cx="235.5" cy="1361.3" rx="4.9" ry="1.7" transform="rotate(-8 235.5 1361.3)" opacity="0.44"/><ellipse cx="160.6" cy="1269.8" rx="8.6" ry="1.0" transform="rotate(-78 160.6 1269.8)" opacity="0.80"/><ellipse cx="226.3" cy="1328.0" rx="6.3" ry="1.1" transform="rotate(-49 226.3 1328.0)" opacity="0.56"/><ellipse cx="233.6" cy="1369.3" rx="5.0" ry="1.3" transform="rotate(-83 233.6 1369.3)" opacity="0.78"/><ellipse cx="44.7" cy="1400.4" rx="6.3" ry="0.9" transform="rotate(-30 44.7 1400.4)" opacity="0.51"/><ellipse cx="262.4" cy="1367.5" rx="6.4" ry="1.2" transform="rotate(-81 262.4 1367.5)" opacity="0.76"/><ellipse cx="69.0" cy="1375.4" rx="8.8" ry="1.2" transform="rotate(-21 69.0 1375.4)" opacity="0.64"/><ellipse cx="311.5" cy="1424.1" rx="4.2" ry="1.3" transform="rotate(-39 311.5 1424.1)" opacity="0.68"/><ellipse cx="272.5" cy="1282.6" rx="7.1" ry="1.1" transform="rotate(-30 272.5 1282.6)" opacity="0.50"/><ellipse cx="330.7" cy="1314.6" rx="4.4" ry="0.8" transform="rotate(-52 330.7 1314.6)" opacity="0.63"/><ellipse cx="230.8" cy="1300.2" rx="7.8" ry="1.2" transform="rotate(-61 230.8 1300.2)" opacity="0.57"/><ellipse cx="106.2" cy="1353.6" rx="4.4" ry="1.3" transform="rotate(-6 106.2 1353.6)" opacity="0.50"/><ellipse cx="203.7" cy="1374.8" rx="4.0" ry="1.0" transform="rotate(-81 203.7 1374.8)" opacity="0.45"/><ellipse cx="273.3" cy="1339.1" rx="7.6" ry="1.3" transform="rotate(-24 273.3 1339.1)" opacity="0.83"/><ellipse cx="175.8" cy="1307.9" rx="4.8" ry="1.2" transform="rotate(-22 175.8 1307.9)" opacity="0.70"/><ellipse cx="193.2" cy="1283.8" rx="8.7" ry="1.5" transform="rotate(-75 193.2 1283.8)" opacity="0.81"/><ellipse cx="233.5" cy="1390.9" rx="4.3" ry="1.7" transform="rotate(-21 233.5 1390.9)" opacity="0.47"/><ellipse cx="100.9" cy="1339.7" rx="5.8" ry="1.0" transform="rotate(-58 100.9 1339.7)" opacity="0.57"/><ellipse cx="222.9" cy="1432.1" rx="6.3" ry="0.9" transform="rotate(-71 222.9 1432.1)" opacity="0.74"/><ellipse cx="263.4" cy="1319.9" rx="4.8" ry="1.2" transform="rotate(-14 263.4 1319.9)" opacity="0.70"/><ellipse cx="306.2" cy="1334.7" rx="8.8" ry="1.1" transform="rotate(-86 306.2 1334.7)" opacity="0.57"/><ellipse cx="218.6" cy="1313.8" rx="4.8" ry="1.1" transform="rotate(-33 218.6 1313.8)" opacity="0.59"/><ellipse cx="240.1" cy="1293.6" rx="5.3" ry="1.0" transform="rotate(-32 240.1 1293.6)" opacity="0.50"/><ellipse cx="147.7" cy="1427.2" rx="4.1" ry="1.4" transform="rotate(-32 147.7 1427.2)" opacity="0.69"/><ellipse cx="64.9" cy="1378.5" rx="8.9" ry="1.5" transform="rotate(-57 64.9 1378.5)" opacity="0.50"/><ellipse cx="41.0" cy="1392.4" rx="5.4" ry="0.9" transform="rotate(-44 41.0 1392.4)" opacity="0.85"/><ellipse cx="325.4" cy="1283.7" rx="5.2" ry="1.6" transform="rotate(-40 325.4 1283.7)" opacity="0.69"/><ellipse cx="284.3" cy="1399.1" rx="6.6" ry="1.2" transform="rotate(-9 284.3 1399.1)" opacity="0.66"/><ellipse cx="25.1" cy="1403.1" rx="3.2" ry="1.0" transform="rotate(-65 25.1 1403.1)" opacity="0.78"/><ellipse cx="95.2" cy="1346.7" rx="3.8" ry="1.2" transform="rotate(-40 95.2 1346.7)" opacity="0.74"/><ellipse cx="232.3" cy="1362.0" rx="5.5" ry="1.3" transform="rotate(-30 232.3 1362.0)" opacity="0.84"/><ellipse cx="171.1" cy="1400.2" rx="7.5" ry="1.2" transform="rotate(-19 171.1 1400.2)" opacity="0.61"/><ellipse cx="255.2" cy="1298.3" rx="6.1" ry="1.4" transform="rotate(-42 255.2 1298.3)" opacity="0.81"/><ellipse cx="219.3" cy="1397.2" rx="4.2" ry="0.9" transform="rotate(-16 219.3 1397.2)" opacity="0.64"/><ellipse cx="286.7" cy="1367.3" rx="6.7" ry="1.5" transform="rotate(-18 286.7 1367.3)" opacity="0.43"/><ellipse cx="258.2" cy="1260.1" rx="6.0" ry="1.8" transform="rotate(-91 258.2 1260.1)" opacity="0.84"/><ellipse cx="18.8" cy="1430.7" rx="3.2" ry="1.0" transform="rotate(-76 18.8 1430.7)" opacity="0.85"/><ellipse cx="75.4" cy="1420.7" rx="5.6" ry="1.0" transform="rotate(-21 75.4 1420.7)" opacity="0.51"/><ellipse cx="321.3" cy="1321.8" rx="4.1" ry="0.9" transform="rotate(-33 321.3 1321.8)" opacity="0.61"/><ellipse cx="174.1" cy="1298.4" rx="3.6" ry="1.7" transform="rotate(-54 174.1 1298.4)" opacity="0.59"/><ellipse cx="86.8" cy="1388.3" rx="8.9" ry="1.5" transform="rotate(-45 86.8 1388.3)" opacity="0.84"/><ellipse cx="222.1" cy="1318.1" rx="4.6" ry="0.9" transform="rotate(-87 222.1 1318.1)" opacity="0.55"/><ellipse cx="236.1" cy="1311.5" rx="8.9" ry="1.3" transform="rotate(-79 236.1 1311.5)" opacity="0.76"/><ellipse cx="80.8" cy="1315.3" rx="6.2" ry="0.9" transform="rotate(-9 80.8 1315.3)" opacity="0.71"/><ellipse cx="263.5" cy="1287.9" rx="7.4" ry="1.1" transform="rotate(-82 263.5 1287.9)" opacity="0.79"/><ellipse cx="277.1" cy="1291.6" rx="6.0" ry="0.9" transform="rotate(-91 277.1 1291.6)" opacity="0.66"/><ellipse cx="242.8" cy="1319.4" rx="3.8" ry="1.7" transform="rotate(-64 242.8 1319.4)" opacity="0.78"/><ellipse cx="243.6" cy="1361.3" rx="3.2" ry="1.0" transform="rotate(-17 243.6 1361.3)" opacity="0.67"/><ellipse cx="110.3" cy="1348.0" rx="8.0" ry="1.7" transform="rotate(-32 110.3 1348.0)" opacity="0.84"/><ellipse cx="244.1" cy="1255.2" rx="8.4" ry="1.0" transform="rotate(-26 244.1 1255.2)" opacity="0.80"/><ellipse cx="291.6" cy="1330.6" rx="5.8" ry="1.2" transform="rotate(-92 291.6 1330.6)" opacity="0.46"/><ellipse cx="308.0" cy="1399.4" rx="5.5" ry="1.6" transform="rotate(-34 308.0 1399.4)" opacity="0.51"/><ellipse cx="178.2" cy="1256.5" rx="4.6" ry="1.1" transform="rotate(-22 178.2 1256.5)" opacity="0.78"/><ellipse cx="252.6" cy="1348.2" rx="6.2" ry="1.0" transform="rotate(-73 252.6 1348.2)" opacity="0.80"/><ellipse cx="97.2" cy="1408.8" rx="5.1" ry="1.5" transform="rotate(-58 97.2 1408.8)" opacity="0.47"/><ellipse cx="331.7" cy="1330.6" rx="7.2" ry="0.8" transform="rotate(-92 331.7 1330.6)" opacity="0.49"/><ellipse cx="274.3" cy="1403.2" rx="4.7" ry="0.8" transform="rotate(-35 274.3 1403.2)" opacity="0.50"/><ellipse cx="222.4" cy="1359.2" rx="4.6" ry="1.4" transform="rotate(-85 222.4 1359.2)" opacity="0.76"/><ellipse cx="118.5" cy="1277.3" rx="7.2" ry="1.5" transform="rotate(-83 118.5 1277.3)" opacity="0.81"/></g>
<g fill="#70499f" filter="url(#b05)"><ellipse cx="287.5" cy="1337.0" rx="2.7" ry="1.8" transform="rotate(-88 287.5 1337.0)" opacity="0.94"/><ellipse cx="145.2" cy="1303.1" rx="2.9" ry="1.1" transform="rotate(-4 145.2 1303.1)" opacity="0.87"/><ellipse cx="52.3" cy="1396.9" rx="3.4" ry="1.5" transform="rotate(-27 52.3 1396.9)" opacity="0.60"/><ellipse cx="133.8" cy="1369.8" rx="2.3" ry="1.8" transform="rotate(-47 133.8 1369.8)" opacity="0.57"/><ellipse cx="159.7" cy="1401.9" rx="2.4" ry="1.5" transform="rotate(-53 159.7 1401.9)" opacity="0.79"/><ellipse cx="214.6" cy="1386.9" rx="2.9" ry="1.4" transform="rotate(-77 214.6 1386.9)" opacity="0.64"/><ellipse cx="40.5" cy="1416.8" rx="3.0" ry="1.5" transform="rotate(-4 40.5 1416.8)" opacity="0.73"/><ellipse cx="223.5" cy="1305.5" rx="2.2" ry="1.6" transform="rotate(-21 223.5 1305.5)" opacity="0.74"/><ellipse cx="224.9" cy="1276.9" rx="2.3" ry="1.6" transform="rotate(-56 224.9 1276.9)" opacity="0.76"/><ellipse cx="299.5" cy="1363.3" rx="2.2" ry="1.6" transform="rotate(-96 299.5 1363.3)" opacity="0.87"/><ellipse cx="241.2" cy="1258.6" rx="2.5" ry="1.6" transform="rotate(-65 241.2 1258.6)" opacity="0.75"/><ellipse cx="306.1" cy="1371.0" rx="3.4" ry="1.4" transform="rotate(-92 306.1 1371.0)" opacity="0.74"/><ellipse cx="20.4" cy="1411.6" rx="3.0" ry="1.2" transform="rotate(-35 20.4 1411.6)" opacity="0.75"/><ellipse cx="108.5" cy="1412.4" rx="2.3" ry="1.4" transform="rotate(-11 108.5 1412.4)" opacity="0.92"/><ellipse cx="287.4" cy="1266.0" rx="2.6" ry="1.6" transform="rotate(-18 287.4 1266.0)" opacity="0.57"/><ellipse cx="328.0" cy="1409.0" rx="2.7" ry="1.7" transform="rotate(-89 328.0 1409.0)" opacity="0.73"/><ellipse cx="304.6" cy="1390.4" rx="3.5" ry="1.4" transform="rotate(-68 304.6 1390.4)" opacity="0.89"/><ellipse cx="297.8" cy="1425.2" rx="3.4" ry="1.3" transform="rotate(-2 297.8 1425.2)" opacity="0.90"/><ellipse cx="183.8" cy="1405.4" rx="3.4" ry="1.7" transform="rotate(-63 183.8 1405.4)" opacity="0.82"/><ellipse cx="215.9" cy="1421.6" rx="2.5" ry="1.1" transform="rotate(-91 215.9 1421.6)" opacity="0.75"/><ellipse cx="82.7" cy="1352.4" rx="2.9" ry="1.5" transform="rotate(-6 82.7 1352.4)" opacity="0.75"/><ellipse cx="298.9" cy="1422.7" rx="3.1" ry="1.3" transform="rotate(-68 298.9 1422.7)" opacity="0.62"/><ellipse cx="111.5" cy="1428.1" rx="2.3" ry="1.7" transform="rotate(-1 111.5 1428.1)" opacity="0.78"/><ellipse cx="81.0" cy="1345.7" rx="2.3" ry="1.3" transform="rotate(-20 81.0 1345.7)" opacity="0.62"/><ellipse cx="25.7" cy="1376.2" rx="3.1" ry="1.9" transform="rotate(-18 25.7 1376.2)" opacity="0.69"/><ellipse cx="57.8" cy="1417.7" rx="2.8" ry="1.7" transform="rotate(-35 57.8 1417.7)" opacity="0.76"/><ellipse cx="224.8" cy="1283.4" rx="3.4" ry="1.5" transform="rotate(-44 224.8 1283.4)" opacity="0.65"/><ellipse cx="293.4" cy="1384.9" rx="2.1" ry="1.6" transform="rotate(-49 293.4 1384.9)" opacity="0.79"/><ellipse cx="202.0" cy="1252.0" rx="3.0" ry="1.1" transform="rotate(-96 202.0 1252.0)" opacity="0.76"/><ellipse cx="278.4" cy="1337.4" rx="3.5" ry="1.8" transform="rotate(-96 278.4 1337.4)" opacity="0.67"/><ellipse cx="164.5" cy="1392.6" rx="2.2" ry="1.6" transform="rotate(-37 164.5 1392.6)" opacity="0.58"/><ellipse cx="259.2" cy="1352.3" rx="2.6" ry="1.1" transform="rotate(-58 259.2 1352.3)" opacity="0.68"/><ellipse cx="88.5" cy="1374.3" rx="2.1" ry="1.8" transform="rotate(-60 88.5 1374.3)" opacity="0.93"/><ellipse cx="329.0" cy="1258.5" rx="2.8" ry="1.2" transform="rotate(-82 329.0 1258.5)" opacity="0.60"/><ellipse cx="185.8" cy="1279.6" rx="2.0" ry="1.4" transform="rotate(-8 185.8 1279.6)" opacity="0.85"/><ellipse cx="220.7" cy="1331.7" rx="2.1" ry="1.2" transform="rotate(-87 220.7 1331.7)" opacity="0.75"/><ellipse cx="212.1" cy="1255.0" rx="3.2" ry="1.8" transform="rotate(-1 212.1 1255.0)" opacity="0.86"/><ellipse cx="244.6" cy="1270.6" rx="3.1" ry="1.5" transform="rotate(-19 244.6 1270.6)" opacity="0.59"/><ellipse cx="249.9" cy="1349.8" rx="3.5" ry="1.5" transform="rotate(-47 249.9 1349.8)" opacity="0.79"/><ellipse cx="221.1" cy="1289.6" rx="2.2" ry="1.5" transform="rotate(-78 221.1 1289.6)" opacity="0.84"/><ellipse cx="129.8" cy="1288.4" rx="3.2" ry="1.7" transform="rotate(-22 129.8 1288.4)" opacity="0.63"/><ellipse cx="25.1" cy="1369.4" rx="2.9" ry="1.4" transform="rotate(-10 25.1 1369.4)" opacity="0.56"/><ellipse cx="323.1" cy="1409.7" rx="2.1" ry="1.2" transform="rotate(-86 323.1 1409.7)" opacity="0.56"/><ellipse cx="256.0" cy="1301.6" rx="2.7" ry="1.5" transform="rotate(-83 256.0 1301.6)" opacity="0.56"/><ellipse cx="167.3" cy="1254.5" rx="2.4" ry="1.2" transform="rotate(-84 167.3 1254.5)" opacity="0.90"/><ellipse cx="210.3" cy="1396.6" rx="3.2" ry="1.6" transform="rotate(-27 210.3 1396.6)" opacity="0.89"/><ellipse cx="276.7" cy="1301.0" rx="3.1" ry="1.8" transform="rotate(-69 276.7 1301.0)" opacity="0.63"/><ellipse cx="197.1" cy="1408.2" rx="2.8" ry="1.3" transform="rotate(-9 197.1 1408.2)" opacity="0.71"/><ellipse cx="241.8" cy="1294.3" rx="3.3" ry="1.4" transform="rotate(-16 241.8 1294.3)" opacity="0.57"/><ellipse cx="156.5" cy="1251.7" rx="2.2" ry="1.6" transform="rotate(-41 156.5 1251.7)" opacity="0.71"/><ellipse cx="290.2" cy="1256.5" rx="2.3" ry="1.7" transform="rotate(-88 290.2 1256.5)" opacity="0.67"/><ellipse cx="163.2" cy="1380.9" rx="2.9" ry="1.7" transform="rotate(-66 163.2 1380.9)" opacity="0.69"/><ellipse cx="187.2" cy="1275.8" rx="3.5" ry="1.8" transform="rotate(-11 187.2 1275.8)" opacity="0.89"/><ellipse cx="169.3" cy="1277.0" rx="3.2" ry="1.5" transform="rotate(-92 169.3 1277.0)" opacity="0.92"/><ellipse cx="256.2" cy="1266.4" rx="3.2" ry="1.4" transform="rotate(-42 256.2 1266.4)" opacity="0.70"/><ellipse cx="48.6" cy="1353.9" rx="2.9" ry="1.7" transform="rotate(-5 48.6 1353.9)" opacity="0.74"/><ellipse cx="224.4" cy="1383.4" rx="3.3" ry="1.1" transform="rotate(-77 224.4 1383.4)" opacity="0.74"/><ellipse cx="121.8" cy="1416.5" rx="2.0" ry="1.4" transform="rotate(-78 121.8 1416.5)" opacity="0.59"/><ellipse cx="176.8" cy="1268.4" rx="3.5" ry="1.2" transform="rotate(-84 176.8 1268.4)" opacity="0.91"/><ellipse cx="275.0" cy="1353.6" rx="2.3" ry="1.3" transform="rotate(-87 275.0 1353.6)" opacity="0.88"/><ellipse cx="142.7" cy="1318.3" rx="3.4" ry="1.8" transform="rotate(-16 142.7 1318.3)" opacity="0.92"/><ellipse cx="124.5" cy="1401.5" rx="3.5" ry="1.5" transform="rotate(-14 124.5 1401.5)" opacity="0.76"/><ellipse cx="258.7" cy="1273.4" rx="2.3" ry="1.1" transform="rotate(-71 258.7 1273.4)" opacity="0.72"/><ellipse cx="146.0" cy="1262.6" rx="3.3" ry="1.8" transform="rotate(-8 146.0 1262.6)" opacity="0.80"/><ellipse cx="250.5" cy="1384.4" rx="3.5" ry="1.5" transform="rotate(-53 250.5 1384.4)" opacity="0.92"/><ellipse cx="304.7" cy="1345.6" rx="3.3" ry="1.7" transform="rotate(-99 304.7 1345.6)" opacity="0.68"/><ellipse cx="71.9" cy="1394.1" rx="3.0" ry="1.6" transform="rotate(-45 71.9 1394.1)" opacity="0.93"/><ellipse cx="91.2" cy="1431.6" rx="3.3" ry="1.3" transform="rotate(-2 91.2 1431.6)" opacity="0.63"/><ellipse cx="249.4" cy="1400.9" rx="3.5" ry="1.2" transform="rotate(-54 249.4 1400.9)" opacity="0.81"/><ellipse cx="81.5" cy="1432.2" rx="2.4" ry="1.5" transform="rotate(-90 81.5 1432.2)" opacity="0.86"/><ellipse cx="243.2" cy="1260.6" rx="2.9" ry="1.1" transform="rotate(-62 243.2 1260.6)" opacity="0.73"/><ellipse cx="122.4" cy="1283.3" rx="2.4" ry="1.5" transform="rotate(-70 122.4 1283.3)" opacity="0.69"/><ellipse cx="81.9" cy="1357.9" rx="2.4" ry="1.4" transform="rotate(-85 81.9 1357.9)" opacity="0.93"/><ellipse cx="250.8" cy="1302.1" rx="3.5" ry="1.6" transform="rotate(-3 250.8 1302.1)" opacity="0.87"/><ellipse cx="325.3" cy="1293.7" rx="2.7" ry="1.8" transform="rotate(-25 325.3 1293.7)" opacity="0.68"/><ellipse cx="303.4" cy="1288.0" rx="2.5" ry="1.4" transform="rotate(-53 303.4 1288.0)" opacity="0.67"/><ellipse cx="155.8" cy="1302.7" rx="2.5" ry="1.6" transform="rotate(-84 155.8 1302.7)" opacity="0.80"/><ellipse cx="319.5" cy="1314.4" rx="2.1" ry="1.8" transform="rotate(-67 319.5 1314.4)" opacity="0.71"/><ellipse cx="172.3" cy="1420.7" rx="3.0" ry="1.8" transform="rotate(-23 172.3 1420.7)" opacity="0.75"/><ellipse cx="312.2" cy="1274.7" rx="2.5" ry="1.7" transform="rotate(-38 312.2 1274.7)" opacity="0.85"/><ellipse cx="270.1" cy="1323.0" rx="2.6" ry="1.5" transform="rotate(-58 270.1 1323.0)" opacity="0.75"/><ellipse cx="121.5" cy="1375.3" rx="3.1" ry="1.4" transform="rotate(-13 121.5 1375.3)" opacity="0.95"/><ellipse cx="250.3" cy="1351.1" rx="3.0" ry="1.4" transform="rotate(-30 250.3 1351.1)" opacity="0.73"/><ellipse cx="302.4" cy="1257.5" rx="2.3" ry="1.6" transform="rotate(-97 302.4 1257.5)" opacity="0.73"/><ellipse cx="17.4" cy="1388.8" rx="2.8" ry="1.4" transform="rotate(-64 17.4 1388.8)" opacity="0.74"/><ellipse cx="171.0" cy="1305.5" rx="2.9" ry="1.2" transform="rotate(-66 171.0 1305.5)" opacity="0.93"/><ellipse cx="193.3" cy="1251.0" rx="3.4" ry="1.3" transform="rotate(-53 193.3 1251.0)" opacity="0.93"/><ellipse cx="178.1" cy="1254.2" rx="2.7" ry="1.6" transform="rotate(-57 178.1 1254.2)" opacity="0.93"/><ellipse cx="209.0" cy="1429.6" rx="2.5" ry="1.2" transform="rotate(-81 209.0 1429.6)" opacity="0.89"/><ellipse cx="49.5" cy="1349.9" rx="2.5" ry="1.5" transform="rotate(-73 49.5 1349.9)" opacity="0.74"/><ellipse cx="171.5" cy="1400.0" rx="2.3" ry="1.4" transform="rotate(-19 171.5 1400.0)" opacity="0.76"/><ellipse cx="81.9" cy="1407.7" rx="3.3" ry="1.2" transform="rotate(-37 81.9 1407.7)" opacity="0.69"/><ellipse cx="141.2" cy="1378.1" rx="2.4" ry="1.1" transform="rotate(-16 141.2 1378.1)" opacity="0.80"/><ellipse cx="13.1" cy="1395.4" rx="2.9" ry="1.5" transform="rotate(-30 13.1 1395.4)" opacity="0.57"/><ellipse cx="246.6" cy="1405.8" rx="3.0" ry="1.4" transform="rotate(-86 246.6 1405.8)" opacity="0.95"/><ellipse cx="234.8" cy="1282.4" rx="2.5" ry="1.4" transform="rotate(-13 234.8 1282.4)" opacity="0.76"/><ellipse cx="199.3" cy="1258.6" rx="2.8" ry="1.2" transform="rotate(-25 199.3 1258.6)" opacity="0.88"/><ellipse cx="177.9" cy="1384.3" rx="2.6" ry="1.3" transform="rotate(-62 177.9 1384.3)" opacity="0.90"/><ellipse cx="88.0" cy="1338.1" rx="2.2" ry="1.4" transform="rotate(-25 88.0 1338.1)" opacity="0.78"/><ellipse cx="137.5" cy="1310.2" rx="3.5" ry="1.3" transform="rotate(-53 137.5 1310.2)" opacity="0.83"/><ellipse cx="191.8" cy="1379.6" rx="3.0" ry="1.2" transform="rotate(-38 191.8 1379.6)" opacity="0.56"/><ellipse cx="217.7" cy="1343.1" rx="2.6" ry="1.4" transform="rotate(-63 217.7 1343.1)" opacity="0.83"/><ellipse cx="324.6" cy="1338.7" rx="3.4" ry="1.4" transform="rotate(-69 324.6 1338.7)" opacity="0.73"/><ellipse cx="259.0" cy="1359.9" rx="2.0" ry="1.4" transform="rotate(-60 259.0 1359.9)" opacity="0.89"/><ellipse cx="213.9" cy="1274.3" rx="3.2" ry="1.9" transform="rotate(-32 213.9 1274.3)" opacity="0.91"/><ellipse cx="295.9" cy="1408.2" rx="2.7" ry="1.8" transform="rotate(-39 295.9 1408.2)" opacity="0.59"/><ellipse cx="72.0" cy="1426.2" rx="3.1" ry="1.4" transform="rotate(-77 72.0 1426.2)" opacity="0.69"/><ellipse cx="62.5" cy="1381.9" rx="2.1" ry="1.7" transform="rotate(-83 62.5 1381.9)" opacity="0.62"/><ellipse cx="308.4" cy="1324.0" rx="3.4" ry="1.4" transform="rotate(-2 308.4 1324.0)" opacity="0.91"/><ellipse cx="70.3" cy="1380.7" rx="2.4" ry="1.8" transform="rotate(-95 70.3 1380.7)" opacity="0.74"/><ellipse cx="290.9" cy="1280.1" rx="2.5" ry="1.7" transform="rotate(-5 290.9 1280.1)" opacity="0.69"/><ellipse cx="268.7" cy="1328.9" rx="3.5" ry="1.6" transform="rotate(-27 268.7 1328.9)" opacity="0.81"/><ellipse cx="120.4" cy="1272.4" rx="2.7" ry="1.3" transform="rotate(-22 120.4 1272.4)" opacity="0.74"/><ellipse cx="226.6" cy="1373.7" rx="2.2" ry="1.2" transform="rotate(-88 226.6 1373.7)" opacity="0.93"/><ellipse cx="149.3" cy="1275.3" rx="2.5" ry="1.4" transform="rotate(-59 149.3 1275.3)" opacity="0.83"/><ellipse cx="129.9" cy="1405.1" rx="2.0" ry="1.7" transform="rotate(-97 129.9 1405.1)" opacity="0.92"/><ellipse cx="147.8" cy="1267.9" rx="2.7" ry="1.4" transform="rotate(-7 147.8 1267.9)" opacity="0.70"/><ellipse cx="107.6" cy="1353.2" rx="2.1" ry="1.3" transform="rotate(-73 107.6 1353.2)" opacity="0.67"/><ellipse cx="124.8" cy="1388.6" rx="2.5" ry="1.7" transform="rotate(-33 124.8 1388.6)" opacity="0.65"/><ellipse cx="333.1" cy="1277.0" rx="2.2" ry="1.6" transform="rotate(-27 333.1 1277.0)" opacity="0.67"/><ellipse cx="258.6" cy="1294.9" rx="2.0" ry="1.8" transform="rotate(-66 258.6 1294.9)" opacity="0.83"/><ellipse cx="262.4" cy="1270.9" rx="2.3" ry="1.3" transform="rotate(-8 262.4 1270.9)" opacity="0.58"/><ellipse cx="138.7" cy="1279.2" rx="3.4" ry="1.8" transform="rotate(-2 138.7 1279.2)" opacity="0.67"/><ellipse cx="286.5" cy="1346.2" rx="3.2" ry="1.2" transform="rotate(-27 286.5 1346.2)" opacity="0.57"/><ellipse cx="325.1" cy="1296.7" rx="2.5" ry="1.5" transform="rotate(-41 325.1 1296.7)" opacity="0.95"/></g>
</g>
<clipPath id="cpH"><rect x="347.5" y="1252.0" width="328.0" height="186.0"/></clipPath>
<g clip-path="url(#cpH)">
<rect x="347.5" y="1252.0" width="328.0" height="186.0" fill="#dfabd7"/>
<g transform="rotate(18 511.5 1345.0)">
<rect x="319.0" y="1152.5" width="385.1" height="385.1" filter="url(#txHd)"/>
<rect x="319.0" y="1152.5" width="385.1" height="385.1" filter="url(#txH)"/>
</g>
<g fill="#f6e7f4" filter="url(#pale)">
<path d="M432.0 1356.0C435.3 1356.3 443.7 1362.7 450.0 1366.0C456.3 1369.3 463.0 1373.0 470.0 1376.0C477.0 1379.0 484.3 1382.0 492.0 1384.0C499.7 1386.0 508.0 1386.7 516.0 1388.0C524.0 1389.3 531.7 1390.3 540.0 1392.0C548.3 1393.7 557.3 1396.0 566.0 1398.0C574.7 1400.0 588.0 1402.0 592.0 1404.0C596.0 1406.0 595.0 1409.8 590.0 1410.0C585.0 1410.2 571.0 1406.8 562.0 1405.0C553.0 1403.2 544.7 1400.7 536.0 1399.0C527.3 1397.3 518.3 1396.2 510.0 1395.0C501.7 1393.8 493.7 1393.8 486.0 1392.0C478.3 1390.2 470.7 1387.0 464.0 1384.0C457.3 1381.0 451.7 1377.3 446.0 1374.0C440.3 1370.7 432.3 1367.0 430.0 1364.0C427.7 1361.0 428.7 1355.7 432.0 1356.0Z"/>
<path d="M556.0 1316.0C558.3 1314.7 569.0 1317.3 576.0 1318.0C583.0 1318.7 591.7 1320.0 598.0 1320.0C604.3 1320.0 612.7 1316.7 614.0 1318.0C615.3 1319.3 611.0 1326.0 606.0 1328.0C601.0 1330.0 591.3 1330.3 584.0 1330.0C576.7 1329.7 566.7 1328.3 562.0 1326.0C557.3 1323.7 553.7 1317.3 556.0 1316.0Z" opacity="0.8"/>
<path d="M452.0 1300.0C453.7 1297.3 462.0 1295.3 470.0 1294.0C478.0 1292.7 490.0 1291.7 500.0 1292.0C510.0 1292.3 520.7 1294.0 530.0 1296.0C539.3 1298.0 551.0 1301.0 556.0 1304.0C561.0 1307.0 562.7 1311.3 560.0 1314.0C557.3 1316.7 548.3 1318.7 540.0 1320.0C531.7 1321.3 520.0 1322.3 510.0 1322.0C500.0 1321.7 488.3 1320.0 480.0 1318.0C471.7 1316.0 464.7 1313.0 460.0 1310.0C455.3 1307.0 450.3 1302.7 452.0 1300.0Z" opacity="0.9"/>
<path d="M356.0 1268.0C357.7 1267.0 368.0 1270.0 374.0 1272.0C380.0 1274.0 386.3 1277.3 392.0 1280.0C397.7 1282.7 406.7 1286.0 408.0 1288.0C409.3 1290.0 404.3 1292.3 400.0 1292.0C395.7 1291.7 388.0 1288.3 382.0 1286.0C376.0 1283.7 368.3 1281.0 364.0 1278.0C359.7 1275.0 354.3 1269.0 356.0 1268.0Z" opacity="0.7"/>
</g>
<g fill="#fefbfd" filter="url(#rough2)">
<path d="M468.0 1301.0C469.7 1299.4 478.0 1299.0 484.0 1298.5C490.0 1298.0 497.3 1297.8 504.0 1298.0C510.7 1298.2 517.7 1299.0 524.0 1300.0C530.3 1301.0 537.2 1302.5 542.0 1304.0C546.8 1305.5 553.3 1307.8 553.0 1309.0C552.7 1310.2 544.8 1310.5 540.0 1311.0C535.2 1311.5 529.0 1311.2 524.0 1312.0C519.0 1312.8 514.7 1315.1 510.0 1316.0C505.3 1316.9 500.3 1317.8 496.0 1317.5C491.7 1317.2 487.7 1315.6 484.0 1314.0C480.3 1312.4 476.7 1310.2 474.0 1308.0C471.3 1305.8 466.3 1302.6 468.0 1301.0Z"/>
<path d="M520.0 1389.0C523.3 1389.1 536.0 1392.3 544.0 1394.0C552.0 1395.7 560.0 1397.2 568.0 1399.0C576.0 1400.8 583.7 1403.0 592.0 1405.0C600.3 1407.0 609.7 1409.2 618.0 1411.0C626.3 1412.8 634.7 1415.3 642.0 1416.0C649.3 1416.7 656.5 1415.3 662.0 1415.0C667.5 1414.7 674.7 1413.2 675.0 1414.0C675.3 1414.8 668.8 1418.6 664.0 1420.0C659.2 1421.4 653.0 1422.8 646.0 1422.5C639.0 1422.2 630.0 1419.8 622.0 1418.0C614.0 1416.2 606.3 1414.2 598.0 1412.0C589.7 1409.8 580.7 1407.2 572.0 1405.0C563.3 1402.8 554.0 1400.9 546.0 1399.0C538.0 1397.1 528.3 1395.2 524.0 1393.5C519.7 1391.8 516.7 1388.9 520.0 1389.0Z"/>
<path d="M370.0 1372.0C371.0 1371.7 379.3 1377.0 384.0 1380.0C388.7 1383.0 393.3 1386.5 398.0 1390.0C402.7 1393.5 407.7 1397.7 412.0 1401.0C416.3 1404.3 421.0 1407.7 424.0 1410.0C427.0 1412.3 430.7 1414.7 430.0 1415.0C429.3 1415.3 424.0 1414.0 420.0 1412.0C416.0 1410.0 410.7 1406.2 406.0 1403.0C401.3 1399.8 396.7 1396.5 392.0 1393.0C387.3 1389.5 381.7 1385.5 378.0 1382.0C374.3 1378.5 369.0 1372.3 370.0 1372.0Z" opacity="0.75"/>
<path d="M410.0 1283.0C411.7 1283.2 416.3 1285.8 420.0 1288.0C423.7 1290.2 428.3 1293.2 432.0 1296.0C435.7 1298.8 442.0 1304.0 442.0 1305.0C442.0 1306.0 435.7 1303.8 432.0 1302.0C428.3 1300.2 423.7 1296.5 420.0 1294.0C416.3 1291.5 411.7 1288.8 410.0 1287.0C408.3 1285.2 408.3 1282.8 410.0 1283.0Z" opacity="0.9"/>
</g>
<path d="M458.0 1350.0C457.7 1345.7 459.3 1341.7 462.0 1338.0C464.7 1334.3 469.0 1330.3 474.0 1328.0C479.0 1325.7 485.3 1324.5 492.0 1324.0C498.7 1323.5 506.7 1324.3 514.0 1325.0C521.3 1325.7 528.3 1327.3 536.0 1328.0C543.7 1328.7 552.3 1328.5 560.0 1329.0C567.7 1329.5 580.0 1328.8 582.0 1331.0C584.0 1333.2 577.0 1338.5 572.0 1342.0C567.0 1345.5 558.0 1348.3 552.0 1352.0C546.0 1355.7 541.7 1360.3 536.0 1364.0C530.3 1367.7 524.7 1371.7 518.0 1374.0C511.3 1376.3 503.0 1378.0 496.0 1378.0C489.0 1378.0 481.3 1376.3 476.0 1374.0C470.7 1371.7 467.0 1368.0 464.0 1364.0C461.0 1360.0 458.3 1354.3 458.0 1350.0Z" fill="none" stroke="#cf96cb" stroke-width="7" opacity="0.55" filter="url(#b2)"/>
<path d="M465.8 1352.0C465.4 1349.2 465.8 1345.7 466.8 1343.0C467.8 1340.3 469.6 1337.8 472.0 1336.0C474.4 1334.2 477.7 1333.2 481.0 1332.5C484.3 1331.8 488.2 1331.6 492.0 1331.5C495.8 1331.4 500.0 1331.7 504.0 1332.0C508.0 1332.3 512.0 1333.0 516.0 1333.5C520.0 1334.0 524.0 1334.6 528.0 1335.0C532.0 1335.4 536.0 1335.8 540.0 1336.0C544.0 1336.2 547.7 1336.2 552.0 1336.5C556.3 1336.8 565.3 1337.2 566.0 1338.0C566.7 1338.8 559.3 1340.0 556.0 1341.0C552.7 1342.0 548.8 1342.7 546.0 1344.0C543.2 1345.3 540.8 1347.2 539.0 1349.0C537.2 1350.8 536.8 1353.0 535.0 1355.0C533.2 1357.0 530.8 1359.2 528.0 1361.0C525.2 1362.8 522.0 1364.7 518.0 1366.0C514.0 1367.3 508.7 1368.5 504.0 1369.0C499.3 1369.5 494.5 1369.6 490.0 1369.0C485.5 1368.4 480.5 1367.0 477.0 1365.5C473.5 1364.0 470.9 1362.2 469.0 1360.0C467.1 1357.8 466.2 1354.8 465.8 1352.0Z" fill="#fefcfe" filter="url(#rough2)"/>
<g fill="#4f3d8c" filter="url(#b05)"><ellipse cx="464.5" cy="1352.8" rx="1.5" ry="1.0" transform="rotate(172 464.5 1352.8)" opacity="0.80"/><ellipse cx="463.9" cy="1346.4" rx="2.1" ry="1.0" transform="rotate(-178 463.9 1346.4)" opacity="0.86"/><ellipse cx="467.1" cy="1340.7" rx="1.6" ry="0.9" transform="rotate(-171 467.1 1340.7)" opacity="0.85"/><ellipse cx="471.0" cy="1334.7" rx="1.4" ry="0.9" transform="rotate(-164 471.0 1334.7)" opacity="0.94"/><ellipse cx="478.6" cy="1330.9" rx="1.5" ry="1.2" transform="rotate(-155 478.6 1330.9)" opacity="0.93"/><ellipse cx="486.4" cy="1331.6" rx="1.5" ry="1.1" transform="rotate(-148 486.4 1331.6)" opacity="0.95"/><ellipse cx="492.4" cy="1330.0" rx="2.1" ry="0.9" transform="rotate(-140 492.4 1330.0)" opacity="0.76"/><ellipse cx="501.3" cy="1329.9" rx="1.7" ry="1.0" transform="rotate(-121 501.3 1329.9)" opacity="0.76"/><ellipse cx="504.8" cy="1330.5" rx="1.4" ry="1.2" transform="rotate(-112 504.8 1330.5)" opacity="0.73"/><ellipse cx="515.7" cy="1332.1" rx="2.3" ry="1.2" transform="rotate(-79 515.7 1332.1)" opacity="0.90"/><ellipse cx="522.5" cy="1332.3" rx="2.3" ry="1.0" transform="rotate(-53 522.5 1332.3)" opacity="0.91"/><ellipse cx="527.0" cy="1333.8" rx="2.4" ry="1.0" transform="rotate(-39 527.0 1333.8)" opacity="0.78"/><ellipse cx="536.7" cy="1334.1" rx="1.8" ry="1.1" transform="rotate(-27 536.7 1334.1)" opacity="0.78"/><ellipse cx="542.2" cy="1336.1" rx="1.5" ry="0.9" transform="rotate(-20 542.2 1336.1)" opacity="0.82"/><ellipse cx="551.4" cy="1336.7" rx="1.8" ry="0.8" transform="rotate(-16 551.4 1336.7)" opacity="0.85"/><ellipse cx="557.4" cy="1336.9" rx="1.9" ry="1.0" transform="rotate(-13 557.4 1336.9)" opacity="0.97"/><ellipse cx="562.8" cy="1337.1" rx="2.4" ry="1.2" transform="rotate(-11 562.8 1337.1)" opacity="0.81"/><ellipse cx="565.6" cy="1337.5" rx="1.8" ry="1.0" transform="rotate(-9 565.6 1337.5)" opacity="0.81"/><ellipse cx="558.5" cy="1341.2" rx="2.1" ry="0.8" transform="rotate(-8 558.5 1341.2)" opacity="0.79"/><ellipse cx="552.7" cy="1342.7" rx="1.5" ry="1.0" transform="rotate(-6 552.7 1342.7)" opacity="0.71"/><ellipse cx="547.2" cy="1344.2" rx="1.7" ry="0.8" transform="rotate(-5 547.2 1344.2)" opacity="0.85"/><ellipse cx="539.9" cy="1350.3" rx="1.4" ry="1.0" transform="rotate(6 539.9 1350.3)" opacity="0.70"/><ellipse cx="536.0" cy="1356.5" rx="2.2" ry="1.0" transform="rotate(19 536.0 1356.5)" opacity="0.71"/><ellipse cx="534.0" cy="1358.9" rx="2.3" ry="1.2" transform="rotate(29 534.0 1358.9)" opacity="0.78"/><ellipse cx="525.3" cy="1364.5" rx="1.8" ry="1.0" transform="rotate(52 525.3 1364.5)" opacity="0.99"/><ellipse cx="518.5" cy="1367.5" rx="1.8" ry="1.0" transform="rotate(72 518.5 1367.5)" opacity="0.90"/><ellipse cx="512.2" cy="1369.8" rx="1.6" ry="1.1" transform="rotate(90 512.2 1369.8)" opacity="0.88"/><ellipse cx="505.7" cy="1371.3" rx="2.0" ry="0.9" transform="rotate(106 505.7 1371.3)" opacity="0.73"/><ellipse cx="496.9" cy="1370.6" rx="2.4" ry="1.1" transform="rotate(121 496.9 1370.6)" opacity="0.75"/><ellipse cx="492.3" cy="1369.7" rx="1.6" ry="0.9" transform="rotate(130 492.3 1369.7)" opacity="0.85"/><ellipse cx="483.5" cy="1368.1" rx="2.0" ry="0.9" transform="rotate(142 483.5 1368.1)" opacity="0.78"/><ellipse cx="476.6" cy="1365.4" rx="2.2" ry="1.1" transform="rotate(152 476.6 1365.4)" opacity="0.99"/><ellipse cx="470.3" cy="1363.1" rx="1.9" ry="1.1" transform="rotate(159 470.3 1363.1)" opacity="0.85"/><ellipse cx="467.1" cy="1358.8" rx="2.0" ry="1.1" transform="rotate(166 467.1 1358.8)" opacity="0.83"/></g>
<g fill="#4f3f90" filter="url(#b05)"><ellipse cx="428.0" cy="1292.2" rx="2.3" ry="1.2" transform="rotate(48 428.0 1292.2)" opacity="0.84"/><ellipse cx="419.5" cy="1291.3" rx="2.4" ry="1.4" transform="rotate(41 419.5 1291.3)" opacity="0.73"/><ellipse cx="456.7" cy="1326.7" rx="2.5" ry="1.3" transform="rotate(57 456.7 1326.7)" opacity="0.87"/><ellipse cx="442.7" cy="1323.6" rx="2.3" ry="1.4" transform="rotate(43 442.7 1323.6)" opacity="0.97"/><ellipse cx="456.2" cy="1317.6" rx="1.9" ry="1.1" transform="rotate(39 456.2 1317.6)" opacity="0.93"/><ellipse cx="466.9" cy="1328.9" rx="2.6" ry="1.3" transform="rotate(7 466.9 1328.9)" opacity="0.91"/><ellipse cx="471.5" cy="1324.6" rx="2.5" ry="1.2" transform="rotate(38 471.5 1324.6)" opacity="0.72"/><ellipse cx="459.4" cy="1329.8" rx="1.8" ry="1.2" transform="rotate(52 459.4 1329.8)" opacity="0.88"/><ellipse cx="433.8" cy="1298.5" rx="2.8" ry="1.0" transform="rotate(59 433.8 1298.5)" opacity="0.90"/><ellipse cx="431.2" cy="1297.3" rx="2.2" ry="1.4" transform="rotate(15 431.2 1297.3)" opacity="0.75"/><ellipse cx="468.9" cy="1322.3" rx="2.3" ry="1.4" transform="rotate(20 468.9 1322.3)" opacity="0.88"/><ellipse cx="417.5" cy="1282.8" rx="2.6" ry="1.3" transform="rotate(29 417.5 1282.8)" opacity="0.79"/><ellipse cx="460.9" cy="1327.2" rx="2.1" ry="1.4" transform="rotate(15 460.9 1327.2)" opacity="0.89"/><ellipse cx="427.4" cy="1310.0" rx="2.7" ry="1.1" transform="rotate(28 427.4 1310.0)" opacity="0.88"/><ellipse cx="413.7" cy="1282.4" rx="1.7" ry="1.1" transform="rotate(45 413.7 1282.4)" opacity="0.85"/><ellipse cx="445.9" cy="1326.8" rx="2.0" ry="1.4" transform="rotate(21 445.9 1326.8)" opacity="0.85"/><ellipse cx="423.9" cy="1289.6" rx="2.1" ry="1.2" transform="rotate(26 423.9 1289.6)" opacity="0.95"/><ellipse cx="436.5" cy="1297.4" rx="1.9" ry="1.2" transform="rotate(25 436.5 1297.4)" opacity="1.00"/><ellipse cx="430.5" cy="1291.3" rx="2.3" ry="1.4" transform="rotate(43 430.5 1291.3)" opacity="0.91"/><ellipse cx="445.7" cy="1317.7" rx="1.6" ry="1.4" transform="rotate(57 445.7 1317.7)" opacity="0.99"/><ellipse cx="412.9" cy="1287.2" rx="2.0" ry="1.3" transform="rotate(29 412.9 1287.2)" opacity="0.86"/><ellipse cx="466.2" cy="1322.6" rx="2.0" ry="1.1" transform="rotate(16 466.2 1322.6)" opacity="0.84"/><ellipse cx="432.4" cy="1295.5" rx="2.5" ry="1.3" transform="rotate(59 432.4 1295.5)" opacity="0.75"/><ellipse cx="443.4" cy="1323.3" rx="2.4" ry="1.3" transform="rotate(58 443.4 1323.3)" opacity="0.92"/><ellipse cx="466.4" cy="1334.3" rx="1.8" ry="1.2" transform="rotate(29 466.4 1334.3)" opacity="0.91"/><ellipse cx="455.6" cy="1325.7" rx="2.0" ry="1.0" transform="rotate(18 455.6 1325.7)" opacity="0.89"/><ellipse cx="440.2" cy="1311.6" rx="2.2" ry="1.4" transform="rotate(59 440.2 1311.6)" opacity="0.88"/><ellipse cx="467.9" cy="1326.4" rx="1.9" ry="1.0" transform="rotate(57 467.9 1326.4)" opacity="0.80"/><ellipse cx="455.5" cy="1331.9" rx="2.6" ry="1.1" transform="rotate(29 455.5 1331.9)" opacity="0.91"/><ellipse cx="419.2" cy="1301.4" rx="2.5" ry="1.0" transform="rotate(10 419.2 1301.4)" opacity="0.78"/><ellipse cx="579.8" cy="1345.2" rx="2.4" ry="1.4" transform="rotate(4 579.8 1345.2)" opacity="0.96"/><ellipse cx="545.5" cy="1351.2" rx="2.2" ry="1.2" transform="rotate(20 545.5 1351.2)" opacity="0.61"/><ellipse cx="573.6" cy="1344.8" rx="2.0" ry="1.1" transform="rotate(24 573.6 1344.8)" opacity="0.75"/><ellipse cx="591.8" cy="1354.3" rx="2.8" ry="1.5" transform="rotate(26 591.8 1354.3)" opacity="0.81"/><ellipse cx="541.9" cy="1343.1" rx="2.7" ry="1.3" transform="rotate(27 541.9 1343.1)" opacity="0.95"/><ellipse cx="545.3" cy="1350.8" rx="2.1" ry="1.4" transform="rotate(5 545.3 1350.8)" opacity="0.76"/><ellipse cx="590.6" cy="1358.2" rx="2.1" ry="1.2" transform="rotate(29 590.6 1358.2)" opacity="0.88"/><ellipse cx="532.0" cy="1355.0" rx="2.3" ry="1.0" transform="rotate(23 532.0 1355.0)" opacity="0.61"/><ellipse cx="543.8" cy="1346.0" rx="3.1" ry="1.2" transform="rotate(27 543.8 1346.0)" opacity="0.68"/><ellipse cx="587.6" cy="1352.9" rx="2.7" ry="1.1" transform="rotate(11 587.6 1352.9)" opacity="0.98"/><ellipse cx="535.7" cy="1339.9" rx="2.2" ry="1.3" transform="rotate(14 535.7 1339.9)" opacity="0.67"/><ellipse cx="551.4" cy="1356.5" rx="2.1" ry="1.3" transform="rotate(5 551.4 1356.5)" opacity="0.87"/><ellipse cx="552.4" cy="1356.4" rx="2.9" ry="1.2" transform="rotate(26 552.4 1356.4)" opacity="0.87"/><ellipse cx="589.6" cy="1357.0" rx="3.0" ry="1.5" transform="rotate(-3 589.6 1357.0)" opacity="0.85"/><ellipse cx="570.0" cy="1359.3" rx="3.0" ry="1.5" transform="rotate(4 570.0 1359.3)" opacity="0.77"/><ellipse cx="564.0" cy="1356.0" rx="2.7" ry="1.2" transform="rotate(1 564.0 1356.0)" opacity="0.91"/><ellipse cx="580.7" cy="1353.7" rx="2.4" ry="1.2" transform="rotate(-3 580.7 1353.7)" opacity="0.71"/><ellipse cx="583.5" cy="1360.3" rx="2.9" ry="1.1" transform="rotate(-8 583.5 1360.3)" opacity="0.85"/><ellipse cx="574.3" cy="1359.0" rx="1.9" ry="1.4" transform="rotate(21 574.3 1359.0)" opacity="0.78"/><ellipse cx="579.0" cy="1353.2" rx="2.8" ry="1.1" transform="rotate(19 579.0 1353.2)" opacity="0.96"/><ellipse cx="570.3" cy="1351.9" rx="2.6" ry="1.4" transform="rotate(20 570.3 1351.9)" opacity="0.79"/><ellipse cx="573.7" cy="1357.9" rx="3.0" ry="1.4" transform="rotate(26 573.7 1357.9)" opacity="0.71"/></g>
<g fill="#f8ecf7" filter="url(#b05)"><ellipse cx="363.1" cy="1260.0" rx="13.8" ry="1.5" transform="rotate(24 363.1 1260.0)" opacity="0.48"/><ellipse cx="471.2" cy="1429.8" rx="14.0" ry="0.8" transform="rotate(24 471.2 1429.8)" opacity="0.62"/><ellipse cx="613.3" cy="1335.0" rx="14.9" ry="1.3" transform="rotate(18 613.3 1335.0)" opacity="0.50"/><ellipse cx="574.4" cy="1417.8" rx="15.6" ry="0.9" transform="rotate(11 574.4 1417.8)" opacity="0.79"/><ellipse cx="418.8" cy="1427.8" rx="14.3" ry="1.3" transform="rotate(30 418.8 1427.8)" opacity="0.52"/><ellipse cx="409.1" cy="1265.6" rx="13.0" ry="1.3" transform="rotate(18 409.1 1265.6)" opacity="0.58"/><ellipse cx="648.1" cy="1392.0" rx="13.0" ry="1.1" transform="rotate(20 648.1 1392.0)" opacity="0.70"/><ellipse cx="625.2" cy="1353.4" rx="13.2" ry="1.4" transform="rotate(30 625.2 1353.4)" opacity="0.56"/><ellipse cx="392.0" cy="1394.3" rx="5.2" ry="1.5" transform="rotate(13 392.0 1394.3)" opacity="0.67"/><ellipse cx="389.9" cy="1329.9" rx="8.9" ry="1.0" transform="rotate(19 389.9 1329.9)" opacity="0.58"/><ellipse cx="602.7" cy="1287.2" rx="9.8" ry="0.8" transform="rotate(34 602.7 1287.2)" opacity="0.50"/><ellipse cx="359.2" cy="1320.7" rx="14.2" ry="1.1" transform="rotate(11 359.2 1320.7)" opacity="0.45"/><ellipse cx="368.0" cy="1285.2" rx="13.6" ry="0.9" transform="rotate(14 368.0 1285.2)" opacity="0.50"/><ellipse cx="424.7" cy="1284.0" rx="12.5" ry="0.7" transform="rotate(32 424.7 1284.0)" opacity="0.81"/><ellipse cx="567.3" cy="1430.1" rx="7.5" ry="0.9" transform="rotate(5 567.3 1430.1)" opacity="0.76"/><ellipse cx="438.0" cy="1327.5" rx="12.9" ry="1.4" transform="rotate(13 438.0 1327.5)" opacity="0.52"/><ellipse cx="636.4" cy="1366.4" rx="8.2" ry="1.2" transform="rotate(31 636.4 1366.4)" opacity="0.53"/><ellipse cx="454.1" cy="1317.9" rx="15.7" ry="1.4" transform="rotate(33 454.1 1317.9)" opacity="0.46"/><ellipse cx="672.4" cy="1402.2" rx="8.3" ry="1.5" transform="rotate(25 672.4 1402.2)" opacity="0.66"/><ellipse cx="603.5" cy="1345.4" rx="8.8" ry="1.3" transform="rotate(21 603.5 1345.4)" opacity="0.82"/><ellipse cx="655.1" cy="1381.7" rx="7.4" ry="0.9" transform="rotate(16 655.1 1381.7)" opacity="0.77"/><ellipse cx="444.5" cy="1374.8" rx="6.9" ry="1.3" transform="rotate(19 444.5 1374.8)" opacity="0.72"/><ellipse cx="652.4" cy="1407.3" rx="15.9" ry="1.0" transform="rotate(29 652.4 1407.3)" opacity="0.62"/><ellipse cx="588.3" cy="1367.6" rx="7.8" ry="1.2" transform="rotate(21 588.3 1367.6)" opacity="0.65"/><ellipse cx="576.9" cy="1337.9" rx="12.2" ry="0.9" transform="rotate(17 576.9 1337.9)" opacity="0.70"/><ellipse cx="557.2" cy="1383.1" rx="10.5" ry="1.4" transform="rotate(23 557.2 1383.1)" opacity="0.63"/><ellipse cx="454.4" cy="1434.0" rx="5.7" ry="0.9" transform="rotate(25 454.4 1434.0)" opacity="0.73"/><ellipse cx="474.4" cy="1321.3" rx="7.0" ry="1.2" transform="rotate(5 474.4 1321.3)" opacity="0.79"/><ellipse cx="455.1" cy="1408.4" rx="12.3" ry="1.3" transform="rotate(20 455.1 1408.4)" opacity="0.50"/><ellipse cx="653.5" cy="1296.9" rx="9.9" ry="0.7" transform="rotate(9 653.5 1296.9)" opacity="0.85"/><ellipse cx="586.8" cy="1292.3" rx="11.0" ry="1.4" transform="rotate(2 586.8 1292.3)" opacity="0.82"/><ellipse cx="507.4" cy="1380.7" rx="9.6" ry="1.0" transform="rotate(23 507.4 1380.7)" opacity="0.82"/><ellipse cx="462.0" cy="1315.2" rx="10.4" ry="0.9" transform="rotate(28 462.0 1315.2)" opacity="0.80"/><ellipse cx="670.5" cy="1324.5" rx="7.1" ry="0.8" transform="rotate(5 670.5 1324.5)" opacity="0.63"/><ellipse cx="447.1" cy="1415.6" rx="14.3" ry="1.2" transform="rotate(28 447.1 1415.6)" opacity="0.54"/><ellipse cx="477.0" cy="1377.2" rx="9.9" ry="1.2" transform="rotate(26 477.0 1377.2)" opacity="0.57"/><ellipse cx="395.7" cy="1280.2" rx="12.5" ry="0.9" transform="rotate(22 395.7 1280.2)" opacity="0.71"/><ellipse cx="500.4" cy="1274.0" rx="5.7" ry="1.3" transform="rotate(30 500.4 1274.0)" opacity="0.54"/><ellipse cx="418.4" cy="1304.2" rx="5.8" ry="1.4" transform="rotate(19 418.4 1304.2)" opacity="0.76"/><ellipse cx="530.4" cy="1373.9" rx="6.2" ry="1.4" transform="rotate(9 530.4 1373.9)" opacity="0.81"/><ellipse cx="580.9" cy="1324.7" rx="7.1" ry="1.1" transform="rotate(14 580.9 1324.7)" opacity="0.74"/><ellipse cx="632.5" cy="1391.7" rx="15.6" ry="1.4" transform="rotate(12 632.5 1391.7)" opacity="0.78"/><ellipse cx="463.9" cy="1300.9" rx="6.5" ry="1.4" transform="rotate(18 463.9 1300.9)" opacity="0.50"/><ellipse cx="533.7" cy="1406.2" rx="7.8" ry="1.4" transform="rotate(4 533.7 1406.2)" opacity="0.53"/><ellipse cx="398.1" cy="1419.4" rx="11.9" ry="1.2" transform="rotate(7 398.1 1419.4)" opacity="0.60"/><ellipse cx="386.5" cy="1261.9" rx="8.7" ry="1.3" transform="rotate(17 386.5 1261.9)" opacity="0.63"/><ellipse cx="350.3" cy="1388.1" rx="15.2" ry="1.0" transform="rotate(30 350.3 1388.1)" opacity="0.70"/><ellipse cx="615.0" cy="1399.0" rx="9.8" ry="0.9" transform="rotate(6 615.0 1399.0)" opacity="0.56"/><ellipse cx="380.4" cy="1362.2" rx="9.5" ry="1.2" transform="rotate(20 380.4 1362.2)" opacity="0.65"/><ellipse cx="398.1" cy="1339.3" rx="12.8" ry="1.2" transform="rotate(6 398.1 1339.3)" opacity="0.49"/><ellipse cx="371.9" cy="1406.0" rx="6.8" ry="0.8" transform="rotate(10 371.9 1406.0)" opacity="0.58"/><ellipse cx="570.7" cy="1417.0" rx="15.1" ry="1.2" transform="rotate(5 570.7 1417.0)" opacity="0.77"/><ellipse cx="519.7" cy="1294.3" rx="15.2" ry="0.9" transform="rotate(11 519.7 1294.3)" opacity="0.72"/><ellipse cx="612.1" cy="1410.9" rx="12.8" ry="1.4" transform="rotate(26 612.1 1410.9)" opacity="0.76"/><ellipse cx="437.0" cy="1384.6" rx="15.1" ry="1.1" transform="rotate(21 437.0 1384.6)" opacity="0.76"/><ellipse cx="603.7" cy="1290.8" rx="8.0" ry="1.1" transform="rotate(25 603.7 1290.8)" opacity="0.48"/><ellipse cx="658.9" cy="1343.8" rx="14.5" ry="1.1" transform="rotate(7 658.9 1343.8)" opacity="0.46"/><ellipse cx="443.5" cy="1372.7" rx="7.6" ry="0.7" transform="rotate(19 443.5 1372.7)" opacity="0.54"/><ellipse cx="612.1" cy="1435.5" rx="5.4" ry="0.7" transform="rotate(11 612.1 1435.5)" opacity="0.80"/><ellipse cx="604.9" cy="1408.8" rx="13.1" ry="1.1" transform="rotate(18 604.9 1408.8)" opacity="0.57"/></g>
<g fill="#7b5aaa" filter="url(#b05)"><ellipse cx="553.2" cy="1253.5" rx="3.9" ry="1.4" transform="rotate(36 553.2 1253.5)" opacity="0.87"/><ellipse cx="373.3" cy="1315.2" rx="3.4" ry="1.5" transform="rotate(15 373.3 1315.2)" opacity="0.64"/><ellipse cx="383.0" cy="1338.0" rx="4.6" ry="1.0" transform="rotate(23 383.0 1338.0)" opacity="0.57"/><ellipse cx="451.3" cy="1434.1" rx="2.9" ry="1.6" transform="rotate(24 451.3 1434.1)" opacity="0.67"/><ellipse cx="558.2" cy="1362.6" rx="3.6" ry="1.5" transform="rotate(4 558.2 1362.6)" opacity="0.71"/><ellipse cx="375.1" cy="1260.4" rx="2.5" ry="1.7" transform="rotate(35 375.1 1260.4)" opacity="0.71"/><ellipse cx="511.3" cy="1432.2" rx="3.4" ry="1.4" transform="rotate(-3 511.3 1432.2)" opacity="0.52"/><ellipse cx="600.2" cy="1372.3" rx="3.6" ry="1.5" transform="rotate(18 600.2 1372.3)" opacity="0.53"/><ellipse cx="462.9" cy="1375.5" rx="4.1" ry="1.7" transform="rotate(16 462.9 1375.5)" opacity="0.58"/><ellipse cx="544.3" cy="1408.2" rx="2.9" ry="1.3" transform="rotate(20 544.3 1408.2)" opacity="0.68"/><ellipse cx="413.7" cy="1281.7" rx="2.9" ry="1.5" transform="rotate(0 413.7 1281.7)" opacity="0.60"/><ellipse cx="518.4" cy="1312.3" rx="4.4" ry="1.6" transform="rotate(3 518.4 1312.3)" opacity="0.58"/><ellipse cx="412.6" cy="1309.7" rx="4.0" ry="1.4" transform="rotate(35 412.6 1309.7)" opacity="0.75"/><ellipse cx="514.0" cy="1305.8" rx="3.7" ry="1.3" transform="rotate(8 514.0 1305.8)" opacity="0.86"/><ellipse cx="367.6" cy="1266.9" rx="2.6" ry="1.0" transform="rotate(33 367.6 1266.9)" opacity="0.53"/><ellipse cx="388.1" cy="1418.2" rx="2.5" ry="1.0" transform="rotate(36 388.1 1418.2)" opacity="0.80"/><ellipse cx="394.7" cy="1349.8" rx="3.2" ry="1.6" transform="rotate(7 394.7 1349.8)" opacity="0.65"/><ellipse cx="551.4" cy="1275.9" rx="4.2" ry="1.5" transform="rotate(5 551.4 1275.9)" opacity="0.81"/><ellipse cx="406.8" cy="1342.9" rx="4.1" ry="1.6" transform="rotate(13 406.8 1342.9)" opacity="0.52"/><ellipse cx="477.4" cy="1284.1" rx="3.6" ry="1.6" transform="rotate(-4 477.4 1284.1)" opacity="0.70"/><ellipse cx="554.0" cy="1275.4" rx="3.0" ry="1.4" transform="rotate(40 554.0 1275.4)" opacity="0.67"/><ellipse cx="531.6" cy="1328.1" rx="3.9" ry="1.3" transform="rotate(33 531.6 1328.1)" opacity="0.77"/><ellipse cx="546.7" cy="1375.9" rx="3.9" ry="1.5" transform="rotate(34 546.7 1375.9)" opacity="0.73"/><ellipse cx="465.0" cy="1410.2" rx="4.4" ry="1.3" transform="rotate(15 465.0 1410.2)" opacity="0.65"/><ellipse cx="551.3" cy="1402.9" rx="3.7" ry="1.6" transform="rotate(24 551.3 1402.9)" opacity="0.63"/><ellipse cx="459.5" cy="1415.2" rx="4.4" ry="1.6" transform="rotate(14 459.5 1415.2)" opacity="0.52"/><ellipse cx="563.3" cy="1394.8" rx="2.6" ry="1.3" transform="rotate(14 563.3 1394.8)" opacity="0.65"/><ellipse cx="379.3" cy="1433.5" rx="2.9" ry="1.0" transform="rotate(16 379.3 1433.5)" opacity="0.76"/><ellipse cx="655.0" cy="1354.6" rx="3.0" ry="1.2" transform="rotate(22 655.0 1354.6)" opacity="0.56"/><ellipse cx="548.4" cy="1429.9" rx="3.1" ry="1.1" transform="rotate(7 548.4 1429.9)" opacity="0.59"/><ellipse cx="421.5" cy="1300.7" rx="3.9" ry="1.1" transform="rotate(34 421.5 1300.7)" opacity="0.78"/><ellipse cx="562.1" cy="1431.1" rx="4.0" ry="1.0" transform="rotate(29 562.1 1431.1)" opacity="0.68"/><ellipse cx="457.7" cy="1271.6" rx="2.9" ry="1.6" transform="rotate(8 457.7 1271.6)" opacity="0.81"/><ellipse cx="672.7" cy="1296.0" rx="3.0" ry="1.7" transform="rotate(3 672.7 1296.0)" opacity="0.68"/><ellipse cx="515.4" cy="1310.3" rx="4.4" ry="1.4" transform="rotate(23 515.4 1310.3)" opacity="0.73"/><ellipse cx="450.8" cy="1364.2" rx="3.3" ry="1.6" transform="rotate(31 450.8 1364.2)" opacity="0.83"/><ellipse cx="393.0" cy="1348.9" rx="4.1" ry="1.6" transform="rotate(19 393.0 1348.9)" opacity="0.62"/><ellipse cx="352.0" cy="1365.6" rx="3.0" ry="1.4" transform="rotate(26 352.0 1365.6)" opacity="0.80"/><ellipse cx="580.7" cy="1392.6" rx="3.6" ry="1.3" transform="rotate(16 580.7 1392.6)" opacity="0.80"/><ellipse cx="632.8" cy="1291.9" rx="2.9" ry="1.4" transform="rotate(-3 632.8 1291.9)" opacity="0.63"/><ellipse cx="609.2" cy="1411.7" rx="3.2" ry="1.4" transform="rotate(5 609.2 1411.7)" opacity="0.56"/><ellipse cx="406.8" cy="1387.8" rx="3.7" ry="1.1" transform="rotate(34 406.8 1387.8)" opacity="0.63"/><ellipse cx="522.2" cy="1308.7" rx="2.8" ry="1.2" transform="rotate(12 522.2 1308.7)" opacity="0.66"/><ellipse cx="487.3" cy="1385.0" rx="2.6" ry="1.3" transform="rotate(20 487.3 1385.0)" opacity="0.86"/><ellipse cx="619.1" cy="1278.4" rx="3.3" ry="1.6" transform="rotate(35 619.1 1278.4)" opacity="0.74"/><ellipse cx="482.3" cy="1427.3" rx="3.7" ry="1.6" transform="rotate(10 482.3 1427.3)" opacity="0.76"/><ellipse cx="379.7" cy="1381.0" rx="3.4" ry="1.5" transform="rotate(30 379.7 1381.0)" opacity="0.79"/><ellipse cx="539.1" cy="1428.8" rx="4.4" ry="1.2" transform="rotate(7 539.1 1428.8)" opacity="0.87"/><ellipse cx="495.6" cy="1305.8" rx="2.7" ry="1.5" transform="rotate(26 495.6 1305.8)" opacity="0.70"/><ellipse cx="562.0" cy="1307.4" rx="3.9" ry="1.2" transform="rotate(-0 562.0 1307.4)" opacity="0.58"/><ellipse cx="502.9" cy="1296.3" rx="4.0" ry="1.4" transform="rotate(5 502.9 1296.3)" opacity="0.56"/><ellipse cx="511.7" cy="1310.7" rx="2.5" ry="1.0" transform="rotate(5 511.7 1310.7)" opacity="0.86"/><ellipse cx="650.6" cy="1390.2" rx="4.5" ry="1.3" transform="rotate(10 650.6 1390.2)" opacity="0.85"/><ellipse cx="472.4" cy="1326.8" rx="2.4" ry="1.4" transform="rotate(-0 472.4 1326.8)" opacity="0.56"/><ellipse cx="369.0" cy="1299.6" rx="3.9" ry="1.2" transform="rotate(3 369.0 1299.6)" opacity="0.69"/><ellipse cx="442.1" cy="1367.6" rx="2.4" ry="1.6" transform="rotate(12 442.1 1367.6)" opacity="0.89"/><ellipse cx="351.4" cy="1430.5" rx="4.4" ry="1.4" transform="rotate(35 351.4 1430.5)" opacity="0.71"/><ellipse cx="349.8" cy="1435.7" rx="3.2" ry="1.3" transform="rotate(39 349.8 1435.7)" opacity="0.54"/><ellipse cx="585.4" cy="1300.9" rx="4.5" ry="1.6" transform="rotate(24 585.4 1300.9)" opacity="0.52"/><ellipse cx="617.5" cy="1297.6" rx="3.1" ry="1.1" transform="rotate(18 617.5 1297.6)" opacity="0.78"/><ellipse cx="594.1" cy="1286.0" rx="2.5" ry="1.7" transform="rotate(12 594.1 1286.0)" opacity="0.69"/><ellipse cx="360.5" cy="1281.0" rx="3.7" ry="1.4" transform="rotate(8 360.5 1281.0)" opacity="0.73"/><ellipse cx="389.8" cy="1410.1" rx="3.4" ry="1.3" transform="rotate(18 389.8 1410.1)" opacity="0.51"/><ellipse cx="414.7" cy="1270.8" rx="2.5" ry="1.3" transform="rotate(15 414.7 1270.8)" opacity="0.60"/><ellipse cx="439.1" cy="1339.9" rx="3.3" ry="1.4" transform="rotate(32 439.1 1339.9)" opacity="0.70"/><ellipse cx="562.2" cy="1356.1" rx="3.5" ry="1.1" transform="rotate(19 562.2 1356.1)" opacity="0.60"/><ellipse cx="467.1" cy="1418.9" rx="3.2" ry="1.5" transform="rotate(17 467.1 1418.9)" opacity="0.81"/><ellipse cx="660.9" cy="1272.2" rx="3.8" ry="1.3" transform="rotate(-2 660.9 1272.2)" opacity="0.59"/><ellipse cx="497.3" cy="1309.7" rx="2.9" ry="1.0" transform="rotate(29 497.3 1309.7)" opacity="0.63"/><ellipse cx="570.1" cy="1273.0" rx="4.1" ry="1.5" transform="rotate(7 570.1 1273.0)" opacity="0.65"/><ellipse cx="657.8" cy="1316.9" rx="3.4" ry="1.1" transform="rotate(15 657.8 1316.9)" opacity="0.86"/><ellipse cx="596.6" cy="1312.8" rx="3.0" ry="1.2" transform="rotate(-0 596.6 1312.8)" opacity="0.85"/><ellipse cx="626.4" cy="1360.7" rx="2.9" ry="1.4" transform="rotate(37 626.4 1360.7)" opacity="0.86"/><ellipse cx="593.2" cy="1336.0" rx="3.6" ry="1.6" transform="rotate(-3 593.2 1336.0)" opacity="0.70"/><ellipse cx="582.8" cy="1348.4" rx="3.2" ry="1.0" transform="rotate(-1 582.8 1348.4)" opacity="0.83"/><ellipse cx="364.3" cy="1284.0" rx="3.1" ry="1.2" transform="rotate(23 364.3 1284.0)" opacity="0.76"/><ellipse cx="647.8" cy="1278.7" rx="3.8" ry="1.1" transform="rotate(15 647.8 1278.7)" opacity="0.77"/><ellipse cx="477.9" cy="1263.7" rx="4.0" ry="1.5" transform="rotate(19 477.9 1263.7)" opacity="0.82"/><ellipse cx="587.7" cy="1319.9" rx="3.3" ry="1.4" transform="rotate(-2 587.7 1319.9)" opacity="0.59"/><ellipse cx="378.6" cy="1286.0" rx="3.4" ry="1.7" transform="rotate(20 378.6 1286.0)" opacity="0.81"/><ellipse cx="445.1" cy="1393.6" rx="3.8" ry="1.6" transform="rotate(13 445.1 1393.6)" opacity="0.61"/><ellipse cx="591.9" cy="1264.5" rx="3.6" ry="1.6" transform="rotate(13 591.9 1264.5)" opacity="0.78"/><ellipse cx="389.9" cy="1400.9" rx="3.0" ry="1.2" transform="rotate(38 389.9 1400.9)" opacity="0.59"/><ellipse cx="661.0" cy="1417.0" rx="3.5" ry="1.2" transform="rotate(8 661.0 1417.0)" opacity="0.53"/><ellipse cx="359.8" cy="1331.8" rx="4.4" ry="1.3" transform="rotate(25 359.8 1331.8)" opacity="0.64"/><ellipse cx="569.1" cy="1313.8" rx="3.6" ry="1.5" transform="rotate(26 569.1 1313.8)" opacity="0.79"/><ellipse cx="461.2" cy="1391.1" rx="3.4" ry="1.0" transform="rotate(38 461.2 1391.1)" opacity="0.69"/><ellipse cx="519.9" cy="1420.1" rx="2.8" ry="1.5" transform="rotate(16 519.9 1420.1)" opacity="0.79"/><ellipse cx="403.2" cy="1387.5" rx="3.5" ry="1.4" transform="rotate(29 403.2 1387.5)" opacity="0.86"/><ellipse cx="441.0" cy="1313.1" rx="2.7" ry="1.6" transform="rotate(18 441.0 1313.1)" opacity="0.54"/><ellipse cx="514.8" cy="1286.8" rx="4.2" ry="1.2" transform="rotate(35 514.8 1286.8)" opacity="0.65"/><ellipse cx="589.2" cy="1284.5" rx="4.5" ry="1.2" transform="rotate(-2 589.2 1284.5)" opacity="0.83"/><ellipse cx="383.2" cy="1272.4" rx="3.4" ry="1.1" transform="rotate(39 383.2 1272.4)" opacity="0.76"/><ellipse cx="555.7" cy="1289.5" rx="2.7" ry="1.4" transform="rotate(3 555.7 1289.5)" opacity="0.69"/><ellipse cx="363.7" cy="1296.9" rx="4.2" ry="1.5" transform="rotate(28 363.7 1296.9)" opacity="0.51"/><ellipse cx="434.8" cy="1363.1" rx="3.5" ry="1.3" transform="rotate(-1 434.8 1363.1)" opacity="0.85"/><ellipse cx="576.5" cy="1390.3" rx="4.2" ry="1.6" transform="rotate(-2 576.5 1390.3)" opacity="0.65"/><ellipse cx="668.3" cy="1398.2" rx="3.6" ry="1.3" transform="rotate(18 668.3 1398.2)" opacity="0.84"/><ellipse cx="643.8" cy="1282.8" rx="4.4" ry="1.0" transform="rotate(2 643.8 1282.8)" opacity="0.66"/><ellipse cx="599.7" cy="1341.3" rx="3.5" ry="1.1" transform="rotate(13 599.7 1341.3)" opacity="0.81"/><ellipse cx="577.1" cy="1381.4" rx="2.8" ry="1.7" transform="rotate(-0 577.1 1381.4)" opacity="0.80"/><ellipse cx="447.7" cy="1398.9" rx="3.7" ry="1.5" transform="rotate(6 447.7 1398.9)" opacity="0.80"/><ellipse cx="374.2" cy="1359.6" rx="3.5" ry="1.6" transform="rotate(18 374.2 1359.6)" opacity="0.87"/><ellipse cx="361.3" cy="1426.3" rx="2.5" ry="1.7" transform="rotate(27 361.3 1426.3)" opacity="0.63"/><ellipse cx="485.8" cy="1430.3" rx="3.1" ry="1.4" transform="rotate(15 485.8 1430.3)" opacity="0.76"/><ellipse cx="596.5" cy="1344.6" rx="2.5" ry="1.6" transform="rotate(7 596.5 1344.6)" opacity="0.88"/><ellipse cx="364.4" cy="1362.9" rx="2.5" ry="1.1" transform="rotate(3 364.4 1362.9)" opacity="0.73"/><ellipse cx="379.5" cy="1325.7" rx="3.7" ry="1.0" transform="rotate(1 379.5 1325.7)" opacity="0.88"/><ellipse cx="543.0" cy="1313.3" rx="3.1" ry="1.4" transform="rotate(21 543.0 1313.3)" opacity="0.79"/><ellipse cx="370.0" cy="1412.8" rx="3.3" ry="1.7" transform="rotate(24 370.0 1412.8)" opacity="0.81"/><ellipse cx="374.2" cy="1305.8" rx="3.8" ry="1.4" transform="rotate(30 374.2 1305.8)" opacity="0.56"/><ellipse cx="606.3" cy="1391.2" rx="3.7" ry="1.7" transform="rotate(39 606.3 1391.2)" opacity="0.79"/><ellipse cx="520.5" cy="1409.1" rx="4.3" ry="1.4" transform="rotate(-0 520.5 1409.1)" opacity="0.83"/><ellipse cx="594.8" cy="1319.0" rx="3.7" ry="1.6" transform="rotate(33 594.8 1319.0)" opacity="0.88"/><ellipse cx="604.0" cy="1339.8" rx="3.4" ry="1.4" transform="rotate(1 604.0 1339.8)" opacity="0.54"/></g>
</g>
<text x="0.4" y="1033.3" font-size="18.6" font-weight="bold" text-anchor="start" fill="#111" stroke="#111" stroke-width="0.3" >E</text>
<text x="335.0" y="1033.3" font-size="18.6" font-weight="bold" text-anchor="start" fill="#111" stroke="#111" stroke-width="0.3" >F</text>
<text x="1.0" y="1243.4" font-size="18.6" font-weight="bold" text-anchor="start" fill="#111" stroke="#111" stroke-width="0.3" >G</text>
<text x="341.6" y="1243.4" font-size="18.6" font-weight="bold" text-anchor="start" fill="#111" stroke="#111" stroke-width="0.3" >H</text>
<text x="170.8" y="1033.0" font-size="17.65" font-weight="bold" text-anchor="middle" fill="#111" stroke="#111" stroke-width="0.3" >Acellular Low P</text>
<text x="509.5" y="1033.0" font-size="17.65" font-weight="bold" text-anchor="middle" fill="#111" stroke="#111" stroke-width="0.3" >Acellular High P</text>
<text x="172.5" y="1243.4" font-size="17.65" font-weight="bold" text-anchor="middle" fill="#111" stroke="#111" stroke-width="0.3" >Cellular Low P</text>
<text x="511.2" y="1243.4" font-size="17.65" font-weight="bold" text-anchor="middle" fill="#111" stroke="#111" stroke-width="0.3" >Cellular High P</text>
</g>
</svg>
</body>
</html>
